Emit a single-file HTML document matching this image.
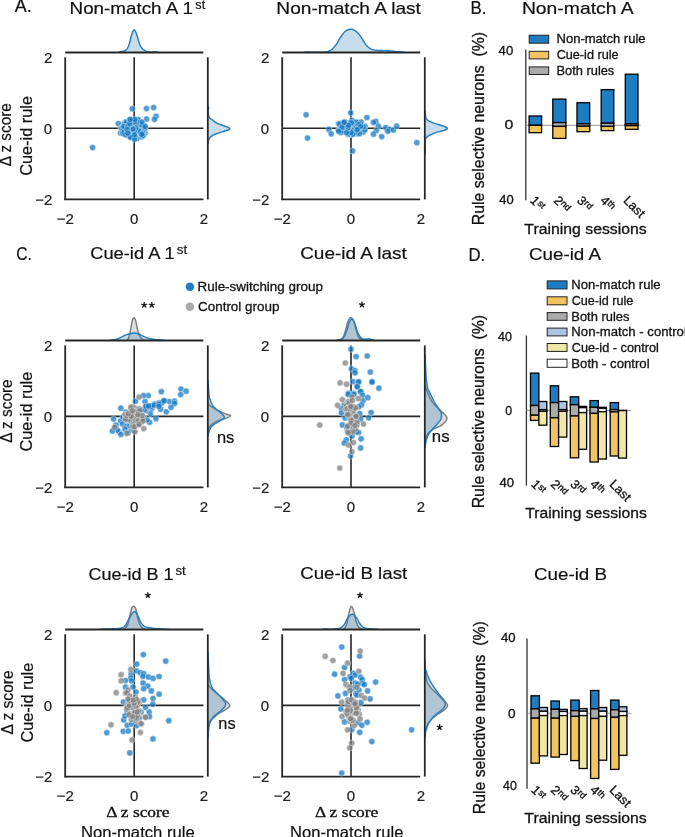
<!DOCTYPE html>
<html><head><meta charset="utf-8"><title>figure</title>
<style>
html,body{margin:0;padding:0;background:#fff;}
body{width:685px;height:837px;overflow:hidden;font-family:"Liberation Sans",sans-serif;}
svg{display:block;will-change:transform;}
text{stroke:#111;stroke-width:0.2px;}
text.c{stroke-width:0.3px;}
text.s{stroke-width:0.3px;}
</style></head><body>
<svg width="685" height="837" viewBox="0 0 685 837">
<rect x="0" y="0" width="685" height="837" fill="#fff"/>
<path d="M65.2 52.5 L65.2 52.5 L65.89 52.5 L66.58 52.5 L67.27 52.5 L67.96 52.5 L68.66 52.5 L69.35 52.5 L70.04 52.5 L70.73 52.5 L71.42 52.5 L72.11 52.5 L72.8 52.5 L73.49 52.5 L74.18 52.5 L74.87 52.5 L75.56 52.5 L76.26 52.5 L76.95 52.5 L77.64 52.5 L78.33 52.5 L79.02 52.5 L79.71 52.5 L80.4 52.5 L81.09 52.5 L81.78 52.5 L82.47 52.5 L83.17 52.5 L83.86 52.5 L84.55 52.5 L85.24 52.5 L85.93 52.5 L86.62 52.5 L87.31 52.5 L88 52.5 L88.69 52.5 L89.39 52.5 L90.08 52.5 L90.77 52.5 L91.46 52.5 L92.15 52.5 L92.84 52.5 L93.53 52.5 L94.22 52.5 L94.91 52.5 L95.6 52.5 L96.3 52.5 L96.99 52.5 L97.68 52.5 L98.37 52.5 L99.06 52.5 L99.75 52.5 L100.44 52.5 L101.13 52.5 L101.82 52.5 L102.51 52.5 L103.2 52.5 L103.9 52.5 L104.59 52.5 L105.28 52.5 L105.97 52.5 L106.66 52.5 L107.35 52.5 L108.04 52.5 L108.73 52.5 L109.42 52.5 L110.12 52.5 L110.81 52.5 L111.5 52.5 L112.19 52.5 L112.88 52.5 L113.57 52.5 L114.26 52.5 L114.95 52.5 L115.64 52.5 L116.33 52.5 L117.03 52.5 L117.72 52.5 L118.41 52.37 L119.1 52.15 L119.79 51.96 L120.48 51.82 L121.17 51.69 L121.86 51.56 L122.55 51.42 L123.24 51.24 L123.94 51.02 L124.63 50.71 L125.32 50.32 L126.01 49.82 L126.7 49.2 L127.39 48.34 L128.08 46.98 L128.77 45.26 L129.46 43.29 L130.15 40.47 L130.84 37.4 L131.54 35.12 L132.23 33.09 L132.92 31.29 L133.61 30.09 L134.3 29.84 L134.99 30.56 L135.68 31.93 L136.37 33.65 L137.06 35.45 L137.75 37.95 L138.45 40.71 L139.14 42.84 L139.83 44.6 L140.52 46.11 L141.21 47.28 L141.9 48.13 L142.59 48.86 L143.28 49.46 L143.97 49.97 L144.66 50.39 L145.36 50.77 L146.05 51.11 L146.74 51.4 L147.43 51.62 L148.12 51.76 L148.81 51.89 L149.5 51.99 L150.19 52.07 L150.88 52.1 L151.57 52.08 L152.27 52.01 L152.96 51.91 L153.65 51.81 L154.34 51.73 L155.03 51.7 L155.72 51.76 L156.41 51.9 L157.1 52.08 L157.79 52.23 L158.49 52.34 L159.18 52.43 L159.87 52.49 L160.56 52.5 L161.25 52.5 L161.94 52.5 L162.63 52.5 L163.32 52.5 L164.01 52.5 L164.7 52.5 L165.39 52.5 L166.09 52.5 L166.78 52.5 L167.47 52.5 L168.16 52.5 L168.85 52.5 L169.54 52.5 L170.23 52.5 L170.92 52.5 L171.61 52.5 L172.31 52.5 L173 52.5 L173.69 52.5 L174.38 52.5 L175.07 52.5 L175.76 52.5 L176.45 52.5 L177.14 52.5 L177.83 52.5 L178.52 52.5 L179.21 52.5 L179.91 52.5 L180.6 52.5 L181.29 52.5 L181.98 52.5 L182.67 52.5 L183.36 52.5 L184.05 52.5 L184.74 52.5 L185.43 52.5 L186.12 52.5 L186.82 52.5 L187.51 52.5 L188.2 52.5 L188.89 52.5 L189.58 52.5 L190.27 52.5 L190.96 52.5 L191.65 52.5 L192.34 52.5 L193.03 52.5 L193.73 52.5 L194.42 52.5 L195.11 52.5 L195.8 52.5 L196.49 52.5 L197.18 52.5 L197.87 52.5 L198.56 52.5 L199.25 52.5 L199.94 52.5 L200.64 52.5 L201.33 52.5 L202.02 52.5 L202.71 52.5 L203.4 52.5 L203.4 52.5 Z" fill="rgb(31,119,180)" fill-opacity="0.25" stroke="none"/>
<path d="M119.1 52.15 L119.79 51.96 L120.48 51.82 L121.17 51.69 L121.86 51.56 L122.55 51.42 L123.24 51.24 L123.94 51.02 L124.63 50.71 L125.32 50.32 L126.01 49.82 L126.7 49.2 L127.39 48.34 L128.08 46.98 L128.77 45.26 L129.46 43.29 L130.15 40.47 L130.84 37.4 L131.54 35.12 L132.23 33.09 L132.92 31.29 L133.61 30.09 L134.3 29.84 L134.99 30.56 L135.68 31.93 L136.37 33.65 L137.06 35.45 L137.75 37.95 L138.45 40.71 L139.14 42.84 L139.83 44.6 L140.52 46.11 L141.21 47.28 L141.9 48.13 L142.59 48.86 L143.28 49.46 L143.97 49.97 L144.66 50.39 L145.36 50.77 L146.05 51.11 L146.74 51.4 L147.43 51.62 L148.12 51.76 L148.81 51.89 L149.5 51.99 L150.19 52.07 L150.88 52.1 L151.57 52.08 L152.27 52.01 L152.96 51.91 L153.65 51.81 L154.34 51.73 L155.03 51.7 L155.72 51.76 L156.41 51.9 L157.1 52.08 L157.79 52.23 L158.49 52.34" fill="none" stroke="rgb(38,125,190)" stroke-width="1.45" stroke-linejoin="round" stroke-linecap="round"/>
<path d="M207.8 57.3 L207.8 57.3 L207.8 58.01 L207.8 58.72 L207.8 59.43 L207.8 60.14 L207.8 60.85 L207.8 61.56 L207.8 62.27 L207.8 62.98 L207.8 63.69 L207.8 64.41 L207.8 65.12 L207.8 65.83 L207.8 66.54 L207.8 67.25 L207.8 67.96 L207.8 68.67 L207.8 69.38 L207.8 70.09 L207.8 70.8 L207.8 71.51 L207.8 72.22 L207.8 72.93 L207.8 73.64 L207.8 74.35 L207.8 75.06 L207.8 75.77 L207.8 76.48 L207.8 77.19 L207.8 77.9 L207.8 78.62 L207.8 79.33 L207.8 80.04 L207.8 80.75 L207.8 81.46 L207.8 82.17 L207.8 82.88 L207.8 83.59 L207.8 84.3 L207.8 85.01 L207.8 85.72 L207.8 86.43 L207.8 87.14 L207.8 87.85 L207.8 88.56 L207.8 89.27 L207.8 89.98 L207.8 90.69 L207.8 91.4 L207.8 92.11 L207.8 92.83 L207.8 93.54 L207.8 94.25 L207.8 94.96 L207.8 95.67 L207.8 96.38 L207.8 97.09 L207.8 97.8 L207.8 98.51 L207.8 99.22 L207.8 99.93 L207.8 100.64 L207.8 101.35 L207.8 102.06 L207.8 102.77 L207.8 103.48 L207.8 104.19 L207.85 104.9 L207.94 105.61 L208.07 106.32 L208.33 107.03 L208.59 107.75 L208.7 108.46 L208.55 109.17 L208.28 109.88 L208.05 110.59 L208 111.3 L208.03 112.01 L208.07 112.72 L208.13 113.43 L208.24 114.14 L208.39 114.85 L208.6 115.56 L208.85 116.27 L209.15 116.98 L209.55 117.69 L210.28 118.4 L211.23 119.11 L212.25 119.82 L213.2 120.53 L214.08 121.25 L214.99 121.96 L216.02 122.67 L217.25 123.38 L218.99 124.09 L221.09 124.8 L223.12 125.51 L224.94 126.22 L226.92 126.93 L228.67 127.64 L229.75 128.35 L229.7 129.06 L228.4 129.77 L226.36 130.48 L224.18 131.19 L222.13 131.9 L219.8 132.61 L217.59 133.32 L215.7 134.03 L213.99 134.74 L212.64 135.46 L211.56 136.17 L210.71 136.88 L210.09 137.59 L209.57 138.3 L209.14 139.01 L208.8 139.72 L208.56 140.43 L208.36 141.14 L208.2 141.85 L208.07 142.56 L207.96 143.27 L207.87 143.98 L207.81 144.69 L207.8 145.4 L207.8 146.11 L207.8 146.82 L207.8 147.53 L207.8 148.24 L207.8 148.95 L207.8 149.67 L207.8 150.38 L207.8 151.09 L207.8 151.8 L207.8 152.51 L207.8 153.22 L207.8 153.93 L207.8 154.64 L207.8 155.35 L207.8 156.06 L207.8 156.77 L207.8 157.48 L207.8 158.19 L207.8 158.9 L207.8 159.61 L207.8 160.32 L207.8 161.03 L207.8 161.74 L207.8 162.45 L207.8 163.16 L207.8 163.88 L207.8 164.59 L207.8 165.3 L207.8 166.01 L207.8 166.72 L207.8 167.43 L207.8 168.14 L207.8 168.85 L207.8 169.56 L207.8 170.27 L207.8 170.98 L207.8 171.69 L207.8 172.4 L207.8 173.11 L207.8 173.82 L207.8 174.53 L207.8 175.24 L207.8 175.95 L207.8 176.66 L207.8 177.37 L207.8 178.09 L207.8 178.8 L207.8 179.51 L207.8 180.22 L207.8 180.93 L207.8 181.64 L207.8 182.35 L207.8 183.06 L207.8 183.77 L207.8 184.48 L207.8 185.19 L207.8 185.9 L207.8 186.61 L207.8 187.32 L207.8 188.03 L207.8 188.74 L207.8 189.45 L207.8 190.16 L207.8 190.87 L207.8 191.58 L207.8 192.3 L207.8 193.01 L207.8 193.72 L207.8 194.43 L207.8 195.14 L207.8 195.85 L207.8 196.56 L207.8 197.27 L207.8 197.98 L207.8 198.69 L207.8 199.4 L207.8 199.4 Z" fill="rgb(31,119,180)" fill-opacity="0.25" stroke="none"/>
<path d="M208.07 106.32 L208.33 107.03 L208.59 107.75 L208.7 108.46 L208.55 109.17 L208.28 109.88 L208.05 110.59 L208 111.3 L208.03 112.01 L208.07 112.72 L208.13 113.43 L208.24 114.14 L208.39 114.85 L208.6 115.56 L208.85 116.27 L209.15 116.98 L209.55 117.69 L210.28 118.4 L211.23 119.11 L212.25 119.82 L213.2 120.53 L214.08 121.25 L214.99 121.96 L216.02 122.67 L217.25 123.38 L218.99 124.09 L221.09 124.8 L223.12 125.51 L224.94 126.22 L226.92 126.93 L228.67 127.64 L229.75 128.35 L229.7 129.06 L228.4 129.77 L226.36 130.48 L224.18 131.19 L222.13 131.9 L219.8 132.61 L217.59 133.32 L215.7 134.03 L213.99 134.74 L212.64 135.46 L211.56 136.17 L210.71 136.88 L210.09 137.59 L209.57 138.3 L209.14 139.01 L208.8 139.72 L208.56 140.43 L208.36 141.14 L208.2 141.85 L208.07 142.56 L207.96 143.27" fill="none" stroke="rgb(38,125,190)" stroke-width="1.45" stroke-linejoin="round" stroke-linecap="round"/>
<line x1="65.2" y1="52.5" x2="203.4" y2="52.5" stroke="#262626" stroke-width="1.8"/>
<line x1="65.2" y1="57.3" x2="65.2" y2="200.15" stroke="#262626" stroke-width="1.8"/>
<line x1="64.45" y1="199.4" x2="203.4" y2="199.4" stroke="#262626" stroke-width="1.8"/>
<line x1="65.2" y1="128.3" x2="203.4" y2="128.3" stroke="#262626" stroke-width="1.6"/>
<line x1="134.2" y1="57.3" x2="134.2" y2="199.4" stroke="#262626" stroke-width="1.6"/>
<line x1="207.8" y1="57.3" x2="207.8" y2="199.4" stroke="#262626" stroke-width="1.8"/>
<text x="43.91" y="62.55" font-family="Liberation Sans" font-size="15" text-anchor="start" fill="#222" textLength="8.34" lengthAdjust="spacingAndGlyphs">2</text>
<text x="43.73" y="133.55" font-family="Liberation Sans" font-size="15" text-anchor="start" fill="#222" textLength="8.34" lengthAdjust="spacingAndGlyphs">0</text>
<text x="35.15" y="204.65" font-family="Liberation Sans" font-size="15" text-anchor="start" fill="#222" textLength="17.1" lengthAdjust="spacingAndGlyphs">−2</text>
<text x="56.66" y="223.9" font-family="Liberation Sans" font-size="15" text-anchor="start" fill="#222" textLength="17.1" lengthAdjust="spacingAndGlyphs">−2</text>
<text x="130.02" y="223.9" font-family="Liberation Sans" font-size="15" text-anchor="start" fill="#222" textLength="8.34" lengthAdjust="spacingAndGlyphs">0</text>
<text x="199.83" y="223.9" font-family="Liberation Sans" font-size="15" text-anchor="start" fill="#222" textLength="8.34" lengthAdjust="spacingAndGlyphs">2</text>
<circle cx="92.6" cy="147.6" r="3.1" fill="rgb(22,122,195)" fill-opacity="0.75" stroke="#fff" stroke-width="0.45" stroke-opacity="0.9"/>
<circle cx="132.2" cy="108.8" r="3.1" fill="rgb(22,122,195)" fill-opacity="0.75" stroke="#fff" stroke-width="0.45" stroke-opacity="0.9"/>
<circle cx="146.5" cy="108.6" r="3.1" fill="rgb(22,122,195)" fill-opacity="0.75" stroke="#fff" stroke-width="0.45" stroke-opacity="0.9"/>
<circle cx="153.6" cy="107.5" r="3.1" fill="rgb(22,122,195)" fill-opacity="0.75" stroke="#fff" stroke-width="0.45" stroke-opacity="0.9"/>
<circle cx="156" cy="116.3" r="3.1" fill="rgb(22,122,195)" fill-opacity="0.75" stroke="#fff" stroke-width="0.45" stroke-opacity="0.9"/>
<circle cx="154.5" cy="119.3" r="3.1" fill="rgb(22,122,195)" fill-opacity="0.75" stroke="#fff" stroke-width="0.45" stroke-opacity="0.9"/>
<circle cx="146.5" cy="119" r="3.1" fill="rgb(22,122,195)" fill-opacity="0.75" stroke="#fff" stroke-width="0.45" stroke-opacity="0.9"/>
<circle cx="118.4" cy="123.6" r="3.1" fill="rgb(22,122,195)" fill-opacity="0.75" stroke="#fff" stroke-width="0.45" stroke-opacity="0.9"/>
<circle cx="125.5" cy="122" r="3.1" fill="rgb(22,122,195)" fill-opacity="0.75" stroke="#fff" stroke-width="0.45" stroke-opacity="0.9"/>
<circle cx="121" cy="128" r="3.1" fill="rgb(22,122,195)" fill-opacity="0.75" stroke="#fff" stroke-width="0.45" stroke-opacity="0.9"/>
<circle cx="120.5" cy="133" r="3.1" fill="rgb(22,122,195)" fill-opacity="0.75" stroke="#fff" stroke-width="0.45" stroke-opacity="0.9"/>
<circle cx="129.43" cy="121.94" r="3.1" fill="rgb(22,122,195)" fill-opacity="0.75" stroke="#fff" stroke-width="0.45" stroke-opacity="0.9"/>
<circle cx="137.54" cy="120.31" r="3.1" fill="rgb(22,122,195)" fill-opacity="0.75" stroke="#fff" stroke-width="0.45" stroke-opacity="0.9"/>
<circle cx="134.69" cy="126.41" r="3.1" fill="rgb(22,122,195)" fill-opacity="0.75" stroke="#fff" stroke-width="0.45" stroke-opacity="0.9"/>
<circle cx="122.84" cy="129.35" r="3.1" fill="rgb(22,122,195)" fill-opacity="0.75" stroke="#fff" stroke-width="0.45" stroke-opacity="0.9"/>
<circle cx="122.33" cy="127.82" r="3.1" fill="rgb(22,122,195)" fill-opacity="0.75" stroke="#fff" stroke-width="0.45" stroke-opacity="0.9"/>
<circle cx="131.93" cy="136" r="3.1" fill="rgb(22,122,195)" fill-opacity="0.75" stroke="#fff" stroke-width="0.45" stroke-opacity="0.9"/>
<circle cx="124.47" cy="123.44" r="3.1" fill="rgb(22,122,195)" fill-opacity="0.75" stroke="#fff" stroke-width="0.45" stroke-opacity="0.9"/>
<circle cx="136.96" cy="138.51" r="3.1" fill="rgb(22,122,195)" fill-opacity="0.75" stroke="#fff" stroke-width="0.45" stroke-opacity="0.9"/>
<circle cx="135.71" cy="127.05" r="3.1" fill="rgb(22,122,195)" fill-opacity="0.75" stroke="#fff" stroke-width="0.45" stroke-opacity="0.9"/>
<circle cx="142.69" cy="124.82" r="3.1" fill="rgb(22,122,195)" fill-opacity="0.75" stroke="#fff" stroke-width="0.45" stroke-opacity="0.9"/>
<circle cx="129.05" cy="135.78" r="3.1" fill="rgb(22,122,195)" fill-opacity="0.75" stroke="#fff" stroke-width="0.45" stroke-opacity="0.9"/>
<circle cx="125.88" cy="130.9" r="3.1" fill="rgb(22,122,195)" fill-opacity="0.75" stroke="#fff" stroke-width="0.45" stroke-opacity="0.9"/>
<circle cx="137.25" cy="126.55" r="3.1" fill="rgb(22,122,195)" fill-opacity="0.75" stroke="#fff" stroke-width="0.45" stroke-opacity="0.9"/>
<circle cx="134.98" cy="120.11" r="3.1" fill="rgb(22,122,195)" fill-opacity="0.75" stroke="#fff" stroke-width="0.45" stroke-opacity="0.9"/>
<circle cx="138.27" cy="127.69" r="3.1" fill="rgb(22,122,195)" fill-opacity="0.75" stroke="#fff" stroke-width="0.45" stroke-opacity="0.9"/>
<circle cx="129.19" cy="130.98" r="3.1" fill="rgb(22,122,195)" fill-opacity="0.75" stroke="#fff" stroke-width="0.45" stroke-opacity="0.9"/>
<circle cx="132.64" cy="125.04" r="3.1" fill="rgb(22,122,195)" fill-opacity="0.75" stroke="#fff" stroke-width="0.45" stroke-opacity="0.9"/>
<circle cx="141.1" cy="133.34" r="3.1" fill="rgb(22,122,195)" fill-opacity="0.75" stroke="#fff" stroke-width="0.45" stroke-opacity="0.9"/>
<circle cx="127.45" cy="130.75" r="3.1" fill="rgb(22,122,195)" fill-opacity="0.75" stroke="#fff" stroke-width="0.45" stroke-opacity="0.9"/>
<circle cx="134.42" cy="137" r="3.1" fill="rgb(22,122,195)" fill-opacity="0.75" stroke="#fff" stroke-width="0.45" stroke-opacity="0.9"/>
<circle cx="139.49" cy="124.79" r="3.1" fill="rgb(22,122,195)" fill-opacity="0.75" stroke="#fff" stroke-width="0.45" stroke-opacity="0.9"/>
<circle cx="131.77" cy="134.55" r="3.1" fill="rgb(22,122,195)" fill-opacity="0.75" stroke="#fff" stroke-width="0.45" stroke-opacity="0.9"/>
<circle cx="125.17" cy="128.97" r="3.1" fill="rgb(22,122,195)" fill-opacity="0.75" stroke="#fff" stroke-width="0.45" stroke-opacity="0.9"/>
<circle cx="122.37" cy="132.7" r="3.1" fill="rgb(22,122,195)" fill-opacity="0.75" stroke="#fff" stroke-width="0.45" stroke-opacity="0.9"/>
<circle cx="140.36" cy="130.72" r="3.1" fill="rgb(22,122,195)" fill-opacity="0.75" stroke="#fff" stroke-width="0.45" stroke-opacity="0.9"/>
<circle cx="143.11" cy="125.33" r="3.1" fill="rgb(22,122,195)" fill-opacity="0.75" stroke="#fff" stroke-width="0.45" stroke-opacity="0.9"/>
<circle cx="138.64" cy="131.16" r="3.1" fill="rgb(22,122,195)" fill-opacity="0.75" stroke="#fff" stroke-width="0.45" stroke-opacity="0.9"/>
<circle cx="135.78" cy="128.29" r="3.1" fill="rgb(22,122,195)" fill-opacity="0.75" stroke="#fff" stroke-width="0.45" stroke-opacity="0.9"/>
<circle cx="133.16" cy="132.61" r="3.1" fill="rgb(22,122,195)" fill-opacity="0.75" stroke="#fff" stroke-width="0.45" stroke-opacity="0.9"/>
<circle cx="122.9" cy="133.39" r="3.1" fill="rgb(22,122,195)" fill-opacity="0.75" stroke="#fff" stroke-width="0.45" stroke-opacity="0.9"/>
<circle cx="141.78" cy="124.72" r="3.1" fill="rgb(22,122,195)" fill-opacity="0.75" stroke="#fff" stroke-width="0.45" stroke-opacity="0.9"/>
<circle cx="130.97" cy="132.71" r="3.1" fill="rgb(22,122,195)" fill-opacity="0.75" stroke="#fff" stroke-width="0.45" stroke-opacity="0.9"/>
<circle cx="121.96" cy="128.4" r="3.1" fill="rgb(22,122,195)" fill-opacity="0.75" stroke="#fff" stroke-width="0.45" stroke-opacity="0.9"/>
<circle cx="124.61" cy="123.95" r="3.1" fill="rgb(22,122,195)" fill-opacity="0.75" stroke="#fff" stroke-width="0.45" stroke-opacity="0.9"/>
<circle cx="131.1" cy="136.93" r="3.1" fill="rgb(22,122,195)" fill-opacity="0.75" stroke="#fff" stroke-width="0.45" stroke-opacity="0.9"/>
<circle cx="123.4" cy="128.14" r="3.1" fill="rgb(22,122,195)" fill-opacity="0.75" stroke="#fff" stroke-width="0.45" stroke-opacity="0.9"/>
<circle cx="135.03" cy="137.17" r="3.1" fill="rgb(22,122,195)" fill-opacity="0.75" stroke="#fff" stroke-width="0.45" stroke-opacity="0.9"/>
<circle cx="141.72" cy="136.77" r="3.1" fill="rgb(22,122,195)" fill-opacity="0.75" stroke="#fff" stroke-width="0.45" stroke-opacity="0.9"/>
<circle cx="128.3" cy="127.44" r="3.1" fill="rgb(22,122,195)" fill-opacity="0.75" stroke="#fff" stroke-width="0.45" stroke-opacity="0.9"/>
<circle cx="130.3" cy="137.19" r="3.1" fill="rgb(22,122,195)" fill-opacity="0.75" stroke="#fff" stroke-width="0.45" stroke-opacity="0.9"/>
<circle cx="125.77" cy="123.62" r="3.1" fill="rgb(22,122,195)" fill-opacity="0.75" stroke="#fff" stroke-width="0.45" stroke-opacity="0.9"/>
<circle cx="127.19" cy="128.89" r="3.1" fill="rgb(22,122,195)" fill-opacity="0.75" stroke="#fff" stroke-width="0.45" stroke-opacity="0.9"/>
<circle cx="136.01" cy="124.27" r="3.1" fill="rgb(22,122,195)" fill-opacity="0.75" stroke="#fff" stroke-width="0.45" stroke-opacity="0.9"/>
<circle cx="130.56" cy="130.58" r="3.1" fill="rgb(22,122,195)" fill-opacity="0.75" stroke="#fff" stroke-width="0.45" stroke-opacity="0.9"/>
<circle cx="145.04" cy="133.16" r="3.1" fill="rgb(22,122,195)" fill-opacity="0.75" stroke="#fff" stroke-width="0.45" stroke-opacity="0.9"/>
<circle cx="134.18" cy="131.65" r="3.1" fill="rgb(22,122,195)" fill-opacity="0.75" stroke="#fff" stroke-width="0.45" stroke-opacity="0.9"/>
<circle cx="138.17" cy="119.92" r="3.1" fill="rgb(22,122,195)" fill-opacity="0.75" stroke="#fff" stroke-width="0.45" stroke-opacity="0.9"/>
<circle cx="143.71" cy="135.02" r="3.1" fill="rgb(22,122,195)" fill-opacity="0.75" stroke="#fff" stroke-width="0.45" stroke-opacity="0.9"/>
<circle cx="143.09" cy="135.4" r="3.1" fill="rgb(22,122,195)" fill-opacity="0.75" stroke="#fff" stroke-width="0.45" stroke-opacity="0.9"/>
<circle cx="131.13" cy="127.1" r="3.1" fill="rgb(22,122,195)" fill-opacity="0.75" stroke="#fff" stroke-width="0.45" stroke-opacity="0.9"/>
<circle cx="123.97" cy="131.99" r="3.1" fill="rgb(22,122,195)" fill-opacity="0.75" stroke="#fff" stroke-width="0.45" stroke-opacity="0.9"/>
<circle cx="126.58" cy="122.18" r="3.1" fill="rgb(22,122,195)" fill-opacity="0.75" stroke="#fff" stroke-width="0.45" stroke-opacity="0.9"/>
<circle cx="129.83" cy="119.89" r="3.1" fill="rgb(22,122,195)" fill-opacity="0.75" stroke="#fff" stroke-width="0.45" stroke-opacity="0.9"/>
<circle cx="123.92" cy="126.36" r="3.1" fill="rgb(22,122,195)" fill-opacity="0.75" stroke="#fff" stroke-width="0.45" stroke-opacity="0.9"/>
<circle cx="136.63" cy="121.89" r="3.1" fill="rgb(22,122,195)" fill-opacity="0.75" stroke="#fff" stroke-width="0.45" stroke-opacity="0.9"/>
<circle cx="127.66" cy="126.03" r="3.1" fill="rgb(22,122,195)" fill-opacity="0.75" stroke="#fff" stroke-width="0.45" stroke-opacity="0.9"/>
<circle cx="130.43" cy="121.36" r="3.1" fill="rgb(22,122,195)" fill-opacity="0.75" stroke="#fff" stroke-width="0.45" stroke-opacity="0.9"/>
<circle cx="132.96" cy="128.86" r="3.1" fill="rgb(22,122,195)" fill-opacity="0.75" stroke="#fff" stroke-width="0.45" stroke-opacity="0.9"/>
<circle cx="129.9" cy="124.31" r="3.1" fill="rgb(22,122,195)" fill-opacity="0.75" stroke="#fff" stroke-width="0.45" stroke-opacity="0.9"/>
<circle cx="141.96" cy="122.16" r="3.1" fill="rgb(22,122,195)" fill-opacity="0.75" stroke="#fff" stroke-width="0.45" stroke-opacity="0.9"/>
<circle cx="134.5" cy="121.85" r="3.1" fill="rgb(22,122,195)" fill-opacity="0.75" stroke="#fff" stroke-width="0.45" stroke-opacity="0.9"/>
<circle cx="134.87" cy="119.36" r="3.1" fill="rgb(22,122,195)" fill-opacity="0.75" stroke="#fff" stroke-width="0.45" stroke-opacity="0.9"/>
<circle cx="134.5" cy="139.15" r="3.1" fill="rgb(22,122,195)" fill-opacity="0.75" stroke="#fff" stroke-width="0.45" stroke-opacity="0.9"/>
<circle cx="142.81" cy="133.28" r="3.1" fill="rgb(22,122,195)" fill-opacity="0.75" stroke="#fff" stroke-width="0.45" stroke-opacity="0.9"/>
<circle cx="127.88" cy="126.43" r="3.1" fill="rgb(22,122,195)" fill-opacity="0.75" stroke="#fff" stroke-width="0.45" stroke-opacity="0.9"/>
<circle cx="125.54" cy="134.86" r="3.1" fill="rgb(22,122,195)" fill-opacity="0.75" stroke="#fff" stroke-width="0.45" stroke-opacity="0.9"/>
<circle cx="134.61" cy="135" r="3.1" fill="rgb(22,122,195)" fill-opacity="0.75" stroke="#fff" stroke-width="0.45" stroke-opacity="0.9"/>
<circle cx="129.58" cy="123.44" r="3.1" fill="rgb(22,122,195)" fill-opacity="0.75" stroke="#fff" stroke-width="0.45" stroke-opacity="0.9"/>
<circle cx="142.55" cy="135.57" r="3.1" fill="rgb(22,122,195)" fill-opacity="0.75" stroke="#fff" stroke-width="0.45" stroke-opacity="0.9"/>
<circle cx="141.69" cy="134.19" r="3.1" fill="rgb(22,122,195)" fill-opacity="0.75" stroke="#fff" stroke-width="0.45" stroke-opacity="0.9"/>
<circle cx="127.02" cy="129.57" r="3.1" fill="rgb(22,122,195)" fill-opacity="0.75" stroke="#fff" stroke-width="0.45" stroke-opacity="0.9"/>
<circle cx="130.22" cy="119.4" r="3.1" fill="rgb(22,122,195)" fill-opacity="0.75" stroke="#fff" stroke-width="0.45" stroke-opacity="0.9"/>
<circle cx="127.83" cy="133.2" r="3.1" fill="rgb(22,122,195)" fill-opacity="0.75" stroke="#fff" stroke-width="0.45" stroke-opacity="0.9"/>
<circle cx="145.12" cy="128.1" r="3.1" fill="rgb(22,122,195)" fill-opacity="0.75" stroke="#fff" stroke-width="0.45" stroke-opacity="0.9"/>
<circle cx="145.08" cy="126.38" r="3.1" fill="rgb(22,122,195)" fill-opacity="0.75" stroke="#fff" stroke-width="0.45" stroke-opacity="0.9"/>
<path d="M282.2 52.5 L282.2 52.5 L282.89 52.5 L283.58 52.5 L284.27 52.5 L284.96 52.5 L285.65 52.5 L286.34 52.5 L287.03 52.5 L287.72 52.5 L288.41 52.5 L289.1 52.5 L289.79 52.5 L290.48 52.5 L291.17 52.5 L291.86 52.5 L292.55 52.5 L293.24 52.5 L293.93 52.5 L294.62 52.5 L295.31 52.5 L296 52.5 L296.69 52.5 L297.38 52.5 L298.07 52.5 L298.76 52.5 L299.45 52.5 L300.14 52.5 L300.83 52.5 L301.52 52.5 L302.21 52.5 L302.9 52.5 L303.59 52.45 L304.28 52.32 L304.97 52.2 L305.66 52.14 L306.35 52.08 L307.04 52.03 L307.73 52 L308.42 52.01 L309.11 52.06 L309.8 52.13 L310.49 52.2 L311.18 52.27 L311.87 52.3 L312.56 52.3 L313.25 52.3 L313.94 52.3 L314.63 52.3 L315.32 52.3 L316.01 52.29 L316.7 52.29 L317.39 52.29 L318.08 52.29 L318.77 52.28 L319.46 52.28 L320.15 52.27 L320.84 52.27 L321.53 52.26 L322.22 52.26 L322.91 52.25 L323.6 52.24 L324.29 52.23 L324.98 52.16 L325.67 52.05 L326.36 51.89 L327.05 51.69 L327.74 51.46 L328.43 51.2 L329.12 50.92 L329.81 50.61 L330.5 50.3 L331.19 49.91 L331.88 49.39 L332.57 48.76 L333.26 48.05 L333.95 47.27 L334.64 46.44 L335.33 45.58 L336.02 44.72 L336.71 43.72 L337.4 42.58 L338.09 41.36 L338.78 40.12 L339.47 38.89 L340.16 37.74 L340.85 36.7 L341.54 35.77 L342.23 34.83 L342.92 33.91 L343.61 33.02 L344.3 32.22 L344.99 31.52 L345.68 30.96 L346.37 30.57 L347.06 30.26 L347.75 29.97 L348.44 29.71 L349.13 29.5 L349.82 29.33 L350.51 29.23 L351.2 29.2 L351.89 29.28 L352.58 29.45 L353.27 29.72 L353.96 30.06 L354.65 30.46 L355.34 30.9 L356.03 31.37 L356.72 31.84 L357.41 32.4 L358.1 33.11 L358.79 33.95 L359.48 34.88 L360.17 35.87 L360.86 36.88 L361.55 37.87 L362.24 38.84 L362.93 39.88 L363.62 41 L364.31 42.16 L365 43.29 L365.69 44.36 L366.38 45.31 L367.07 46.09 L367.76 46.7 L368.45 47.27 L369.14 47.81 L369.83 48.3 L370.52 48.73 L371.21 49.1 L371.9 49.39 L372.59 49.6 L373.28 49.75 L373.97 49.89 L374.66 50.02 L375.35 50.13 L376.04 50.23 L376.73 50.32 L377.42 50.39 L378.11 50.45 L378.8 50.49 L379.49 50.51 L380.18 50.54 L380.87 50.55 L381.56 50.57 L382.25 50.58 L382.94 50.59 L383.63 50.6 L384.32 50.61 L385.01 50.62 L385.7 50.63 L386.39 50.65 L387.08 50.66 L387.77 50.68 L388.46 50.71 L389.15 50.75 L389.84 50.8 L390.53 50.87 L391.22 50.96 L391.91 51.05 L392.6 51.14 L393.29 51.24 L393.98 51.33 L394.67 51.43 L395.36 51.51 L396.05 51.59 L396.74 51.65 L397.43 51.71 L398.12 51.76 L398.81 51.81 L399.5 51.86 L400.19 51.91 L400.88 51.96 L401.57 52.01 L402.26 52.07 L402.95 52.13 L403.64 52.19 L404.33 52.27 L405.02 52.38 L405.71 52.48 L406.4 52.5 L407.09 52.5 L407.78 52.5 L408.47 52.5 L409.16 52.5 L409.85 52.5 L410.54 52.5 L411.23 52.5 L411.92 52.5 L412.61 52.5 L413.3 52.5 L413.99 52.5 L414.68 52.5 L415.37 52.5 L416.06 52.5 L416.75 52.5 L417.44 52.5 L418.13 52.5 L418.82 52.5 L419.51 52.5 L420.2 52.5 L420.2 52.5 Z" fill="rgb(31,119,180)" fill-opacity="0.25" stroke="none"/>
<path d="M304.28 52.32 L304.97 52.2 L305.66 52.14 L306.35 52.08 L307.04 52.03 L307.73 52 L308.42 52.01 L309.11 52.06 L309.8 52.13 L310.49 52.2 L311.18 52.27 L311.87 52.3 L312.56 52.3 L313.25 52.3 L313.94 52.3 L314.63 52.3 L315.32 52.3 L316.01 52.29 L316.7 52.29 L317.39 52.29 L318.08 52.29 L318.77 52.28 L319.46 52.28 L320.15 52.27 L320.84 52.27 L321.53 52.26 L322.22 52.26 L322.91 52.25 L323.6 52.24 L324.29 52.23 L324.98 52.16 L325.67 52.05 L326.36 51.89 L327.05 51.69 L327.74 51.46 L328.43 51.2 L329.12 50.92 L329.81 50.61 L330.5 50.3 L331.19 49.91 L331.88 49.39 L332.57 48.76 L333.26 48.05 L333.95 47.27 L334.64 46.44 L335.33 45.58 L336.02 44.72 L336.71 43.72 L337.4 42.58 L338.09 41.36 L338.78 40.12 L339.47 38.89 L340.16 37.74 L340.85 36.7 L341.54 35.77 L342.23 34.83 L342.92 33.91 L343.61 33.02 L344.3 32.22 L344.99 31.52 L345.68 30.96 L346.37 30.57 L347.06 30.26 L347.75 29.97 L348.44 29.71 L349.13 29.5 L349.82 29.33 L350.51 29.23 L351.2 29.2 L351.89 29.28 L352.58 29.45 L353.27 29.72 L353.96 30.06 L354.65 30.46 L355.34 30.9 L356.03 31.37 L356.72 31.84 L357.41 32.4 L358.1 33.11 L358.79 33.95 L359.48 34.88 L360.17 35.87 L360.86 36.88 L361.55 37.87 L362.24 38.84 L362.93 39.88 L363.62 41 L364.31 42.16 L365 43.29 L365.69 44.36 L366.38 45.31 L367.07 46.09 L367.76 46.7 L368.45 47.27 L369.14 47.81 L369.83 48.3 L370.52 48.73 L371.21 49.1 L371.9 49.39 L372.59 49.6 L373.28 49.75 L373.97 49.89 L374.66 50.02 L375.35 50.13 L376.04 50.23 L376.73 50.32 L377.42 50.39 L378.11 50.45 L378.8 50.49 L379.49 50.51 L380.18 50.54 L380.87 50.55 L381.56 50.57 L382.25 50.58 L382.94 50.59 L383.63 50.6 L384.32 50.61 L385.01 50.62 L385.7 50.63 L386.39 50.65 L387.08 50.66 L387.77 50.68 L388.46 50.71 L389.15 50.75 L389.84 50.8 L390.53 50.87 L391.22 50.96 L391.91 51.05 L392.6 51.14 L393.29 51.24 L393.98 51.33 L394.67 51.43 L395.36 51.51 L396.05 51.59 L396.74 51.65 L397.43 51.71 L398.12 51.76 L398.81 51.81 L399.5 51.86 L400.19 51.91 L400.88 51.96 L401.57 52.01 L402.26 52.07 L402.95 52.13 L403.64 52.19 L404.33 52.27" fill="none" stroke="rgb(38,125,190)" stroke-width="1.45" stroke-linejoin="round" stroke-linecap="round"/>
<path d="M424.8 57.3 L424.8 57.3 L424.8 58.01 L424.8 58.72 L424.8 59.43 L424.8 60.14 L424.8 60.85 L424.8 61.56 L424.8 62.27 L424.8 62.98 L424.8 63.69 L424.8 64.41 L424.8 65.12 L424.8 65.83 L424.8 66.54 L424.8 67.25 L424.8 67.96 L424.8 68.67 L424.8 69.38 L424.8 70.09 L424.8 70.8 L424.8 71.51 L424.8 72.22 L424.8 72.93 L424.8 73.64 L424.8 74.35 L424.8 75.06 L424.8 75.77 L424.8 76.48 L424.8 77.19 L424.8 77.9 L424.8 78.62 L424.8 79.33 L424.8 80.04 L424.8 80.75 L424.8 81.46 L424.8 82.17 L424.8 82.88 L424.8 83.59 L424.8 84.3 L424.8 85.01 L424.8 85.72 L424.8 86.43 L424.8 87.14 L424.8 87.85 L424.8 88.56 L424.8 89.27 L424.8 89.98 L424.8 90.69 L424.8 91.4 L424.8 92.11 L424.8 92.83 L424.8 93.54 L424.8 94.25 L424.8 94.96 L424.8 95.67 L424.8 96.38 L424.8 97.09 L424.8 97.8 L424.8 98.51 L424.8 99.22 L424.8 99.93 L424.8 100.64 L424.8 101.35 L424.8 102.06 L424.8 102.77 L424.8 103.48 L424.8 104.19 L424.8 104.9 L424.8 105.61 L424.8 106.32 L424.8 107.03 L424.8 107.75 L424.8 108.46 L424.8 109.17 L424.82 109.88 L424.93 110.59 L425.07 111.3 L425.16 112.01 L425.24 112.72 L425.31 113.43 L425.38 114.14 L425.45 114.85 L425.54 115.56 L425.66 116.27 L425.81 116.98 L426.03 117.69 L426.33 118.4 L426.71 119.11 L427.2 119.82 L428.08 120.53 L429.36 121.25 L430.86 121.96 L432.55 122.67 L434.65 123.38 L436.92 124.09 L439.2 124.8 L441.64 125.51 L443.64 126.22 L445.29 126.93 L446.72 127.64 L447.47 128.35 L447.06 129.06 L445.57 129.77 L443.65 130.48 L440.88 131.19 L437.89 131.9 L435.74 132.61 L433.84 133.32 L432.18 134.03 L430.69 134.74 L429.28 135.46 L428.05 136.17 L427.12 136.88 L426.43 137.59 L425.86 138.3 L425.52 139.01 L425.39 139.72 L425.28 140.43 L425.2 141.14 L425.14 141.85 L425.11 142.56 L425.1 143.27 L425.1 143.98 L425.1 144.69 L425.1 145.4 L425.1 146.11 L425.1 146.82 L425.11 147.53 L425.17 148.24 L425.23 148.95 L425.29 149.67 L425.3 150.38 L425.27 151.09 L425.22 151.8 L425.15 152.51 L425.07 153.22 L425 153.93 L424.94 154.64 L424.87 155.35 L424.81 156.06 L424.8 156.77 L424.8 157.48 L424.8 158.19 L424.8 158.9 L424.8 159.61 L424.8 160.32 L424.8 161.03 L424.8 161.74 L424.8 162.45 L424.8 163.16 L424.8 163.88 L424.8 164.59 L424.8 165.3 L424.8 166.01 L424.8 166.72 L424.8 167.43 L424.8 168.14 L424.8 168.85 L424.8 169.56 L424.8 170.27 L424.8 170.98 L424.8 171.69 L424.8 172.4 L424.8 173.11 L424.8 173.82 L424.8 174.53 L424.8 175.24 L424.8 175.95 L424.8 176.66 L424.8 177.37 L424.8 178.09 L424.8 178.8 L424.8 179.51 L424.8 180.22 L424.8 180.93 L424.8 181.64 L424.8 182.35 L424.8 183.06 L424.8 183.77 L424.8 184.48 L424.8 185.19 L424.8 185.9 L424.8 186.61 L424.8 187.32 L424.8 188.03 L424.8 188.74 L424.8 189.45 L424.8 190.16 L424.8 190.87 L424.8 191.58 L424.8 192.3 L424.8 193.01 L424.8 193.72 L424.8 194.43 L424.8 195.14 L424.8 195.85 L424.8 196.56 L424.8 197.27 L424.8 197.98 L424.8 198.69 L424.8 199.4 L424.8 199.4 Z" fill="rgb(31,119,180)" fill-opacity="0.25" stroke="none"/>
<path d="M425.07 111.3 L425.16 112.01 L425.24 112.72 L425.31 113.43 L425.38 114.14 L425.45 114.85 L425.54 115.56 L425.66 116.27 L425.81 116.98 L426.03 117.69 L426.33 118.4 L426.71 119.11 L427.2 119.82 L428.08 120.53 L429.36 121.25 L430.86 121.96 L432.55 122.67 L434.65 123.38 L436.92 124.09 L439.2 124.8 L441.64 125.51 L443.64 126.22 L445.29 126.93 L446.72 127.64 L447.47 128.35 L447.06 129.06 L445.57 129.77 L443.65 130.48 L440.88 131.19 L437.89 131.9 L435.74 132.61 L433.84 133.32 L432.18 134.03 L430.69 134.74 L429.28 135.46 L428.05 136.17 L427.12 136.88 L426.43 137.59 L425.86 138.3 L425.52 139.01 L425.39 139.72 L425.28 140.43 L425.2 141.14 L425.14 141.85 L425.11 142.56 L425.1 143.27 L425.1 143.98 L425.1 144.69 L425.1 145.4 L425.1 146.11 L425.1 146.82 L425.11 147.53 L425.17 148.24 L425.23 148.95 L425.29 149.67 L425.3 150.38 L425.27 151.09 L425.22 151.8 L425.15 152.51 L425.07 153.22 L425 153.93" fill="none" stroke="rgb(38,125,190)" stroke-width="1.45" stroke-linejoin="round" stroke-linecap="round"/>
<line x1="282.2" y1="52.5" x2="420.2" y2="52.5" stroke="#262626" stroke-width="1.8"/>
<line x1="282.2" y1="57.3" x2="282.2" y2="200.15" stroke="#262626" stroke-width="1.8"/>
<line x1="281.45" y1="199.4" x2="420.2" y2="199.4" stroke="#262626" stroke-width="1.8"/>
<line x1="282.2" y1="128.3" x2="420.2" y2="128.3" stroke="#262626" stroke-width="1.6"/>
<line x1="351" y1="57.3" x2="351" y2="199.4" stroke="#262626" stroke-width="1.6"/>
<line x1="424.8" y1="57.3" x2="424.8" y2="199.4" stroke="#262626" stroke-width="1.8"/>
<text x="260.91" y="62.55" font-family="Liberation Sans" font-size="15" text-anchor="start" fill="#222" textLength="8.34" lengthAdjust="spacingAndGlyphs">2</text>
<text x="260.73" y="133.55" font-family="Liberation Sans" font-size="15" text-anchor="start" fill="#222" textLength="8.34" lengthAdjust="spacingAndGlyphs">0</text>
<text x="252.15" y="204.65" font-family="Liberation Sans" font-size="15" text-anchor="start" fill="#222" textLength="17.1" lengthAdjust="spacingAndGlyphs">−2</text>
<text x="273.66" y="223.9" font-family="Liberation Sans" font-size="15" text-anchor="start" fill="#222" textLength="17.1" lengthAdjust="spacingAndGlyphs">−2</text>
<text x="346.82" y="223.9" font-family="Liberation Sans" font-size="15" text-anchor="start" fill="#222" textLength="8.34" lengthAdjust="spacingAndGlyphs">0</text>
<text x="416.63" y="223.9" font-family="Liberation Sans" font-size="15" text-anchor="start" fill="#222" textLength="8.34" lengthAdjust="spacingAndGlyphs">2</text>
<circle cx="306.1" cy="114.8" r="3.1" fill="rgb(22,122,195)" fill-opacity="0.75" stroke="#fff" stroke-width="0.45" stroke-opacity="0.9"/>
<circle cx="307.5" cy="138" r="3.1" fill="rgb(22,122,195)" fill-opacity="0.75" stroke="#fff" stroke-width="0.45" stroke-opacity="0.9"/>
<circle cx="350.7" cy="112.9" r="3.1" fill="rgb(22,122,195)" fill-opacity="0.75" stroke="#fff" stroke-width="0.45" stroke-opacity="0.9"/>
<circle cx="352.6" cy="150.9" r="3.1" fill="rgb(22,122,195)" fill-opacity="0.75" stroke="#fff" stroke-width="0.45" stroke-opacity="0.9"/>
<circle cx="416.8" cy="142.7" r="3.1" fill="rgb(22,122,195)" fill-opacity="0.75" stroke="#fff" stroke-width="0.45" stroke-opacity="0.9"/>
<circle cx="366.9" cy="117.5" r="3.1" fill="rgb(22,122,195)" fill-opacity="0.75" stroke="#fff" stroke-width="0.45" stroke-opacity="0.9"/>
<circle cx="375.8" cy="121.4" r="3.1" fill="rgb(22,122,195)" fill-opacity="0.75" stroke="#fff" stroke-width="0.45" stroke-opacity="0.9"/>
<circle cx="373.5" cy="122.4" r="3.1" fill="rgb(22,122,195)" fill-opacity="0.75" stroke="#fff" stroke-width="0.45" stroke-opacity="0.9"/>
<circle cx="378.3" cy="126.2" r="3.1" fill="rgb(22,122,195)" fill-opacity="0.75" stroke="#fff" stroke-width="0.45" stroke-opacity="0.9"/>
<circle cx="385.8" cy="127.5" r="3.1" fill="rgb(22,122,195)" fill-opacity="0.75" stroke="#fff" stroke-width="0.45" stroke-opacity="0.9"/>
<circle cx="389.6" cy="129.4" r="3.1" fill="rgb(22,122,195)" fill-opacity="0.75" stroke="#fff" stroke-width="0.45" stroke-opacity="0.9"/>
<circle cx="393.4" cy="130" r="3.1" fill="rgb(22,122,195)" fill-opacity="0.75" stroke="#fff" stroke-width="0.45" stroke-opacity="0.9"/>
<circle cx="396.7" cy="126.2" r="3.1" fill="rgb(22,122,195)" fill-opacity="0.75" stroke="#fff" stroke-width="0.45" stroke-opacity="0.9"/>
<circle cx="387.7" cy="131.3" r="3.1" fill="rgb(22,122,195)" fill-opacity="0.75" stroke="#fff" stroke-width="0.45" stroke-opacity="0.9"/>
<circle cx="376.4" cy="130.4" r="3.1" fill="rgb(22,122,195)" fill-opacity="0.75" stroke="#fff" stroke-width="0.45" stroke-opacity="0.9"/>
<circle cx="373.5" cy="134.2" r="3.1" fill="rgb(22,122,195)" fill-opacity="0.75" stroke="#fff" stroke-width="0.45" stroke-opacity="0.9"/>
<circle cx="381.7" cy="136.6" r="3.1" fill="rgb(22,122,195)" fill-opacity="0.75" stroke="#fff" stroke-width="0.45" stroke-opacity="0.9"/>
<circle cx="328.9" cy="129.4" r="3.1" fill="rgb(22,122,195)" fill-opacity="0.75" stroke="#fff" stroke-width="0.45" stroke-opacity="0.9"/>
<circle cx="331.2" cy="133.8" r="3.1" fill="rgb(22,122,195)" fill-opacity="0.75" stroke="#fff" stroke-width="0.45" stroke-opacity="0.9"/>
<circle cx="343.04" cy="123.45" r="3.1" fill="rgb(22,122,195)" fill-opacity="0.75" stroke="#fff" stroke-width="0.45" stroke-opacity="0.9"/>
<circle cx="342.34" cy="123.11" r="3.1" fill="rgb(22,122,195)" fill-opacity="0.75" stroke="#fff" stroke-width="0.45" stroke-opacity="0.9"/>
<circle cx="354.82" cy="133.68" r="3.1" fill="rgb(22,122,195)" fill-opacity="0.75" stroke="#fff" stroke-width="0.45" stroke-opacity="0.9"/>
<circle cx="361.14" cy="127.29" r="3.1" fill="rgb(22,122,195)" fill-opacity="0.75" stroke="#fff" stroke-width="0.45" stroke-opacity="0.9"/>
<circle cx="355.67" cy="132.15" r="3.1" fill="rgb(22,122,195)" fill-opacity="0.75" stroke="#fff" stroke-width="0.45" stroke-opacity="0.9"/>
<circle cx="339.08" cy="130.04" r="3.1" fill="rgb(22,122,195)" fill-opacity="0.75" stroke="#fff" stroke-width="0.45" stroke-opacity="0.9"/>
<circle cx="363.17" cy="131.89" r="3.1" fill="rgb(22,122,195)" fill-opacity="0.75" stroke="#fff" stroke-width="0.45" stroke-opacity="0.9"/>
<circle cx="358.5" cy="127.27" r="3.1" fill="rgb(22,122,195)" fill-opacity="0.75" stroke="#fff" stroke-width="0.45" stroke-opacity="0.9"/>
<circle cx="341.81" cy="131.99" r="3.1" fill="rgb(22,122,195)" fill-opacity="0.75" stroke="#fff" stroke-width="0.45" stroke-opacity="0.9"/>
<circle cx="346.31" cy="132.17" r="3.1" fill="rgb(22,122,195)" fill-opacity="0.75" stroke="#fff" stroke-width="0.45" stroke-opacity="0.9"/>
<circle cx="364.97" cy="126.02" r="3.1" fill="rgb(22,122,195)" fill-opacity="0.75" stroke="#fff" stroke-width="0.45" stroke-opacity="0.9"/>
<circle cx="348.32" cy="134.39" r="3.1" fill="rgb(22,122,195)" fill-opacity="0.75" stroke="#fff" stroke-width="0.45" stroke-opacity="0.9"/>
<circle cx="357.76" cy="122.58" r="3.1" fill="rgb(22,122,195)" fill-opacity="0.75" stroke="#fff" stroke-width="0.45" stroke-opacity="0.9"/>
<circle cx="340.87" cy="132.56" r="3.1" fill="rgb(22,122,195)" fill-opacity="0.75" stroke="#fff" stroke-width="0.45" stroke-opacity="0.9"/>
<circle cx="346.83" cy="128.34" r="3.1" fill="rgb(22,122,195)" fill-opacity="0.75" stroke="#fff" stroke-width="0.45" stroke-opacity="0.9"/>
<circle cx="364.95" cy="129.88" r="3.1" fill="rgb(22,122,195)" fill-opacity="0.75" stroke="#fff" stroke-width="0.45" stroke-opacity="0.9"/>
<circle cx="351.98" cy="134.19" r="3.1" fill="rgb(22,122,195)" fill-opacity="0.75" stroke="#fff" stroke-width="0.45" stroke-opacity="0.9"/>
<circle cx="349.27" cy="133.25" r="3.1" fill="rgb(22,122,195)" fill-opacity="0.75" stroke="#fff" stroke-width="0.45" stroke-opacity="0.9"/>
<circle cx="360.72" cy="123.21" r="3.1" fill="rgb(22,122,195)" fill-opacity="0.75" stroke="#fff" stroke-width="0.45" stroke-opacity="0.9"/>
<circle cx="343.95" cy="124.45" r="3.1" fill="rgb(22,122,195)" fill-opacity="0.75" stroke="#fff" stroke-width="0.45" stroke-opacity="0.9"/>
<circle cx="343.62" cy="128.91" r="3.1" fill="rgb(22,122,195)" fill-opacity="0.75" stroke="#fff" stroke-width="0.45" stroke-opacity="0.9"/>
<circle cx="344.17" cy="126.37" r="3.1" fill="rgb(22,122,195)" fill-opacity="0.75" stroke="#fff" stroke-width="0.45" stroke-opacity="0.9"/>
<circle cx="346.93" cy="126.96" r="3.1" fill="rgb(22,122,195)" fill-opacity="0.75" stroke="#fff" stroke-width="0.45" stroke-opacity="0.9"/>
<circle cx="353.63" cy="133.75" r="3.1" fill="rgb(22,122,195)" fill-opacity="0.75" stroke="#fff" stroke-width="0.45" stroke-opacity="0.9"/>
<circle cx="348.88" cy="133.95" r="3.1" fill="rgb(22,122,195)" fill-opacity="0.75" stroke="#fff" stroke-width="0.45" stroke-opacity="0.9"/>
<circle cx="351.25" cy="128.08" r="3.1" fill="rgb(22,122,195)" fill-opacity="0.75" stroke="#fff" stroke-width="0.45" stroke-opacity="0.9"/>
<circle cx="351.89" cy="120.28" r="3.1" fill="rgb(22,122,195)" fill-opacity="0.75" stroke="#fff" stroke-width="0.45" stroke-opacity="0.9"/>
<circle cx="349.45" cy="122.78" r="3.1" fill="rgb(22,122,195)" fill-opacity="0.75" stroke="#fff" stroke-width="0.45" stroke-opacity="0.9"/>
<circle cx="341.63" cy="127.2" r="3.1" fill="rgb(22,122,195)" fill-opacity="0.75" stroke="#fff" stroke-width="0.45" stroke-opacity="0.9"/>
<circle cx="357.78" cy="128.46" r="3.1" fill="rgb(22,122,195)" fill-opacity="0.75" stroke="#fff" stroke-width="0.45" stroke-opacity="0.9"/>
<circle cx="346.12" cy="127.88" r="3.1" fill="rgb(22,122,195)" fill-opacity="0.75" stroke="#fff" stroke-width="0.45" stroke-opacity="0.9"/>
<circle cx="352.82" cy="131.92" r="3.1" fill="rgb(22,122,195)" fill-opacity="0.75" stroke="#fff" stroke-width="0.45" stroke-opacity="0.9"/>
<circle cx="339.7" cy="128.52" r="3.1" fill="rgb(22,122,195)" fill-opacity="0.75" stroke="#fff" stroke-width="0.45" stroke-opacity="0.9"/>
<circle cx="343.86" cy="124.21" r="3.1" fill="rgb(22,122,195)" fill-opacity="0.75" stroke="#fff" stroke-width="0.45" stroke-opacity="0.9"/>
<circle cx="359.15" cy="127.72" r="3.1" fill="rgb(22,122,195)" fill-opacity="0.75" stroke="#fff" stroke-width="0.45" stroke-opacity="0.9"/>
<circle cx="353" cy="131.55" r="3.1" fill="rgb(22,122,195)" fill-opacity="0.75" stroke="#fff" stroke-width="0.45" stroke-opacity="0.9"/>
<circle cx="363.24" cy="126.74" r="3.1" fill="rgb(22,122,195)" fill-opacity="0.75" stroke="#fff" stroke-width="0.45" stroke-opacity="0.9"/>
<circle cx="354.49" cy="127.68" r="3.1" fill="rgb(22,122,195)" fill-opacity="0.75" stroke="#fff" stroke-width="0.45" stroke-opacity="0.9"/>
<circle cx="351.56" cy="130.53" r="3.1" fill="rgb(22,122,195)" fill-opacity="0.75" stroke="#fff" stroke-width="0.45" stroke-opacity="0.9"/>
<circle cx="349.81" cy="128.11" r="3.1" fill="rgb(22,122,195)" fill-opacity="0.75" stroke="#fff" stroke-width="0.45" stroke-opacity="0.9"/>
<circle cx="350.56" cy="134.31" r="3.1" fill="rgb(22,122,195)" fill-opacity="0.75" stroke="#fff" stroke-width="0.45" stroke-opacity="0.9"/>
<circle cx="357.02" cy="133.32" r="3.1" fill="rgb(22,122,195)" fill-opacity="0.75" stroke="#fff" stroke-width="0.45" stroke-opacity="0.9"/>
<circle cx="352.94" cy="134.34" r="3.1" fill="rgb(22,122,195)" fill-opacity="0.75" stroke="#fff" stroke-width="0.45" stroke-opacity="0.9"/>
<circle cx="361.13" cy="122.08" r="3.1" fill="rgb(22,122,195)" fill-opacity="0.75" stroke="#fff" stroke-width="0.45" stroke-opacity="0.9"/>
<circle cx="340.15" cy="126.72" r="3.1" fill="rgb(22,122,195)" fill-opacity="0.75" stroke="#fff" stroke-width="0.45" stroke-opacity="0.9"/>
<circle cx="338.72" cy="123.66" r="3.1" fill="rgb(22,122,195)" fill-opacity="0.75" stroke="#fff" stroke-width="0.45" stroke-opacity="0.9"/>
<circle cx="338.74" cy="130.18" r="3.1" fill="rgb(22,122,195)" fill-opacity="0.75" stroke="#fff" stroke-width="0.45" stroke-opacity="0.9"/>
<circle cx="359.49" cy="133.63" r="3.1" fill="rgb(22,122,195)" fill-opacity="0.75" stroke="#fff" stroke-width="0.45" stroke-opacity="0.9"/>
<circle cx="341.11" cy="130.89" r="3.1" fill="rgb(22,122,195)" fill-opacity="0.75" stroke="#fff" stroke-width="0.45" stroke-opacity="0.9"/>
<circle cx="355.88" cy="122.17" r="3.1" fill="rgb(22,122,195)" fill-opacity="0.75" stroke="#fff" stroke-width="0.45" stroke-opacity="0.9"/>
<circle cx="348.23" cy="127.41" r="3.1" fill="rgb(22,122,195)" fill-opacity="0.75" stroke="#fff" stroke-width="0.45" stroke-opacity="0.9"/>
<circle cx="341.31" cy="126.56" r="3.1" fill="rgb(22,122,195)" fill-opacity="0.75" stroke="#fff" stroke-width="0.45" stroke-opacity="0.9"/>
<circle cx="351.66" cy="125.15" r="3.1" fill="rgb(22,122,195)" fill-opacity="0.75" stroke="#fff" stroke-width="0.45" stroke-opacity="0.9"/>
<circle cx="342.32" cy="124.84" r="3.1" fill="rgb(22,122,195)" fill-opacity="0.75" stroke="#fff" stroke-width="0.45" stroke-opacity="0.9"/>
<circle cx="352.78" cy="126.69" r="3.1" fill="rgb(22,122,195)" fill-opacity="0.75" stroke="#fff" stroke-width="0.45" stroke-opacity="0.9"/>
<circle cx="354.82" cy="127.79" r="3.1" fill="rgb(22,122,195)" fill-opacity="0.75" stroke="#fff" stroke-width="0.45" stroke-opacity="0.9"/>
<circle cx="339.66" cy="124.04" r="3.1" fill="rgb(22,122,195)" fill-opacity="0.75" stroke="#fff" stroke-width="0.45" stroke-opacity="0.9"/>
<circle cx="344.5" cy="121.97" r="3.1" fill="rgb(22,122,195)" fill-opacity="0.75" stroke="#fff" stroke-width="0.45" stroke-opacity="0.9"/>
<circle cx="348.93" cy="133.85" r="3.1" fill="rgb(22,122,195)" fill-opacity="0.75" stroke="#fff" stroke-width="0.45" stroke-opacity="0.9"/>
<circle cx="360.51" cy="123.93" r="3.1" fill="rgb(22,122,195)" fill-opacity="0.75" stroke="#fff" stroke-width="0.45" stroke-opacity="0.9"/>
<circle cx="353.26" cy="130.65" r="3.1" fill="rgb(22,122,195)" fill-opacity="0.75" stroke="#fff" stroke-width="0.45" stroke-opacity="0.9"/>
<circle cx="356.7" cy="126.46" r="3.1" fill="rgb(22,122,195)" fill-opacity="0.75" stroke="#fff" stroke-width="0.45" stroke-opacity="0.9"/>
<circle cx="355.13" cy="132.18" r="3.1" fill="rgb(22,122,195)" fill-opacity="0.75" stroke="#fff" stroke-width="0.45" stroke-opacity="0.9"/>
<circle cx="349.85" cy="125.16" r="3.1" fill="rgb(22,122,195)" fill-opacity="0.75" stroke="#fff" stroke-width="0.45" stroke-opacity="0.9"/>
<circle cx="352.75" cy="134.09" r="3.1" fill="rgb(22,122,195)" fill-opacity="0.75" stroke="#fff" stroke-width="0.45" stroke-opacity="0.9"/>
<circle cx="344.42" cy="121.96" r="3.1" fill="rgb(22,122,195)" fill-opacity="0.75" stroke="#fff" stroke-width="0.45" stroke-opacity="0.9"/>
<circle cx="351.99" cy="123.62" r="3.1" fill="rgb(22,122,195)" fill-opacity="0.75" stroke="#fff" stroke-width="0.45" stroke-opacity="0.9"/>
<circle cx="345.71" cy="124.64" r="3.1" fill="rgb(22,122,195)" fill-opacity="0.75" stroke="#fff" stroke-width="0.45" stroke-opacity="0.9"/>
<circle cx="358.78" cy="124.41" r="3.1" fill="rgb(22,122,195)" fill-opacity="0.75" stroke="#fff" stroke-width="0.45" stroke-opacity="0.9"/>
<circle cx="351.2" cy="122.7" r="3.1" fill="rgb(22,122,195)" fill-opacity="0.75" stroke="#fff" stroke-width="0.45" stroke-opacity="0.9"/>
<circle cx="358.01" cy="128.38" r="3.1" fill="rgb(22,122,195)" fill-opacity="0.75" stroke="#fff" stroke-width="0.45" stroke-opacity="0.9"/>
<circle cx="342.13" cy="127.22" r="3.1" fill="rgb(22,122,195)" fill-opacity="0.75" stroke="#fff" stroke-width="0.45" stroke-opacity="0.9"/>
<circle cx="360.51" cy="126.57" r="3.1" fill="rgb(22,122,195)" fill-opacity="0.75" stroke="#fff" stroke-width="0.45" stroke-opacity="0.9"/>
<circle cx="351.05" cy="132.69" r="3.1" fill="rgb(22,122,195)" fill-opacity="0.75" stroke="#fff" stroke-width="0.45" stroke-opacity="0.9"/>
<circle cx="348.08" cy="127.7" r="3.1" fill="rgb(22,122,195)" fill-opacity="0.75" stroke="#fff" stroke-width="0.45" stroke-opacity="0.9"/>
<circle cx="346.61" cy="132.65" r="3.1" fill="rgb(22,122,195)" fill-opacity="0.75" stroke="#fff" stroke-width="0.45" stroke-opacity="0.9"/>
<circle cx="357.24" cy="129.67" r="3.1" fill="rgb(22,122,195)" fill-opacity="0.75" stroke="#fff" stroke-width="0.45" stroke-opacity="0.9"/>
<circle cx="348.42" cy="125.28" r="3.1" fill="rgb(22,122,195)" fill-opacity="0.75" stroke="#fff" stroke-width="0.45" stroke-opacity="0.9"/>
<circle cx="338.67" cy="131.26" r="3.1" fill="rgb(22,122,195)" fill-opacity="0.75" stroke="#fff" stroke-width="0.45" stroke-opacity="0.9"/>
<circle cx="344.06" cy="122.48" r="3.1" fill="rgb(22,122,195)" fill-opacity="0.75" stroke="#fff" stroke-width="0.45" stroke-opacity="0.9"/>
<path d="M65.2 340.5 L65.2 340.5 L65.89 340.5 L66.58 340.5 L67.27 340.5 L67.96 340.5 L68.66 340.5 L69.35 340.5 L70.04 340.5 L70.73 340.5 L71.42 340.5 L72.11 340.5 L72.8 340.5 L73.49 340.5 L74.18 340.5 L74.87 340.5 L75.56 340.5 L76.26 340.5 L76.95 340.5 L77.64 340.5 L78.33 340.5 L79.02 340.5 L79.71 340.5 L80.4 340.5 L81.09 340.5 L81.78 340.5 L82.47 340.5 L83.17 340.5 L83.86 340.5 L84.55 340.5 L85.24 340.5 L85.93 340.5 L86.62 340.5 L87.31 340.5 L88 340.5 L88.69 340.5 L89.39 340.5 L90.08 340.5 L90.77 340.5 L91.46 340.5 L92.15 340.5 L92.84 340.5 L93.53 340.5 L94.22 340.5 L94.91 340.5 L95.6 340.5 L96.3 340.5 L96.99 340.5 L97.68 340.5 L98.37 340.5 L99.06 340.5 L99.75 340.5 L100.44 340.5 L101.13 340.5 L101.82 340.5 L102.51 340.5 L103.2 340.5 L103.9 340.5 L104.59 340.5 L105.28 340.5 L105.97 340.5 L106.66 340.5 L107.35 340.5 L108.04 340.5 L108.73 340.5 L109.42 340.5 L110.12 340.5 L110.81 340.5 L111.5 340.5 L112.19 340.5 L112.88 340.5 L113.57 340.5 L114.26 340.5 L114.95 340.5 L115.64 340.5 L116.33 340.5 L117.03 340.5 L117.72 340.5 L118.41 340.5 L119.1 340.5 L119.79 340.5 L120.48 340.5 L121.17 340.5 L121.86 340.5 L122.55 340.5 L123.24 340.5 L123.94 340.5 L124.63 340.5 L125.32 340.5 L126.01 340.46 L126.7 340.23 L127.39 339.84 L128.08 339.07 L128.77 337.34 L129.46 335.07 L130.15 332.14 L130.84 328.29 L131.54 324.58 L132.23 320.8 L132.92 318.81 L133.61 317.87 L134.3 317.81 L134.99 318.66 L135.68 320.44 L136.37 324.2 L137.06 327.55 L137.75 330.58 L138.45 333.15 L139.14 334.82 L139.83 336.13 L140.52 337.22 L141.21 338.08 L141.9 338.7 L142.59 339.17 L143.28 339.56 L143.97 339.88 L144.66 340.12 L145.36 340.28 L146.05 340.41 L146.74 340.49 L147.43 340.5 L148.12 340.5 L148.81 340.5 L149.5 340.5 L150.19 340.5 L150.88 340.5 L151.57 340.5 L152.27 340.5 L152.96 340.5 L153.65 340.5 L154.34 340.5 L155.03 340.5 L155.72 340.5 L156.41 340.5 L157.1 340.5 L157.79 340.5 L158.49 340.5 L159.18 340.5 L159.87 340.5 L160.56 340.5 L161.25 340.5 L161.94 340.5 L162.63 340.5 L163.32 340.5 L164.01 340.5 L164.7 340.5 L165.39 340.5 L166.09 340.5 L166.78 340.5 L167.47 340.5 L168.16 340.5 L168.85 340.5 L169.54 340.5 L170.23 340.5 L170.92 340.5 L171.61 340.5 L172.31 340.5 L173 340.5 L173.69 340.5 L174.38 340.5 L175.07 340.5 L175.76 340.5 L176.45 340.5 L177.14 340.5 L177.83 340.5 L178.52 340.5 L179.21 340.5 L179.91 340.5 L180.6 340.5 L181.29 340.5 L181.98 340.5 L182.67 340.5 L183.36 340.5 L184.05 340.5 L184.74 340.5 L185.43 340.5 L186.12 340.5 L186.82 340.5 L187.51 340.5 L188.2 340.5 L188.89 340.5 L189.58 340.5 L190.27 340.5 L190.96 340.5 L191.65 340.5 L192.34 340.5 L193.03 340.5 L193.73 340.5 L194.42 340.5 L195.11 340.5 L195.8 340.5 L196.49 340.5 L197.18 340.5 L197.87 340.5 L198.56 340.5 L199.25 340.5 L199.94 340.5 L200.64 340.5 L201.33 340.5 L202.02 340.5 L202.71 340.5 L203.4 340.5 L203.4 340.5 Z" fill="rgb(128,128,128)" fill-opacity="0.25" stroke="none"/>
<path d="M126.7 340.23 L127.39 339.84 L128.08 339.07 L128.77 337.34 L129.46 335.07 L130.15 332.14 L130.84 328.29 L131.54 324.58 L132.23 320.8 L132.92 318.81 L133.61 317.87 L134.3 317.81 L134.99 318.66 L135.68 320.44 L136.37 324.2 L137.06 327.55 L137.75 330.58 L138.45 333.15 L139.14 334.82 L139.83 336.13 L140.52 337.22 L141.21 338.08 L141.9 338.7 L142.59 339.17 L143.28 339.56 L143.97 339.88 L144.66 340.12 L145.36 340.28" fill="none" stroke="rgb(125,125,125)" stroke-width="1.45" stroke-linejoin="round" stroke-linecap="round"/>
<path d="M65.2 340.5 L65.2 340.5 L65.89 340.5 L66.58 340.5 L67.27 340.5 L67.96 340.5 L68.66 340.5 L69.35 340.5 L70.04 340.5 L70.73 340.5 L71.42 340.5 L72.11 340.5 L72.8 340.5 L73.49 340.5 L74.18 340.5 L74.87 340.5 L75.56 340.5 L76.26 340.5 L76.95 340.5 L77.64 340.5 L78.33 340.5 L79.02 340.5 L79.71 340.5 L80.4 340.5 L81.09 340.5 L81.78 340.5 L82.47 340.5 L83.17 340.5 L83.86 340.5 L84.55 340.5 L85.24 340.5 L85.93 340.5 L86.62 340.5 L87.31 340.5 L88 340.5 L88.69 340.5 L89.39 340.5 L90.08 340.5 L90.77 340.5 L91.46 340.5 L92.15 340.5 L92.84 340.5 L93.53 340.5 L94.22 340.5 L94.91 340.5 L95.6 340.5 L96.3 340.5 L96.99 340.5 L97.68 340.5 L98.37 340.5 L99.06 340.5 L99.75 340.5 L100.44 340.5 L101.13 340.5 L101.82 340.5 L102.51 340.5 L103.2 340.5 L103.9 340.5 L104.59 340.5 L105.28 340.5 L105.97 340.5 L106.66 340.5 L107.35 340.5 L108.04 340.5 L108.73 340.46 L109.42 340.35 L110.12 340.21 L110.81 340.11 L111.5 340.01 L112.19 339.92 L112.88 339.82 L113.57 339.72 L114.26 339.62 L114.95 339.5 L115.64 339.37 L116.33 339.22 L117.03 339.03 L117.72 338.8 L118.41 338.52 L119.1 338.22 L119.79 337.9 L120.48 337.57 L121.17 337.25 L121.86 336.93 L122.55 336.58 L123.24 336.21 L123.94 335.83 L124.63 335.46 L125.32 335.12 L126.01 334.81 L126.7 334.57 L127.39 334.36 L128.08 334.18 L128.77 334.01 L129.46 333.86 L130.15 333.71 L130.84 333.57 L131.54 333.42 L132.23 333.26 L132.92 333.12 L133.61 333.03 L134.3 333 L134.99 333.05 L135.68 333.16 L136.37 333.33 L137.06 333.53 L137.75 333.75 L138.45 333.98 L139.14 334.22 L139.83 334.52 L140.52 334.86 L141.21 335.24 L141.9 335.61 L142.59 335.96 L143.28 336.27 L143.97 336.57 L144.66 336.88 L145.36 337.17 L146.05 337.45 L146.74 337.71 L147.43 337.94 L148.12 338.13 L148.81 338.31 L149.5 338.48 L150.19 338.64 L150.88 338.79 L151.57 338.93 L152.27 339.06 L152.96 339.18 L153.65 339.29 L154.34 339.39 L155.03 339.48 L155.72 339.56 L156.41 339.63 L157.1 339.69 L157.79 339.75 L158.49 339.8 L159.18 339.85 L159.87 339.89 L160.56 339.94 L161.25 340 L161.94 340.05 L162.63 340.12 L163.32 340.19 L164.01 340.3 L164.7 340.43 L165.39 340.5 L166.09 340.5 L166.78 340.5 L167.47 340.5 L168.16 340.5 L168.85 340.5 L169.54 340.5 L170.23 340.5 L170.92 340.5 L171.61 340.5 L172.31 340.5 L173 340.5 L173.69 340.5 L174.38 340.5 L175.07 340.5 L175.76 340.5 L176.45 340.5 L177.14 340.5 L177.83 340.5 L178.52 340.5 L179.21 340.5 L179.91 340.5 L180.6 340.5 L181.29 340.5 L181.98 340.5 L182.67 340.5 L183.36 340.5 L184.05 340.5 L184.74 340.5 L185.43 340.5 L186.12 340.5 L186.82 340.5 L187.51 340.5 L188.2 340.5 L188.89 340.5 L189.58 340.5 L190.27 340.5 L190.96 340.5 L191.65 340.5 L192.34 340.5 L193.03 340.5 L193.73 340.5 L194.42 340.5 L195.11 340.5 L195.8 340.5 L196.49 340.5 L197.18 340.5 L197.87 340.5 L198.56 340.5 L199.25 340.5 L199.94 340.5 L200.64 340.5 L201.33 340.5 L202.02 340.5 L202.71 340.5 L203.4 340.5 L203.4 340.5 Z" fill="rgb(31,119,180)" fill-opacity="0.25" stroke="none"/>
<path d="M109.42 340.35 L110.12 340.21 L110.81 340.11 L111.5 340.01 L112.19 339.92 L112.88 339.82 L113.57 339.72 L114.26 339.62 L114.95 339.5 L115.64 339.37 L116.33 339.22 L117.03 339.03 L117.72 338.8 L118.41 338.52 L119.1 338.22 L119.79 337.9 L120.48 337.57 L121.17 337.25 L121.86 336.93 L122.55 336.58 L123.24 336.21 L123.94 335.83 L124.63 335.46 L125.32 335.12 L126.01 334.81 L126.7 334.57 L127.39 334.36 L128.08 334.18 L128.77 334.01 L129.46 333.86 L130.15 333.71 L130.84 333.57 L131.54 333.42 L132.23 333.26 L132.92 333.12 L133.61 333.03 L134.3 333 L134.99 333.05 L135.68 333.16 L136.37 333.33 L137.06 333.53 L137.75 333.75 L138.45 333.98 L139.14 334.22 L139.83 334.52 L140.52 334.86 L141.21 335.24 L141.9 335.61 L142.59 335.96 L143.28 336.27 L143.97 336.57 L144.66 336.88 L145.36 337.17 L146.05 337.45 L146.74 337.71 L147.43 337.94 L148.12 338.13 L148.81 338.31 L149.5 338.48 L150.19 338.64 L150.88 338.79 L151.57 338.93 L152.27 339.06 L152.96 339.18 L153.65 339.29 L154.34 339.39 L155.03 339.48 L155.72 339.56 L156.41 339.63 L157.1 339.69 L157.79 339.75 L158.49 339.8 L159.18 339.85 L159.87 339.89 L160.56 339.94 L161.25 340 L161.94 340.05 L162.63 340.12 L163.32 340.19 L164.01 340.3" fill="none" stroke="rgb(38,125,190)" stroke-width="1.45" stroke-linejoin="round" stroke-linecap="round"/>
<path d="M207.8 345.4 L207.8 345.4 L207.8 346.11 L207.8 346.82 L207.8 347.53 L207.8 348.24 L207.8 348.95 L207.8 349.66 L207.8 350.37 L207.8 351.08 L207.8 351.79 L207.8 352.5 L207.8 353.21 L207.8 353.92 L207.8 354.63 L207.8 355.34 L207.8 356.05 L207.8 356.76 L207.8 357.47 L207.8 358.18 L207.8 358.89 L207.8 359.6 L207.8 360.31 L207.8 361.02 L207.8 361.73 L207.8 362.44 L207.8 363.15 L207.8 363.86 L207.8 364.57 L207.8 365.28 L207.8 365.99 L207.8 366.7 L207.8 367.41 L207.8 368.12 L207.8 368.83 L207.8 369.54 L207.8 370.25 L207.8 370.96 L207.8 371.67 L207.8 372.38 L207.8 373.09 L207.8 373.8 L207.8 374.51 L207.8 375.22 L207.8 375.93 L207.8 376.64 L207.8 377.35 L207.8 378.06 L207.8 378.77 L207.8 379.48 L207.8 380.19 L207.8 380.9 L207.8 381.61 L207.8 382.32 L207.8 383.03 L207.8 383.74 L207.8 384.45 L207.8 385.16 L207.8 385.87 L207.8 386.58 L207.8 387.29 L207.8 388 L207.8 388.71 L207.8 389.42 L207.8 390.13 L207.8 390.84 L207.8 391.55 L207.8 392.26 L207.8 392.97 L207.8 393.68 L207.8 394.39 L207.8 395.1 L207.8 395.81 L207.8 396.52 L207.8 397.23 L207.8 397.94 L207.8 398.65 L207.8 399.36 L207.8 400.07 L207.8 400.78 L207.87 401.49 L208.01 402.2 L208.19 402.91 L208.52 403.62 L208.99 404.33 L209.55 405.04 L210.28 405.75 L211.24 406.46 L212.33 407.17 L213.43 407.88 L214.58 408.59 L215.79 409.3 L217.08 410.01 L218.44 410.72 L219.91 411.43 L221.53 412.14 L223.22 412.85 L224.93 413.56 L226.8 414.27 L228.99 414.98 L230.4 415.69 L230.18 416.4 L228.87 417.11 L227.03 417.82 L225.16 418.53 L222.89 419.24 L220.41 419.95 L218.41 420.66 L216.79 421.37 L215.34 422.08 L214.07 422.79 L213 423.5 L212.08 424.21 L211.25 424.92 L210.52 425.63 L209.92 426.34 L209.44 427.05 L209.03 427.76 L208.67 428.47 L208.37 429.18 L208.15 429.89 L207.99 430.6 L207.86 431.31 L207.8 432.02 L207.8 432.73 L207.8 433.44 L207.8 434.15 L207.8 434.86 L207.8 435.57 L207.8 436.28 L207.8 436.99 L207.8 437.7 L207.8 438.41 L207.8 439.12 L207.8 439.83 L207.8 440.54 L207.8 441.25 L207.8 441.96 L207.8 442.67 L207.8 443.38 L207.8 444.09 L207.8 444.8 L207.8 445.51 L207.8 446.22 L207.8 446.93 L207.8 447.64 L207.8 448.35 L207.8 449.06 L207.8 449.77 L207.8 450.48 L207.8 451.19 L207.8 451.9 L207.8 452.61 L207.8 453.32 L207.8 454.03 L207.8 454.74 L207.8 455.45 L207.8 456.16 L207.8 456.87 L207.8 457.58 L207.8 458.29 L207.8 459 L207.8 459.71 L207.8 460.42 L207.8 461.13 L207.8 461.84 L207.8 462.55 L207.8 463.26 L207.8 463.97 L207.8 464.68 L207.8 465.39 L207.8 466.1 L207.8 466.81 L207.8 467.52 L207.8 468.23 L207.8 468.94 L207.8 469.65 L207.8 470.36 L207.8 471.07 L207.8 471.78 L207.8 472.49 L207.8 473.2 L207.8 473.91 L207.8 474.62 L207.8 475.33 L207.8 476.04 L207.8 476.75 L207.8 477.46 L207.8 478.17 L207.8 478.88 L207.8 479.59 L207.8 480.3 L207.8 481.01 L207.8 481.72 L207.8 482.43 L207.8 483.14 L207.8 483.85 L207.8 484.56 L207.8 485.27 L207.8 485.98 L207.8 486.69 L207.8 487.4 L207.8 487.4 Z" fill="rgb(128,128,128)" fill-opacity="0.25" stroke="none"/>
<path d="M208.01 402.2 L208.19 402.91 L208.52 403.62 L208.99 404.33 L209.55 405.04 L210.28 405.75 L211.24 406.46 L212.33 407.17 L213.43 407.88 L214.58 408.59 L215.79 409.3 L217.08 410.01 L218.44 410.72 L219.91 411.43 L221.53 412.14 L223.22 412.85 L224.93 413.56 L226.8 414.27 L228.99 414.98 L230.4 415.69 L230.18 416.4 L228.87 417.11 L227.03 417.82 L225.16 418.53 L222.89 419.24 L220.41 419.95 L218.41 420.66 L216.79 421.37 L215.34 422.08 L214.07 422.79 L213 423.5 L212.08 424.21 L211.25 424.92 L210.52 425.63 L209.92 426.34 L209.44 427.05 L209.03 427.76 L208.67 428.47 L208.37 429.18 L208.15 429.89 L207.99 430.6" fill="none" stroke="rgb(125,125,125)" stroke-width="1.45" stroke-linejoin="round" stroke-linecap="round"/>
<path d="M207.8 345.4 L207.8 345.4 L207.8 346.11 L207.8 346.82 L207.8 347.53 L207.8 348.24 L207.8 348.95 L207.8 349.66 L207.8 350.37 L207.8 351.08 L207.8 351.79 L207.8 352.5 L207.8 353.21 L207.8 353.92 L207.8 354.63 L207.8 355.34 L207.8 356.05 L207.8 356.76 L207.8 357.47 L207.8 358.18 L207.8 358.89 L207.8 359.6 L207.8 360.31 L207.8 361.02 L207.8 361.73 L207.8 362.44 L207.8 363.15 L207.8 363.86 L207.8 364.57 L207.8 365.28 L207.8 365.99 L207.8 366.7 L207.8 367.41 L207.8 368.12 L207.8 368.83 L207.8 369.54 L207.8 370.25 L207.8 370.96 L207.8 371.67 L207.8 372.38 L207.8 373.09 L207.8 373.8 L207.8 374.51 L207.8 375.22 L207.8 375.93 L207.8 376.64 L207.8 377.35 L207.8 378.06 L207.84 378.77 L207.91 379.48 L207.96 380.19 L208.01 380.9 L208.05 381.61 L208.09 382.32 L208.13 383.03 L208.17 383.74 L208.21 384.45 L208.25 385.16 L208.29 385.87 L208.34 386.58 L208.38 387.29 L208.44 388 L208.49 388.71 L208.54 389.42 L208.59 390.13 L208.65 390.84 L208.71 391.55 L208.77 392.26 L208.84 392.97 L208.92 393.68 L209 394.39 L209.09 395.1 L209.19 395.81 L209.31 396.52 L209.46 397.23 L209.64 397.94 L209.84 398.65 L210.06 399.36 L210.31 400.07 L210.56 400.78 L210.82 401.49 L211.09 402.2 L211.39 402.91 L211.71 403.62 L212.07 404.33 L212.46 405.04 L212.9 405.75 L213.41 406.46 L214.04 407.17 L214.75 407.88 L215.52 408.59 L216.3 409.3 L217.16 410.01 L218.12 410.72 L219.09 411.43 L219.99 412.14 L220.76 412.85 L221.54 413.56 L222.33 414.27 L223.06 414.98 L223.68 415.69 L224.11 416.4 L224.3 417.11 L224.08 417.82 L223.38 418.53 L222.4 419.24 L221.3 419.95 L220.27 420.66 L219.14 421.37 L217.89 422.08 L216.63 422.79 L215.5 423.5 L214.46 424.21 L213.42 424.92 L212.48 425.63 L211.69 426.34 L211.12 427.05 L210.66 427.76 L210.26 428.47 L209.92 429.18 L209.61 429.89 L209.34 430.6 L209.1 431.31 L208.87 432.02 L208.67 432.73 L208.48 433.44 L208.31 434.15 L208.16 434.86 L208.03 435.57 L207.89 436.28 L207.81 436.99 L207.8 437.7 L207.8 438.41 L207.8 439.12 L207.8 439.83 L207.8 440.54 L207.8 441.25 L207.8 441.96 L207.8 442.67 L207.8 443.38 L207.8 444.09 L207.8 444.8 L207.8 445.51 L207.8 446.22 L207.8 446.93 L207.8 447.64 L207.8 448.35 L207.8 449.06 L207.8 449.77 L207.8 450.48 L207.8 451.19 L207.8 451.9 L207.8 452.61 L207.8 453.32 L207.8 454.03 L207.8 454.74 L207.8 455.45 L207.8 456.16 L207.8 456.87 L207.8 457.58 L207.8 458.29 L207.8 459 L207.8 459.71 L207.8 460.42 L207.8 461.13 L207.8 461.84 L207.8 462.55 L207.8 463.26 L207.8 463.97 L207.8 464.68 L207.8 465.39 L207.8 466.1 L207.8 466.81 L207.8 467.52 L207.8 468.23 L207.8 468.94 L207.8 469.65 L207.8 470.36 L207.8 471.07 L207.8 471.78 L207.8 472.49 L207.8 473.2 L207.8 473.91 L207.8 474.62 L207.8 475.33 L207.8 476.04 L207.8 476.75 L207.8 477.46 L207.8 478.17 L207.8 478.88 L207.8 479.59 L207.8 480.3 L207.8 481.01 L207.8 481.72 L207.8 482.43 L207.8 483.14 L207.8 483.85 L207.8 484.56 L207.8 485.27 L207.8 485.98 L207.8 486.69 L207.8 487.4 L207.8 487.4 Z" fill="rgb(31,119,180)" fill-opacity="0.25" stroke="none"/>
<path d="M207.96 380.19 L208.01 380.9 L208.05 381.61 L208.09 382.32 L208.13 383.03 L208.17 383.74 L208.21 384.45 L208.25 385.16 L208.29 385.87 L208.34 386.58 L208.38 387.29 L208.44 388 L208.49 388.71 L208.54 389.42 L208.59 390.13 L208.65 390.84 L208.71 391.55 L208.77 392.26 L208.84 392.97 L208.92 393.68 L209 394.39 L209.09 395.1 L209.19 395.81 L209.31 396.52 L209.46 397.23 L209.64 397.94 L209.84 398.65 L210.06 399.36 L210.31 400.07 L210.56 400.78 L210.82 401.49 L211.09 402.2 L211.39 402.91 L211.71 403.62 L212.07 404.33 L212.46 405.04 L212.9 405.75 L213.41 406.46 L214.04 407.17 L214.75 407.88 L215.52 408.59 L216.3 409.3 L217.16 410.01 L218.12 410.72 L219.09 411.43 L219.99 412.14 L220.76 412.85 L221.54 413.56 L222.33 414.27 L223.06 414.98 L223.68 415.69 L224.11 416.4 L224.3 417.11 L224.08 417.82 L223.38 418.53 L222.4 419.24 L221.3 419.95 L220.27 420.66 L219.14 421.37 L217.89 422.08 L216.63 422.79 L215.5 423.5 L214.46 424.21 L213.42 424.92 L212.48 425.63 L211.69 426.34 L211.12 427.05 L210.66 427.76 L210.26 428.47 L209.92 429.18 L209.61 429.89 L209.34 430.6 L209.1 431.31 L208.87 432.02 L208.67 432.73 L208.48 433.44 L208.31 434.15 L208.16 434.86 L208.03 435.57" fill="none" stroke="rgb(38,125,190)" stroke-width="1.45" stroke-linejoin="round" stroke-linecap="round"/>
<line x1="65.2" y1="340.5" x2="203.4" y2="340.5" stroke="#262626" stroke-width="1.8"/>
<line x1="65.2" y1="345.4" x2="65.2" y2="488.15" stroke="#262626" stroke-width="1.8"/>
<line x1="64.45" y1="487.4" x2="203.4" y2="487.4" stroke="#262626" stroke-width="1.8"/>
<line x1="65.2" y1="416.4" x2="203.4" y2="416.4" stroke="#262626" stroke-width="1.6"/>
<line x1="134.2" y1="345.4" x2="134.2" y2="487.4" stroke="#262626" stroke-width="1.6"/>
<line x1="207.8" y1="345.4" x2="207.8" y2="487.4" stroke="#262626" stroke-width="1.8"/>
<text x="43.91" y="350.65" font-family="Liberation Sans" font-size="15" text-anchor="start" fill="#222" textLength="8.34" lengthAdjust="spacingAndGlyphs">2</text>
<text x="43.73" y="421.65" font-family="Liberation Sans" font-size="15" text-anchor="start" fill="#222" textLength="8.34" lengthAdjust="spacingAndGlyphs">0</text>
<text x="35.15" y="492.65" font-family="Liberation Sans" font-size="15" text-anchor="start" fill="#222" textLength="17.1" lengthAdjust="spacingAndGlyphs">−2</text>
<text x="56.66" y="511.9" font-family="Liberation Sans" font-size="15" text-anchor="start" fill="#222" textLength="17.1" lengthAdjust="spacingAndGlyphs">−2</text>
<text x="130.02" y="511.9" font-family="Liberation Sans" font-size="15" text-anchor="start" fill="#222" textLength="8.34" lengthAdjust="spacingAndGlyphs">0</text>
<text x="199.83" y="511.9" font-family="Liberation Sans" font-size="15" text-anchor="start" fill="#222" textLength="8.34" lengthAdjust="spacingAndGlyphs">2</text>
<circle cx="181" cy="389" r="3.1" fill="rgb(22,122,195)" fill-opacity="0.75" stroke="#fff" stroke-width="0.45" stroke-opacity="0.9"/>
<circle cx="186.1" cy="391.2" r="3.1" fill="rgb(22,122,195)" fill-opacity="0.75" stroke="#fff" stroke-width="0.45" stroke-opacity="0.9"/>
<circle cx="180.7" cy="394.6" r="3.1" fill="rgb(22,122,195)" fill-opacity="0.75" stroke="#fff" stroke-width="0.45" stroke-opacity="0.9"/>
<circle cx="161.3" cy="391.7" r="3.1" fill="rgb(22,122,195)" fill-opacity="0.75" stroke="#fff" stroke-width="0.45" stroke-opacity="0.9"/>
<circle cx="148.2" cy="395.6" r="3.1" fill="rgb(22,122,195)" fill-opacity="0.75" stroke="#fff" stroke-width="0.45" stroke-opacity="0.9"/>
<circle cx="143.4" cy="395.6" r="3.1" fill="rgb(22,122,195)" fill-opacity="0.75" stroke="#fff" stroke-width="0.45" stroke-opacity="0.9"/>
<circle cx="145" cy="401.6" r="3.1" fill="rgb(22,122,195)" fill-opacity="0.75" stroke="#fff" stroke-width="0.45" stroke-opacity="0.9"/>
<circle cx="135.5" cy="401.2" r="3.1" fill="rgb(22,122,195)" fill-opacity="0.75" stroke="#fff" stroke-width="0.45" stroke-opacity="0.9"/>
<circle cx="120.9" cy="408.2" r="3.1" fill="rgb(22,122,195)" fill-opacity="0.75" stroke="#fff" stroke-width="0.45" stroke-opacity="0.9"/>
<circle cx="163.8" cy="401.2" r="3.1" fill="rgb(22,122,195)" fill-opacity="0.75" stroke="#fff" stroke-width="0.45" stroke-opacity="0.9"/>
<circle cx="169.3" cy="401.6" r="3.1" fill="rgb(22,122,195)" fill-opacity="0.75" stroke="#fff" stroke-width="0.45" stroke-opacity="0.9"/>
<circle cx="174.5" cy="401.2" r="3.1" fill="rgb(22,122,195)" fill-opacity="0.75" stroke="#fff" stroke-width="0.45" stroke-opacity="0.9"/>
<circle cx="174.5" cy="403.4" r="3.1" fill="rgb(22,122,195)" fill-opacity="0.75" stroke="#fff" stroke-width="0.45" stroke-opacity="0.9"/>
<circle cx="159.1" cy="402.9" r="3.1" fill="rgb(22,122,195)" fill-opacity="0.75" stroke="#fff" stroke-width="0.45" stroke-opacity="0.9"/>
<circle cx="154.7" cy="404.1" r="3.1" fill="rgb(22,122,195)" fill-opacity="0.75" stroke="#fff" stroke-width="0.45" stroke-opacity="0.9"/>
<circle cx="150.4" cy="406.3" r="3.1" fill="rgb(22,122,195)" fill-opacity="0.75" stroke="#fff" stroke-width="0.45" stroke-opacity="0.9"/>
<circle cx="151.8" cy="408.5" r="3.1" fill="rgb(22,122,195)" fill-opacity="0.75" stroke="#fff" stroke-width="0.45" stroke-opacity="0.9"/>
<circle cx="160.6" cy="409.2" r="3.1" fill="rgb(22,122,195)" fill-opacity="0.75" stroke="#fff" stroke-width="0.45" stroke-opacity="0.9"/>
<circle cx="166.4" cy="411.8" r="3.1" fill="rgb(22,122,195)" fill-opacity="0.75" stroke="#fff" stroke-width="0.45" stroke-opacity="0.9"/>
<circle cx="171.1" cy="407.3" r="3.1" fill="rgb(22,122,195)" fill-opacity="0.75" stroke="#fff" stroke-width="0.45" stroke-opacity="0.9"/>
<circle cx="150.4" cy="413.6" r="3.1" fill="rgb(22,122,195)" fill-opacity="0.75" stroke="#fff" stroke-width="0.45" stroke-opacity="0.9"/>
<circle cx="146" cy="410.4" r="3.1" fill="rgb(22,122,195)" fill-opacity="0.75" stroke="#fff" stroke-width="0.45" stroke-opacity="0.9"/>
<circle cx="155.9" cy="418.7" r="3.1" fill="rgb(22,122,195)" fill-opacity="0.75" stroke="#fff" stroke-width="0.45" stroke-opacity="0.9"/>
<circle cx="149.6" cy="422.3" r="3.1" fill="rgb(22,122,195)" fill-opacity="0.75" stroke="#fff" stroke-width="0.45" stroke-opacity="0.9"/>
<circle cx="113.6" cy="419.1" r="3.1" fill="rgb(22,122,195)" fill-opacity="0.75" stroke="#fff" stroke-width="0.45" stroke-opacity="0.9"/>
<circle cx="120.5" cy="421" r="3.1" fill="rgb(22,122,195)" fill-opacity="0.75" stroke="#fff" stroke-width="0.45" stroke-opacity="0.9"/>
<circle cx="122.5" cy="424" r="3.1" fill="rgb(22,122,195)" fill-opacity="0.75" stroke="#fff" stroke-width="0.45" stroke-opacity="0.9"/>
<circle cx="115" cy="428" r="3.1" fill="rgb(22,122,195)" fill-opacity="0.75" stroke="#fff" stroke-width="0.45" stroke-opacity="0.9"/>
<circle cx="119" cy="432" r="3.1" fill="rgb(22,122,195)" fill-opacity="0.75" stroke="#fff" stroke-width="0.45" stroke-opacity="0.9"/>
<circle cx="117.5" cy="430" r="3.1" fill="rgb(22,122,195)" fill-opacity="0.75" stroke="#fff" stroke-width="0.45" stroke-opacity="0.9"/>
<circle cx="130" cy="421" r="3.1" fill="rgb(22,122,195)" fill-opacity="0.75" stroke="#fff" stroke-width="0.45" stroke-opacity="0.9"/>
<circle cx="127" cy="426" r="3.1" fill="rgb(22,122,195)" fill-opacity="0.75" stroke="#fff" stroke-width="0.45" stroke-opacity="0.9"/>
<circle cx="131" cy="430" r="3.1" fill="rgb(22,122,195)" fill-opacity="0.75" stroke="#fff" stroke-width="0.45" stroke-opacity="0.9"/>
<circle cx="141" cy="412" r="3.1" fill="rgb(22,122,195)" fill-opacity="0.75" stroke="#fff" stroke-width="0.45" stroke-opacity="0.9"/>
<circle cx="144" cy="418" r="3.1" fill="rgb(22,122,195)" fill-opacity="0.75" stroke="#fff" stroke-width="0.45" stroke-opacity="0.9"/>
<circle cx="139" cy="423" r="3.1" fill="rgb(22,122,195)" fill-opacity="0.75" stroke="#fff" stroke-width="0.45" stroke-opacity="0.9"/>
<circle cx="126" cy="412" r="3.1" fill="rgb(22,122,195)" fill-opacity="0.75" stroke="#fff" stroke-width="0.45" stroke-opacity="0.9"/>
<circle cx="123" cy="417" r="3.1" fill="rgb(22,122,195)" fill-opacity="0.75" stroke="#fff" stroke-width="0.45" stroke-opacity="0.9"/>
<circle cx="112.5" cy="431" r="3.1" fill="rgb(22,122,195)" fill-opacity="0.75" stroke="#fff" stroke-width="0.45" stroke-opacity="0.9"/>
<circle cx="121" cy="434.5" r="3.1" fill="rgb(22,122,195)" fill-opacity="0.75" stroke="#fff" stroke-width="0.45" stroke-opacity="0.9"/>
<circle cx="125" cy="429" r="3.1" fill="rgb(22,122,195)" fill-opacity="0.75" stroke="#fff" stroke-width="0.45" stroke-opacity="0.9"/>
<circle cx="128" cy="433" r="3.1" fill="rgb(22,122,195)" fill-opacity="0.75" stroke="#fff" stroke-width="0.45" stroke-opacity="0.9"/>
<circle cx="130" cy="426" r="3.1" fill="rgb(22,122,195)" fill-opacity="0.75" stroke="#fff" stroke-width="0.45" stroke-opacity="0.9"/>
<circle cx="116" cy="425" r="3.1" fill="rgb(22,122,195)" fill-opacity="0.75" stroke="#fff" stroke-width="0.45" stroke-opacity="0.9"/>
<circle cx="147" cy="420" r="3.1" fill="rgb(22,122,195)" fill-opacity="0.75" stroke="#fff" stroke-width="0.45" stroke-opacity="0.9"/>
<circle cx="161.99" cy="402.84" r="3.1" fill="rgb(22,122,195)" fill-opacity="0.75" stroke="#fff" stroke-width="0.45" stroke-opacity="0.9"/>
<circle cx="145.52" cy="406.61" r="3.1" fill="rgb(22,122,195)" fill-opacity="0.75" stroke="#fff" stroke-width="0.45" stroke-opacity="0.9"/>
<circle cx="146.63" cy="408.2" r="3.1" fill="rgb(22,122,195)" fill-opacity="0.75" stroke="#fff" stroke-width="0.45" stroke-opacity="0.9"/>
<circle cx="143.16" cy="409.74" r="3.1" fill="rgb(22,122,195)" fill-opacity="0.75" stroke="#fff" stroke-width="0.45" stroke-opacity="0.9"/>
<circle cx="164.1" cy="400.62" r="3.1" fill="rgb(22,122,195)" fill-opacity="0.75" stroke="#fff" stroke-width="0.45" stroke-opacity="0.9"/>
<circle cx="146.65" cy="407.18" r="3.1" fill="rgb(22,122,195)" fill-opacity="0.75" stroke="#fff" stroke-width="0.45" stroke-opacity="0.9"/>
<circle cx="151.37" cy="406.33" r="3.1" fill="rgb(22,122,195)" fill-opacity="0.75" stroke="#fff" stroke-width="0.45" stroke-opacity="0.9"/>
<circle cx="144.48" cy="409.68" r="3.1" fill="rgb(22,122,195)" fill-opacity="0.75" stroke="#fff" stroke-width="0.45" stroke-opacity="0.9"/>
<circle cx="141.27" cy="410.2" r="3.1" fill="rgb(22,122,195)" fill-opacity="0.75" stroke="#fff" stroke-width="0.45" stroke-opacity="0.9"/>
<circle cx="146.04" cy="406.27" r="3.1" fill="rgb(22,122,195)" fill-opacity="0.75" stroke="#fff" stroke-width="0.45" stroke-opacity="0.9"/>
<circle cx="154.27" cy="405.19" r="3.1" fill="rgb(22,122,195)" fill-opacity="0.75" stroke="#fff" stroke-width="0.45" stroke-opacity="0.9"/>
<circle cx="158.92" cy="404.2" r="3.1" fill="rgb(22,122,195)" fill-opacity="0.75" stroke="#fff" stroke-width="0.45" stroke-opacity="0.9"/>
<circle cx="158.9" cy="406.37" r="3.1" fill="rgb(22,122,195)" fill-opacity="0.75" stroke="#fff" stroke-width="0.45" stroke-opacity="0.9"/>
<circle cx="148.55" cy="405.97" r="3.1" fill="rgb(22,122,195)" fill-opacity="0.75" stroke="#fff" stroke-width="0.45" stroke-opacity="0.9"/>
<circle cx="139.1" cy="397.1" r="3.1" fill="rgb(128,128,128)" fill-opacity="0.75" stroke="#fff" stroke-width="0.45" stroke-opacity="0.9"/>
<circle cx="143.8" cy="428.6" r="3.1" fill="rgb(128,128,128)" fill-opacity="0.75" stroke="#fff" stroke-width="0.45" stroke-opacity="0.9"/>
<circle cx="126.6" cy="433.3" r="3.1" fill="rgb(128,128,128)" fill-opacity="0.75" stroke="#fff" stroke-width="0.45" stroke-opacity="0.9"/>
<circle cx="114.6" cy="427.4" r="3.1" fill="rgb(128,128,128)" fill-opacity="0.75" stroke="#fff" stroke-width="0.45" stroke-opacity="0.9"/>
<circle cx="135" cy="431.8" r="3.1" fill="rgb(128,128,128)" fill-opacity="0.75" stroke="#fff" stroke-width="0.45" stroke-opacity="0.9"/>
<circle cx="139.02" cy="418.63" r="3.1" fill="rgb(128,128,128)" fill-opacity="0.75" stroke="#fff" stroke-width="0.45" stroke-opacity="0.9"/>
<circle cx="141.87" cy="417.4" r="3.1" fill="rgb(128,128,128)" fill-opacity="0.75" stroke="#fff" stroke-width="0.45" stroke-opacity="0.9"/>
<circle cx="140.23" cy="421.93" r="3.1" fill="rgb(128,128,128)" fill-opacity="0.75" stroke="#fff" stroke-width="0.45" stroke-opacity="0.9"/>
<circle cx="128.01" cy="419.43" r="3.1" fill="rgb(128,128,128)" fill-opacity="0.75" stroke="#fff" stroke-width="0.45" stroke-opacity="0.9"/>
<circle cx="136.34" cy="423.63" r="3.1" fill="rgb(128,128,128)" fill-opacity="0.75" stroke="#fff" stroke-width="0.45" stroke-opacity="0.9"/>
<circle cx="141.56" cy="421.83" r="3.1" fill="rgb(128,128,128)" fill-opacity="0.75" stroke="#fff" stroke-width="0.45" stroke-opacity="0.9"/>
<circle cx="138.09" cy="424.35" r="3.1" fill="rgb(128,128,128)" fill-opacity="0.75" stroke="#fff" stroke-width="0.45" stroke-opacity="0.9"/>
<circle cx="138.6" cy="419.85" r="3.1" fill="rgb(128,128,128)" fill-opacity="0.75" stroke="#fff" stroke-width="0.45" stroke-opacity="0.9"/>
<circle cx="126.89" cy="416.23" r="3.1" fill="rgb(128,128,128)" fill-opacity="0.75" stroke="#fff" stroke-width="0.45" stroke-opacity="0.9"/>
<circle cx="136.01" cy="419.22" r="3.1" fill="rgb(128,128,128)" fill-opacity="0.75" stroke="#fff" stroke-width="0.45" stroke-opacity="0.9"/>
<circle cx="137.53" cy="419.9" r="3.1" fill="rgb(128,128,128)" fill-opacity="0.75" stroke="#fff" stroke-width="0.45" stroke-opacity="0.9"/>
<circle cx="130.96" cy="407.19" r="3.1" fill="rgb(128,128,128)" fill-opacity="0.75" stroke="#fff" stroke-width="0.45" stroke-opacity="0.9"/>
<circle cx="140.96" cy="420.31" r="3.1" fill="rgb(128,128,128)" fill-opacity="0.75" stroke="#fff" stroke-width="0.45" stroke-opacity="0.9"/>
<circle cx="134.47" cy="417.68" r="3.1" fill="rgb(128,128,128)" fill-opacity="0.75" stroke="#fff" stroke-width="0.45" stroke-opacity="0.9"/>
<circle cx="134.33" cy="407.51" r="3.1" fill="rgb(128,128,128)" fill-opacity="0.75" stroke="#fff" stroke-width="0.45" stroke-opacity="0.9"/>
<circle cx="136.84" cy="410.79" r="3.1" fill="rgb(128,128,128)" fill-opacity="0.75" stroke="#fff" stroke-width="0.45" stroke-opacity="0.9"/>
<circle cx="125.28" cy="414.66" r="3.1" fill="rgb(128,128,128)" fill-opacity="0.75" stroke="#fff" stroke-width="0.45" stroke-opacity="0.9"/>
<circle cx="136.42" cy="409.9" r="3.1" fill="rgb(128,128,128)" fill-opacity="0.75" stroke="#fff" stroke-width="0.45" stroke-opacity="0.9"/>
<circle cx="133.37" cy="414.7" r="3.1" fill="rgb(128,128,128)" fill-opacity="0.75" stroke="#fff" stroke-width="0.45" stroke-opacity="0.9"/>
<circle cx="134.96" cy="420.76" r="3.1" fill="rgb(128,128,128)" fill-opacity="0.75" stroke="#fff" stroke-width="0.45" stroke-opacity="0.9"/>
<circle cx="139.61" cy="417.87" r="3.1" fill="rgb(128,128,128)" fill-opacity="0.75" stroke="#fff" stroke-width="0.45" stroke-opacity="0.9"/>
<circle cx="134.11" cy="407.83" r="3.1" fill="rgb(128,128,128)" fill-opacity="0.75" stroke="#fff" stroke-width="0.45" stroke-opacity="0.9"/>
<circle cx="126.49" cy="414.03" r="3.1" fill="rgb(128,128,128)" fill-opacity="0.75" stroke="#fff" stroke-width="0.45" stroke-opacity="0.9"/>
<circle cx="137.27" cy="411.79" r="3.1" fill="rgb(128,128,128)" fill-opacity="0.75" stroke="#fff" stroke-width="0.45" stroke-opacity="0.9"/>
<circle cx="132.39" cy="406.94" r="3.1" fill="rgb(128,128,128)" fill-opacity="0.75" stroke="#fff" stroke-width="0.45" stroke-opacity="0.9"/>
<circle cx="125.06" cy="414.79" r="3.1" fill="rgb(128,128,128)" fill-opacity="0.75" stroke="#fff" stroke-width="0.45" stroke-opacity="0.9"/>
<circle cx="138.4" cy="419.88" r="3.1" fill="rgb(128,128,128)" fill-opacity="0.75" stroke="#fff" stroke-width="0.45" stroke-opacity="0.9"/>
<circle cx="136" cy="411.89" r="3.1" fill="rgb(128,128,128)" fill-opacity="0.75" stroke="#fff" stroke-width="0.45" stroke-opacity="0.9"/>
<circle cx="134.27" cy="416.21" r="3.1" fill="rgb(128,128,128)" fill-opacity="0.75" stroke="#fff" stroke-width="0.45" stroke-opacity="0.9"/>
<circle cx="131.26" cy="409.6" r="3.1" fill="rgb(128,128,128)" fill-opacity="0.75" stroke="#fff" stroke-width="0.45" stroke-opacity="0.9"/>
<circle cx="139.27" cy="408.88" r="3.1" fill="rgb(128,128,128)" fill-opacity="0.75" stroke="#fff" stroke-width="0.45" stroke-opacity="0.9"/>
<circle cx="125.47" cy="418.81" r="3.1" fill="rgb(128,128,128)" fill-opacity="0.75" stroke="#fff" stroke-width="0.45" stroke-opacity="0.9"/>
<circle cx="131.89" cy="412.68" r="3.1" fill="rgb(128,128,128)" fill-opacity="0.75" stroke="#fff" stroke-width="0.45" stroke-opacity="0.9"/>
<circle cx="129.62" cy="420.19" r="3.1" fill="rgb(128,128,128)" fill-opacity="0.75" stroke="#fff" stroke-width="0.45" stroke-opacity="0.9"/>
<circle cx="128.05" cy="419.43" r="3.1" fill="rgb(128,128,128)" fill-opacity="0.75" stroke="#fff" stroke-width="0.45" stroke-opacity="0.9"/>
<circle cx="139.88" cy="415.43" r="3.1" fill="rgb(128,128,128)" fill-opacity="0.75" stroke="#fff" stroke-width="0.45" stroke-opacity="0.9"/>
<circle cx="142.25" cy="418.94" r="3.1" fill="rgb(128,128,128)" fill-opacity="0.75" stroke="#fff" stroke-width="0.45" stroke-opacity="0.9"/>
<circle cx="131.92" cy="426.36" r="3.1" fill="rgb(128,128,128)" fill-opacity="0.75" stroke="#fff" stroke-width="0.45" stroke-opacity="0.9"/>
<circle cx="131.04" cy="407.63" r="3.1" fill="rgb(128,128,128)" fill-opacity="0.75" stroke="#fff" stroke-width="0.45" stroke-opacity="0.9"/>
<circle cx="125.42" cy="419.53" r="3.1" fill="rgb(128,128,128)" fill-opacity="0.75" stroke="#fff" stroke-width="0.45" stroke-opacity="0.9"/>
<circle cx="132.12" cy="413.33" r="3.1" fill="rgb(128,128,128)" fill-opacity="0.75" stroke="#fff" stroke-width="0.45" stroke-opacity="0.9"/>
<circle cx="126.93" cy="415.85" r="3.1" fill="rgb(128,128,128)" fill-opacity="0.75" stroke="#fff" stroke-width="0.45" stroke-opacity="0.9"/>
<circle cx="133.06" cy="424.76" r="3.1" fill="rgb(128,128,128)" fill-opacity="0.75" stroke="#fff" stroke-width="0.45" stroke-opacity="0.9"/>
<circle cx="143" cy="418.91" r="3.1" fill="rgb(128,128,128)" fill-opacity="0.75" stroke="#fff" stroke-width="0.45" stroke-opacity="0.9"/>
<circle cx="139.97" cy="410.64" r="3.1" fill="rgb(128,128,128)" fill-opacity="0.75" stroke="#fff" stroke-width="0.45" stroke-opacity="0.9"/>
<circle cx="131.3" cy="415.57" r="3.1" fill="rgb(128,128,128)" fill-opacity="0.75" stroke="#fff" stroke-width="0.45" stroke-opacity="0.9"/>
<circle cx="131.31" cy="416.33" r="3.1" fill="rgb(128,128,128)" fill-opacity="0.75" stroke="#fff" stroke-width="0.45" stroke-opacity="0.9"/>
<circle cx="133.11" cy="426.82" r="3.1" fill="rgb(128,128,128)" fill-opacity="0.75" stroke="#fff" stroke-width="0.45" stroke-opacity="0.9"/>
<circle cx="128.35" cy="413.71" r="3.1" fill="rgb(128,128,128)" fill-opacity="0.75" stroke="#fff" stroke-width="0.45" stroke-opacity="0.9"/>
<circle cx="132.49" cy="410.78" r="3.1" fill="rgb(128,128,128)" fill-opacity="0.75" stroke="#fff" stroke-width="0.45" stroke-opacity="0.9"/>
<circle cx="134.78" cy="426.75" r="3.1" fill="rgb(128,128,128)" fill-opacity="0.75" stroke="#fff" stroke-width="0.45" stroke-opacity="0.9"/>
<circle cx="142.87" cy="421.11" r="3.1" fill="rgb(128,128,128)" fill-opacity="0.75" stroke="#fff" stroke-width="0.45" stroke-opacity="0.9"/>
<circle cx="139.04" cy="424.5" r="3.1" fill="rgb(128,128,128)" fill-opacity="0.75" stroke="#fff" stroke-width="0.45" stroke-opacity="0.9"/>
<circle cx="142.25" cy="415.58" r="3.1" fill="rgb(128,128,128)" fill-opacity="0.75" stroke="#fff" stroke-width="0.45" stroke-opacity="0.9"/>
<circle cx="137.98" cy="414.76" r="3.1" fill="rgb(128,128,128)" fill-opacity="0.75" stroke="#fff" stroke-width="0.45" stroke-opacity="0.9"/>
<path d="M282.2 340.5 L282.2 340.5 L282.89 340.5 L283.58 340.5 L284.27 340.5 L284.96 340.5 L285.65 340.5 L286.34 340.5 L287.03 340.5 L287.72 340.5 L288.41 340.5 L289.1 340.5 L289.79 340.5 L290.48 340.5 L291.17 340.5 L291.86 340.5 L292.55 340.5 L293.24 340.5 L293.93 340.5 L294.62 340.5 L295.31 340.5 L296 340.5 L296.69 340.5 L297.38 340.5 L298.07 340.5 L298.76 340.5 L299.45 340.5 L300.14 340.5 L300.83 340.5 L301.52 340.5 L302.21 340.5 L302.9 340.5 L303.59 340.5 L304.28 340.5 L304.97 340.5 L305.66 340.5 L306.35 340.5 L307.04 340.5 L307.73 340.5 L308.42 340.5 L309.11 340.5 L309.8 340.5 L310.49 340.5 L311.18 340.5 L311.87 340.5 L312.56 340.5 L313.25 340.5 L313.94 340.5 L314.63 340.5 L315.32 340.5 L316.01 340.5 L316.7 340.5 L317.39 340.5 L318.08 340.5 L318.77 340.5 L319.46 340.5 L320.15 340.5 L320.84 340.5 L321.53 340.5 L322.22 340.5 L322.91 340.5 L323.6 340.5 L324.29 340.5 L324.98 340.5 L325.67 340.5 L326.36 340.5 L327.05 340.5 L327.74 340.5 L328.43 340.5 L329.12 340.5 L329.81 340.5 L330.5 340.5 L331.19 340.5 L331.88 340.5 L332.57 340.5 L333.26 340.5 L333.95 340.5 L334.64 340.5 L335.33 340.5 L336.02 340.42 L336.71 340.23 L337.4 340 L338.09 339.81 L338.78 339.62 L339.47 339.43 L340.16 339.2 L340.85 338.93 L341.54 338.6 L342.23 338.19 L342.92 337.51 L343.61 336.07 L344.3 334.09 L344.99 331.89 L345.68 329.73 L346.37 327.12 L347.06 324.3 L347.75 321.93 L348.44 320.46 L349.13 319.22 L349.82 318.21 L350.51 317.6 L351.2 317.56 L351.89 318.1 L352.58 319.07 L353.27 320.29 L353.96 321.68 L354.65 323.92 L355.34 326.68 L356.03 329.39 L356.72 331.68 L357.41 334.01 L358.1 336.05 L358.79 337.39 L359.48 338.12 L360.17 338.69 L360.86 339.14 L361.55 339.52 L362.24 339.88 L362.93 340.24 L363.62 340.47 L364.31 340.5 L365 340.5 L365.69 340.5 L366.38 340.5 L367.07 340.5 L367.76 340.5 L368.45 340.5 L369.14 340.5 L369.83 340.5 L370.52 340.5 L371.21 340.5 L371.9 340.5 L372.59 340.5 L373.28 340.5 L373.97 340.5 L374.66 340.5 L375.35 340.5 L376.04 340.5 L376.73 340.5 L377.42 340.5 L378.11 340.5 L378.8 340.5 L379.49 340.5 L380.18 340.5 L380.87 340.5 L381.56 340.5 L382.25 340.5 L382.94 340.5 L383.63 340.5 L384.32 340.5 L385.01 340.5 L385.7 340.5 L386.39 340.5 L387.08 340.5 L387.77 340.5 L388.46 340.5 L389.15 340.5 L389.84 340.5 L390.53 340.5 L391.22 340.5 L391.91 340.5 L392.6 340.5 L393.29 340.5 L393.98 340.5 L394.67 340.5 L395.36 340.5 L396.05 340.5 L396.74 340.5 L397.43 340.5 L398.12 340.5 L398.81 340.5 L399.5 340.5 L400.19 340.5 L400.88 340.5 L401.57 340.5 L402.26 340.5 L402.95 340.5 L403.64 340.5 L404.33 340.5 L405.02 340.5 L405.71 340.5 L406.4 340.5 L407.09 340.5 L407.78 340.5 L408.47 340.5 L409.16 340.5 L409.85 340.5 L410.54 340.5 L411.23 340.5 L411.92 340.5 L412.61 340.5 L413.3 340.5 L413.99 340.5 L414.68 340.5 L415.37 340.5 L416.06 340.5 L416.75 340.5 L417.44 340.5 L418.13 340.5 L418.82 340.5 L419.51 340.5 L420.2 340.5 L420.2 340.5 Z" fill="rgb(128,128,128)" fill-opacity="0.25" stroke="none"/>
<path d="M336.71 340.23 L337.4 340 L338.09 339.81 L338.78 339.62 L339.47 339.43 L340.16 339.2 L340.85 338.93 L341.54 338.6 L342.23 338.19 L342.92 337.51 L343.61 336.07 L344.3 334.09 L344.99 331.89 L345.68 329.73 L346.37 327.12 L347.06 324.3 L347.75 321.93 L348.44 320.46 L349.13 319.22 L349.82 318.21 L350.51 317.6 L351.2 317.56 L351.89 318.1 L352.58 319.07 L353.27 320.29 L353.96 321.68 L354.65 323.92 L355.34 326.68 L356.03 329.39 L356.72 331.68 L357.41 334.01 L358.1 336.05 L358.79 337.39 L359.48 338.12 L360.17 338.69 L360.86 339.14 L361.55 339.52 L362.24 339.88 L362.93 340.24" fill="none" stroke="rgb(125,125,125)" stroke-width="1.45" stroke-linejoin="round" stroke-linecap="round"/>
<path d="M282.2 340.5 L282.2 340.5 L282.89 340.5 L283.58 340.5 L284.27 340.5 L284.96 340.5 L285.65 340.5 L286.34 340.5 L287.03 340.5 L287.72 340.5 L288.41 340.5 L289.1 340.5 L289.79 340.5 L290.48 340.5 L291.17 340.5 L291.86 340.5 L292.55 340.5 L293.24 340.5 L293.93 340.5 L294.62 340.5 L295.31 340.5 L296 340.5 L296.69 340.5 L297.38 340.5 L298.07 340.5 L298.76 340.5 L299.45 340.5 L300.14 340.5 L300.83 340.5 L301.52 340.5 L302.21 340.5 L302.9 340.5 L303.59 340.5 L304.28 340.5 L304.97 340.5 L305.66 340.5 L306.35 340.5 L307.04 340.5 L307.73 340.5 L308.42 340.5 L309.11 340.5 L309.8 340.5 L310.49 340.5 L311.18 340.5 L311.87 340.5 L312.56 340.5 L313.25 340.5 L313.94 340.5 L314.63 340.5 L315.32 340.5 L316.01 340.5 L316.7 340.5 L317.39 340.5 L318.08 340.5 L318.77 340.5 L319.46 340.5 L320.15 340.5 L320.84 340.5 L321.53 340.5 L322.22 340.5 L322.91 340.5 L323.6 340.5 L324.29 340.5 L324.98 340.5 L325.67 340.5 L326.36 340.5 L327.05 340.5 L327.74 340.5 L328.43 340.5 L329.12 340.5 L329.81 340.5 L330.5 340.5 L331.19 340.5 L331.88 340.5 L332.57 340.5 L333.26 340.5 L333.95 340.5 L334.64 340.5 L335.33 340.5 L336.02 340.5 L336.71 340.5 L337.4 340.5 L338.09 340.5 L338.78 340.47 L339.47 340.32 L340.16 340.09 L340.85 339.8 L341.54 339.39 L342.23 338.84 L342.92 338.17 L343.61 337.39 L344.3 336.46 L344.99 335.07 L345.68 333.31 L346.37 331.37 L347.06 329.41 L347.75 327.24 L348.44 324.81 L349.13 322.64 L349.82 321.23 L350.51 320.11 L351.2 319.23 L351.89 318.81 L352.58 319.1 L353.27 320.09 L353.96 321.48 L354.65 322.99 L355.34 324.84 L356.03 327.25 L356.72 329.66 L357.41 331.55 L358.1 333.09 L358.79 334.49 L359.48 335.7 L360.17 336.65 L360.86 337.36 L361.55 338.03 L362.24 338.61 L362.93 339.04 L363.62 339.28 L364.31 339.3 L365 339.28 L365.69 339.24 L366.38 339.21 L367.07 339.16 L367.76 339.08 L368.45 339.02 L369.14 339 L369.83 339.07 L370.52 339.22 L371.21 339.42 L371.9 339.64 L372.59 339.86 L373.28 340.05 L373.97 340.27 L374.66 340.46 L375.35 340.5 L376.04 340.5 L376.73 340.5 L377.42 340.5 L378.11 340.5 L378.8 340.5 L379.49 340.5 L380.18 340.5 L380.87 340.5 L381.56 340.5 L382.25 340.5 L382.94 340.5 L383.63 340.5 L384.32 340.5 L385.01 340.5 L385.7 340.5 L386.39 340.5 L387.08 340.5 L387.77 340.5 L388.46 340.5 L389.15 340.5 L389.84 340.5 L390.53 340.5 L391.22 340.5 L391.91 340.5 L392.6 340.5 L393.29 340.5 L393.98 340.5 L394.67 340.5 L395.36 340.5 L396.05 340.5 L396.74 340.5 L397.43 340.5 L398.12 340.5 L398.81 340.5 L399.5 340.5 L400.19 340.5 L400.88 340.5 L401.57 340.5 L402.26 340.5 L402.95 340.5 L403.64 340.5 L404.33 340.5 L405.02 340.5 L405.71 340.5 L406.4 340.5 L407.09 340.5 L407.78 340.5 L408.47 340.5 L409.16 340.5 L409.85 340.5 L410.54 340.5 L411.23 340.5 L411.92 340.5 L412.61 340.5 L413.3 340.5 L413.99 340.5 L414.68 340.5 L415.37 340.5 L416.06 340.5 L416.75 340.5 L417.44 340.5 L418.13 340.5 L418.82 340.5 L419.51 340.5 L420.2 340.5 L420.2 340.5 Z" fill="rgb(31,119,180)" fill-opacity="0.25" stroke="none"/>
<path d="M339.47 340.32 L340.16 340.09 L340.85 339.8 L341.54 339.39 L342.23 338.84 L342.92 338.17 L343.61 337.39 L344.3 336.46 L344.99 335.07 L345.68 333.31 L346.37 331.37 L347.06 329.41 L347.75 327.24 L348.44 324.81 L349.13 322.64 L349.82 321.23 L350.51 320.11 L351.2 319.23 L351.89 318.81 L352.58 319.1 L353.27 320.09 L353.96 321.48 L354.65 322.99 L355.34 324.84 L356.03 327.25 L356.72 329.66 L357.41 331.55 L358.1 333.09 L358.79 334.49 L359.48 335.7 L360.17 336.65 L360.86 337.36 L361.55 338.03 L362.24 338.61 L362.93 339.04 L363.62 339.28 L364.31 339.3 L365 339.28 L365.69 339.24 L366.38 339.21 L367.07 339.16 L367.76 339.08 L368.45 339.02 L369.14 339 L369.83 339.07 L370.52 339.22 L371.21 339.42 L371.9 339.64 L372.59 339.86 L373.28 340.05 L373.97 340.27" fill="none" stroke="rgb(38,125,190)" stroke-width="1.45" stroke-linejoin="round" stroke-linecap="round"/>
<path d="M424.8 345.4 L424.8 345.4 L424.8 346.11 L424.8 346.82 L424.8 347.53 L424.8 348.24 L424.8 348.95 L424.8 349.66 L424.8 350.37 L424.8 351.08 L424.8 351.79 L424.8 352.5 L424.8 353.21 L424.8 353.92 L424.8 354.63 L424.8 355.34 L424.8 356.05 L424.8 356.76 L424.8 357.47 L424.8 358.18 L424.8 358.89 L424.8 359.6 L424.8 360.31 L424.8 361.02 L424.8 361.73 L424.8 362.44 L424.8 363.15 L424.8 363.86 L424.8 364.57 L424.8 365.28 L424.8 365.99 L424.8 366.7 L424.8 367.41 L424.8 368.12 L424.8 368.83 L424.8 369.54 L424.8 370.25 L424.8 370.96 L424.8 371.67 L424.8 372.38 L424.8 373.09 L424.8 373.8 L424.8 374.51 L424.8 375.22 L424.8 375.93 L424.8 376.64 L424.8 377.35 L424.8 378.06 L424.8 378.77 L424.8 379.48 L424.8 380.19 L424.8 380.9 L424.8 381.61 L424.8 382.32 L424.8 383.03 L424.8 383.74 L424.8 384.45 L424.84 385.16 L425.07 385.87 L425.38 386.58 L425.63 387.29 L425.87 388 L426.12 388.71 L426.37 389.42 L426.63 390.13 L426.9 390.84 L427.18 391.55 L427.47 392.26 L427.76 392.97 L428.06 393.68 L428.36 394.39 L428.67 395.1 L428.99 395.81 L429.31 396.52 L429.65 397.23 L429.99 397.94 L430.35 398.65 L430.73 399.36 L431.12 400.07 L431.54 400.78 L431.97 401.49 L432.43 402.2 L432.92 402.91 L433.49 403.62 L434.13 404.33 L434.83 405.04 L435.57 405.75 L436.35 406.46 L437.14 407.17 L437.93 407.88 L438.7 408.59 L439.45 409.3 L440.15 410.01 L440.8 410.72 L441.48 411.43 L442.22 412.14 L442.97 412.85 L443.72 413.56 L444.45 414.27 L445.13 414.98 L445.73 415.69 L446.23 416.4 L446.61 417.11 L446.84 417.82 L446.9 418.53 L446.78 419.24 L446.52 419.95 L446.13 420.66 L445.62 421.37 L445.01 422.08 L444.33 422.79 L443.59 423.5 L442.8 424.21 L441.99 424.92 L440.97 425.63 L439.55 426.34 L437.92 427.05 L436.25 427.76 L434.75 428.47 L433.56 429.18 L432.46 429.89 L431.38 430.6 L430.37 431.31 L429.43 432.02 L428.62 432.73 L427.94 433.44 L427.43 434.15 L427.06 434.86 L426.74 435.57 L426.47 436.28 L426.24 436.99 L426.02 437.7 L425.81 438.41 L425.59 439.12 L425.33 439.83 L425.03 440.54 L424.82 441.25 L424.8 441.96 L424.8 442.67 L424.8 443.38 L424.8 444.09 L424.8 444.8 L424.8 445.51 L424.8 446.22 L424.8 446.93 L424.8 447.64 L424.8 448.35 L424.8 449.06 L424.8 449.77 L424.8 450.48 L424.8 451.19 L424.8 451.9 L424.8 452.61 L424.8 453.32 L424.8 454.03 L424.8 454.74 L424.8 455.45 L424.8 456.16 L424.8 456.87 L424.8 457.58 L424.8 458.29 L424.8 459 L424.8 459.71 L424.8 460.42 L424.8 461.13 L424.8 461.84 L424.8 462.55 L424.8 463.26 L424.8 463.97 L424.8 464.68 L424.8 465.39 L424.8 466.1 L424.8 466.81 L424.8 467.52 L424.8 468.23 L424.8 468.94 L424.8 469.65 L424.8 470.36 L424.8 471.07 L424.8 471.78 L424.8 472.49 L424.8 473.2 L424.8 473.91 L424.8 474.62 L424.8 475.33 L424.8 476.04 L424.8 476.75 L424.8 477.46 L424.8 478.17 L424.8 478.88 L424.8 479.59 L424.8 480.3 L424.8 481.01 L424.8 481.72 L424.8 482.43 L424.8 483.14 L424.8 483.85 L424.8 484.56 L424.8 485.27 L424.8 485.98 L424.8 486.69 L424.8 487.4 L424.8 487.4 Z" fill="rgb(128,128,128)" fill-opacity="0.25" stroke="none"/>
<path d="M425.07 385.87 L425.38 386.58 L425.63 387.29 L425.87 388 L426.12 388.71 L426.37 389.42 L426.63 390.13 L426.9 390.84 L427.18 391.55 L427.47 392.26 L427.76 392.97 L428.06 393.68 L428.36 394.39 L428.67 395.1 L428.99 395.81 L429.31 396.52 L429.65 397.23 L429.99 397.94 L430.35 398.65 L430.73 399.36 L431.12 400.07 L431.54 400.78 L431.97 401.49 L432.43 402.2 L432.92 402.91 L433.49 403.62 L434.13 404.33 L434.83 405.04 L435.57 405.75 L436.35 406.46 L437.14 407.17 L437.93 407.88 L438.7 408.59 L439.45 409.3 L440.15 410.01 L440.8 410.72 L441.48 411.43 L442.22 412.14 L442.97 412.85 L443.72 413.56 L444.45 414.27 L445.13 414.98 L445.73 415.69 L446.23 416.4 L446.61 417.11 L446.84 417.82 L446.9 418.53 L446.78 419.24 L446.52 419.95 L446.13 420.66 L445.62 421.37 L445.01 422.08 L444.33 422.79 L443.59 423.5 L442.8 424.21 L441.99 424.92 L440.97 425.63 L439.55 426.34 L437.92 427.05 L436.25 427.76 L434.75 428.47 L433.56 429.18 L432.46 429.89 L431.38 430.6 L430.37 431.31 L429.43 432.02 L428.62 432.73 L427.94 433.44 L427.43 434.15 L427.06 434.86 L426.74 435.57 L426.47 436.28 L426.24 436.99 L426.02 437.7 L425.81 438.41 L425.59 439.12 L425.33 439.83 L425.03 440.54" fill="none" stroke="rgb(125,125,125)" stroke-width="1.45" stroke-linejoin="round" stroke-linecap="round"/>
<path d="M424.8 345.4 L424.8 345.4 L424.8 346.11 L424.8 346.82 L424.8 347.53 L424.8 348.24 L424.8 348.95 L424.8 349.66 L424.8 350.37 L424.8 351.08 L424.8 351.79 L424.8 352.5 L424.81 353.21 L424.91 353.92 L425.05 354.63 L425.13 355.34 L425.17 356.05 L425.21 356.76 L425.25 357.47 L425.28 358.18 L425.3 358.89 L425.33 359.6 L425.35 360.31 L425.38 361.02 L425.4 361.73 L425.43 362.44 L425.46 363.15 L425.49 363.86 L425.52 364.57 L425.55 365.28 L425.58 365.99 L425.61 366.7 L425.64 367.41 L425.67 368.12 L425.7 368.83 L425.73 369.54 L425.76 370.25 L425.79 370.96 L425.83 371.67 L425.86 372.38 L425.9 373.09 L425.94 373.8 L425.98 374.51 L426.03 375.22 L426.07 375.93 L426.12 376.64 L426.18 377.35 L426.24 378.06 L426.3 378.77 L426.36 379.48 L426.43 380.19 L426.51 380.9 L426.59 381.61 L426.68 382.32 L426.77 383.03 L426.87 383.74 L426.98 384.45 L427.1 385.16 L427.22 385.87 L427.36 386.58 L427.51 387.29 L427.71 388 L427.96 388.71 L428.25 389.42 L428.56 390.13 L428.89 390.84 L429.23 391.55 L429.57 392.26 L429.9 392.97 L430.23 393.68 L430.55 394.39 L430.87 395.1 L431.21 395.81 L431.55 396.52 L431.89 397.23 L432.24 397.94 L432.6 398.65 L432.97 399.36 L433.34 400.07 L433.72 400.78 L434.1 401.49 L434.51 402.2 L434.93 402.91 L435.36 403.62 L435.81 404.33 L436.25 405.04 L436.7 405.75 L437.14 406.46 L437.57 407.17 L437.99 407.88 L438.43 408.59 L438.92 409.3 L439.43 410.01 L439.94 410.72 L440.43 411.43 L440.86 412.14 L441.22 412.85 L441.47 413.56 L441.59 414.27 L441.59 414.98 L441.56 415.69 L441.49 416.4 L441.4 417.11 L441.3 417.82 L441.17 418.53 L440.92 419.24 L440.51 419.95 L439.98 420.66 L439.39 421.37 L438.77 422.08 L438.17 422.79 L437.6 423.5 L436.99 424.21 L436.35 424.92 L435.68 425.63 L435.01 426.34 L434.34 427.05 L433.69 427.76 L433.06 428.47 L432.47 429.18 L431.88 429.89 L431.28 430.6 L430.7 431.31 L430.14 432.02 L429.61 432.73 L429.14 433.44 L428.73 434.15 L428.36 434.86 L428.01 435.57 L427.68 436.28 L427.36 436.99 L427.07 437.7 L426.8 438.41 L426.56 439.12 L426.34 439.83 L426.16 440.54 L426.01 441.25 L425.87 441.96 L425.75 442.67 L425.64 443.38 L425.55 444.09 L425.45 444.8 L425.36 445.51 L425.27 446.22 L425.17 446.93 L425.06 447.64 L424.92 448.35 L424.82 449.06 L424.8 449.77 L424.8 450.48 L424.8 451.19 L424.8 451.9 L424.8 452.61 L424.8 453.32 L424.8 454.03 L424.8 454.74 L424.8 455.45 L424.8 456.16 L424.8 456.87 L424.8 457.58 L424.8 458.29 L424.8 459 L424.8 459.71 L424.8 460.42 L424.8 461.13 L424.8 461.84 L424.8 462.55 L424.8 463.26 L424.8 463.97 L424.8 464.68 L424.8 465.39 L424.8 466.1 L424.8 466.81 L424.8 467.52 L424.8 468.23 L424.8 468.94 L424.8 469.65 L424.8 470.36 L424.8 471.07 L424.8 471.78 L424.8 472.49 L424.8 473.2 L424.8 473.91 L424.8 474.62 L424.8 475.33 L424.8 476.04 L424.8 476.75 L424.8 477.46 L424.8 478.17 L424.8 478.88 L424.8 479.59 L424.8 480.3 L424.8 481.01 L424.8 481.72 L424.8 482.43 L424.8 483.14 L424.8 483.85 L424.8 484.56 L424.8 485.27 L424.8 485.98 L424.8 486.69 L424.8 487.4 L424.8 487.4 Z" fill="rgb(31,119,180)" fill-opacity="0.25" stroke="none"/>
<path d="M425.05 354.63 L425.13 355.34 L425.17 356.05 L425.21 356.76 L425.25 357.47 L425.28 358.18 L425.3 358.89 L425.33 359.6 L425.35 360.31 L425.38 361.02 L425.4 361.73 L425.43 362.44 L425.46 363.15 L425.49 363.86 L425.52 364.57 L425.55 365.28 L425.58 365.99 L425.61 366.7 L425.64 367.41 L425.67 368.12 L425.7 368.83 L425.73 369.54 L425.76 370.25 L425.79 370.96 L425.83 371.67 L425.86 372.38 L425.9 373.09 L425.94 373.8 L425.98 374.51 L426.03 375.22 L426.07 375.93 L426.12 376.64 L426.18 377.35 L426.24 378.06 L426.3 378.77 L426.36 379.48 L426.43 380.19 L426.51 380.9 L426.59 381.61 L426.68 382.32 L426.77 383.03 L426.87 383.74 L426.98 384.45 L427.1 385.16 L427.22 385.87 L427.36 386.58 L427.51 387.29 L427.71 388 L427.96 388.71 L428.25 389.42 L428.56 390.13 L428.89 390.84 L429.23 391.55 L429.57 392.26 L429.9 392.97 L430.23 393.68 L430.55 394.39 L430.87 395.1 L431.21 395.81 L431.55 396.52 L431.89 397.23 L432.24 397.94 L432.6 398.65 L432.97 399.36 L433.34 400.07 L433.72 400.78 L434.1 401.49 L434.51 402.2 L434.93 402.91 L435.36 403.62 L435.81 404.33 L436.25 405.04 L436.7 405.75 L437.14 406.46 L437.57 407.17 L437.99 407.88 L438.43 408.59 L438.92 409.3 L439.43 410.01 L439.94 410.72 L440.43 411.43 L440.86 412.14 L441.22 412.85 L441.47 413.56 L441.59 414.27 L441.59 414.98 L441.56 415.69 L441.49 416.4 L441.4 417.11 L441.3 417.82 L441.17 418.53 L440.92 419.24 L440.51 419.95 L439.98 420.66 L439.39 421.37 L438.77 422.08 L438.17 422.79 L437.6 423.5 L436.99 424.21 L436.35 424.92 L435.68 425.63 L435.01 426.34 L434.34 427.05 L433.69 427.76 L433.06 428.47 L432.47 429.18 L431.88 429.89 L431.28 430.6 L430.7 431.31 L430.14 432.02 L429.61 432.73 L429.14 433.44 L428.73 434.15 L428.36 434.86 L428.01 435.57 L427.68 436.28 L427.36 436.99 L427.07 437.7 L426.8 438.41 L426.56 439.12 L426.34 439.83 L426.16 440.54 L426.01 441.25 L425.87 441.96 L425.75 442.67 L425.64 443.38 L425.55 444.09 L425.45 444.8 L425.36 445.51 L425.27 446.22 L425.17 446.93 L425.06 447.64" fill="none" stroke="rgb(38,125,190)" stroke-width="1.45" stroke-linejoin="round" stroke-linecap="round"/>
<line x1="282.2" y1="340.5" x2="420.2" y2="340.5" stroke="#262626" stroke-width="1.8"/>
<line x1="282.2" y1="345.4" x2="282.2" y2="488.15" stroke="#262626" stroke-width="1.8"/>
<line x1="281.45" y1="487.4" x2="420.2" y2="487.4" stroke="#262626" stroke-width="1.8"/>
<line x1="282.2" y1="416.4" x2="420.2" y2="416.4" stroke="#262626" stroke-width="1.6"/>
<line x1="351" y1="345.4" x2="351" y2="487.4" stroke="#262626" stroke-width="1.6"/>
<line x1="424.8" y1="345.4" x2="424.8" y2="487.4" stroke="#262626" stroke-width="1.8"/>
<text x="260.91" y="350.65" font-family="Liberation Sans" font-size="15" text-anchor="start" fill="#222" textLength="8.34" lengthAdjust="spacingAndGlyphs">2</text>
<text x="260.73" y="421.65" font-family="Liberation Sans" font-size="15" text-anchor="start" fill="#222" textLength="8.34" lengthAdjust="spacingAndGlyphs">0</text>
<text x="252.15" y="492.65" font-family="Liberation Sans" font-size="15" text-anchor="start" fill="#222" textLength="17.1" lengthAdjust="spacingAndGlyphs">−2</text>
<text x="273.66" y="511.9" font-family="Liberation Sans" font-size="15" text-anchor="start" fill="#222" textLength="17.1" lengthAdjust="spacingAndGlyphs">−2</text>
<text x="346.82" y="511.9" font-family="Liberation Sans" font-size="15" text-anchor="start" fill="#222" textLength="8.34" lengthAdjust="spacingAndGlyphs">0</text>
<text x="416.63" y="511.9" font-family="Liberation Sans" font-size="15" text-anchor="start" fill="#222" textLength="8.34" lengthAdjust="spacingAndGlyphs">2</text>
<circle cx="351" cy="349.2" r="3.1" fill="rgb(22,122,195)" fill-opacity="0.75" stroke="#fff" stroke-width="0.45" stroke-opacity="0.9"/>
<circle cx="356.1" cy="356.6" r="3.1" fill="rgb(22,122,195)" fill-opacity="0.75" stroke="#fff" stroke-width="0.45" stroke-opacity="0.9"/>
<circle cx="367.2" cy="356" r="3.1" fill="rgb(22,122,195)" fill-opacity="0.75" stroke="#fff" stroke-width="0.45" stroke-opacity="0.9"/>
<circle cx="351.5" cy="368.9" r="3.1" fill="rgb(22,122,195)" fill-opacity="0.75" stroke="#fff" stroke-width="0.45" stroke-opacity="0.9"/>
<circle cx="355" cy="370.7" r="3.1" fill="rgb(22,122,195)" fill-opacity="0.75" stroke="#fff" stroke-width="0.45" stroke-opacity="0.9"/>
<circle cx="355" cy="372.8" r="3.1" fill="rgb(22,122,195)" fill-opacity="0.75" stroke="#fff" stroke-width="0.45" stroke-opacity="0.9"/>
<circle cx="370.3" cy="372" r="3.1" fill="rgb(22,122,195)" fill-opacity="0.75" stroke="#fff" stroke-width="0.45" stroke-opacity="0.9"/>
<circle cx="353" cy="381.6" r="3.1" fill="rgb(22,122,195)" fill-opacity="0.75" stroke="#fff" stroke-width="0.45" stroke-opacity="0.9"/>
<circle cx="358" cy="382" r="3.1" fill="rgb(22,122,195)" fill-opacity="0.75" stroke="#fff" stroke-width="0.45" stroke-opacity="0.9"/>
<circle cx="357.2" cy="386.4" r="3.1" fill="rgb(22,122,195)" fill-opacity="0.75" stroke="#fff" stroke-width="0.45" stroke-opacity="0.9"/>
<circle cx="371.9" cy="381.9" r="3.1" fill="rgb(22,122,195)" fill-opacity="0.75" stroke="#fff" stroke-width="0.45" stroke-opacity="0.9"/>
<circle cx="378.9" cy="388.2" r="3.1" fill="rgb(22,122,195)" fill-opacity="0.75" stroke="#fff" stroke-width="0.45" stroke-opacity="0.9"/>
<circle cx="360.7" cy="391.7" r="3.1" fill="rgb(22,122,195)" fill-opacity="0.75" stroke="#fff" stroke-width="0.45" stroke-opacity="0.9"/>
<circle cx="348.4" cy="393.4" r="3.1" fill="rgb(22,122,195)" fill-opacity="0.75" stroke="#fff" stroke-width="0.45" stroke-opacity="0.9"/>
<circle cx="353.6" cy="393.4" r="3.1" fill="rgb(22,122,195)" fill-opacity="0.75" stroke="#fff" stroke-width="0.45" stroke-opacity="0.9"/>
<circle cx="358.7" cy="381.9" r="3.1" fill="rgb(22,122,195)" fill-opacity="0.75" stroke="#fff" stroke-width="0.45" stroke-opacity="0.9"/>
<circle cx="357.2" cy="386.7" r="3.1" fill="rgb(22,122,195)" fill-opacity="0.75" stroke="#fff" stroke-width="0.45" stroke-opacity="0.9"/>
<circle cx="372.1" cy="381.9" r="3.1" fill="rgb(22,122,195)" fill-opacity="0.75" stroke="#fff" stroke-width="0.45" stroke-opacity="0.9"/>
<circle cx="360.6" cy="391.5" r="3.1" fill="rgb(22,122,195)" fill-opacity="0.75" stroke="#fff" stroke-width="0.45" stroke-opacity="0.9"/>
<circle cx="362.5" cy="395.3" r="3.1" fill="rgb(22,122,195)" fill-opacity="0.75" stroke="#fff" stroke-width="0.45" stroke-opacity="0.9"/>
<circle cx="363" cy="400.6" r="3.1" fill="rgb(22,122,195)" fill-opacity="0.75" stroke="#fff" stroke-width="0.45" stroke-opacity="0.9"/>
<circle cx="361.5" cy="404.9" r="3.1" fill="rgb(22,122,195)" fill-opacity="0.75" stroke="#fff" stroke-width="0.45" stroke-opacity="0.9"/>
<circle cx="348.2" cy="394.3" r="3.1" fill="rgb(22,122,195)" fill-opacity="0.75" stroke="#fff" stroke-width="0.45" stroke-opacity="0.9"/>
<circle cx="353.9" cy="394.3" r="3.1" fill="rgb(22,122,195)" fill-opacity="0.75" stroke="#fff" stroke-width="0.45" stroke-opacity="0.9"/>
<circle cx="367.8" cy="397.7" r="3.1" fill="rgb(22,122,195)" fill-opacity="0.75" stroke="#fff" stroke-width="0.45" stroke-opacity="0.9"/>
<circle cx="344.3" cy="404.9" r="3.1" fill="rgb(22,122,195)" fill-opacity="0.75" stroke="#fff" stroke-width="0.45" stroke-opacity="0.9"/>
<circle cx="341.5" cy="408.7" r="3.1" fill="rgb(22,122,195)" fill-opacity="0.75" stroke="#fff" stroke-width="0.45" stroke-opacity="0.9"/>
<circle cx="341.5" cy="413" r="3.1" fill="rgb(22,122,195)" fill-opacity="0.75" stroke="#fff" stroke-width="0.45" stroke-opacity="0.9"/>
<circle cx="358.7" cy="406.8" r="3.1" fill="rgb(22,122,195)" fill-opacity="0.75" stroke="#fff" stroke-width="0.45" stroke-opacity="0.9"/>
<circle cx="359.6" cy="413.5" r="3.1" fill="rgb(22,122,195)" fill-opacity="0.75" stroke="#fff" stroke-width="0.45" stroke-opacity="0.9"/>
<circle cx="371.1" cy="412.5" r="3.1" fill="rgb(22,122,195)" fill-opacity="0.75" stroke="#fff" stroke-width="0.45" stroke-opacity="0.9"/>
<circle cx="368.7" cy="417.8" r="3.1" fill="rgb(22,122,195)" fill-opacity="0.75" stroke="#fff" stroke-width="0.45" stroke-opacity="0.9"/>
<circle cx="360.6" cy="419.2" r="3.1" fill="rgb(22,122,195)" fill-opacity="0.75" stroke="#fff" stroke-width="0.45" stroke-opacity="0.9"/>
<circle cx="358.7" cy="432.6" r="3.1" fill="rgb(22,122,195)" fill-opacity="0.75" stroke="#fff" stroke-width="0.45" stroke-opacity="0.9"/>
<circle cx="361.1" cy="438.8" r="3.1" fill="rgb(22,122,195)" fill-opacity="0.75" stroke="#fff" stroke-width="0.45" stroke-opacity="0.9"/>
<circle cx="346.3" cy="439.8" r="3.1" fill="rgb(22,122,195)" fill-opacity="0.75" stroke="#fff" stroke-width="0.45" stroke-opacity="0.9"/>
<circle cx="344.3" cy="443.1" r="3.1" fill="rgb(22,122,195)" fill-opacity="0.75" stroke="#fff" stroke-width="0.45" stroke-opacity="0.9"/>
<circle cx="360.6" cy="447.9" r="3.1" fill="rgb(22,122,195)" fill-opacity="0.75" stroke="#fff" stroke-width="0.45" stroke-opacity="0.9"/>
<circle cx="350.6" cy="456" r="3.1" fill="rgb(22,122,195)" fill-opacity="0.75" stroke="#fff" stroke-width="0.45" stroke-opacity="0.9"/>
<circle cx="342.4" cy="424.9" r="3.1" fill="rgb(22,122,195)" fill-opacity="0.75" stroke="#fff" stroke-width="0.45" stroke-opacity="0.9"/>
<circle cx="347" cy="428" r="3.1" fill="rgb(22,122,195)" fill-opacity="0.75" stroke="#fff" stroke-width="0.45" stroke-opacity="0.9"/>
<circle cx="356" cy="426" r="3.1" fill="rgb(22,122,195)" fill-opacity="0.75" stroke="#fff" stroke-width="0.45" stroke-opacity="0.9"/>
<circle cx="345" cy="418" r="3.1" fill="rgb(22,122,195)" fill-opacity="0.75" stroke="#fff" stroke-width="0.45" stroke-opacity="0.9"/>
<circle cx="350" cy="405" r="3.1" fill="rgb(22,122,195)" fill-opacity="0.75" stroke="#fff" stroke-width="0.45" stroke-opacity="0.9"/>
<circle cx="357" cy="432" r="3.1" fill="rgb(22,122,195)" fill-opacity="0.75" stroke="#fff" stroke-width="0.45" stroke-opacity="0.9"/>
<circle cx="352" cy="436" r="3.1" fill="rgb(22,122,195)" fill-opacity="0.75" stroke="#fff" stroke-width="0.45" stroke-opacity="0.9"/>
<circle cx="345.3" cy="363" r="3.1" fill="rgb(128,128,128)" fill-opacity="0.75" stroke="#fff" stroke-width="0.45" stroke-opacity="0.9"/>
<circle cx="340.1" cy="382.9" r="3.1" fill="rgb(128,128,128)" fill-opacity="0.75" stroke="#fff" stroke-width="0.45" stroke-opacity="0.9"/>
<circle cx="346.6" cy="384.2" r="3.1" fill="rgb(128,128,128)" fill-opacity="0.75" stroke="#fff" stroke-width="0.45" stroke-opacity="0.9"/>
<circle cx="342.4" cy="399.6" r="3.1" fill="rgb(128,128,128)" fill-opacity="0.75" stroke="#fff" stroke-width="0.45" stroke-opacity="0.9"/>
<circle cx="337.6" cy="405.3" r="3.1" fill="rgb(128,128,128)" fill-opacity="0.75" stroke="#fff" stroke-width="0.45" stroke-opacity="0.9"/>
<circle cx="352" cy="396.7" r="3.1" fill="rgb(128,128,128)" fill-opacity="0.75" stroke="#fff" stroke-width="0.45" stroke-opacity="0.9"/>
<circle cx="358.2" cy="398.6" r="3.1" fill="rgb(128,128,128)" fill-opacity="0.75" stroke="#fff" stroke-width="0.45" stroke-opacity="0.9"/>
<circle cx="349.6" cy="401.5" r="3.1" fill="rgb(128,128,128)" fill-opacity="0.75" stroke="#fff" stroke-width="0.45" stroke-opacity="0.9"/>
<circle cx="363.5" cy="424" r="3.1" fill="rgb(128,128,128)" fill-opacity="0.75" stroke="#fff" stroke-width="0.45" stroke-opacity="0.9"/>
<circle cx="353.4" cy="442.6" r="3.1" fill="rgb(128,128,128)" fill-opacity="0.75" stroke="#fff" stroke-width="0.45" stroke-opacity="0.9"/>
<circle cx="348.6" cy="445" r="3.1" fill="rgb(128,128,128)" fill-opacity="0.75" stroke="#fff" stroke-width="0.45" stroke-opacity="0.9"/>
<circle cx="352" cy="451.7" r="3.1" fill="rgb(128,128,128)" fill-opacity="0.75" stroke="#fff" stroke-width="0.45" stroke-opacity="0.9"/>
<circle cx="319.7" cy="425" r="3.1" fill="rgb(128,128,128)" fill-opacity="0.75" stroke="#fff" stroke-width="0.45" stroke-opacity="0.9"/>
<circle cx="339.8" cy="468" r="3.1" fill="rgb(128,128,128)" fill-opacity="0.75" stroke="#fff" stroke-width="0.45" stroke-opacity="0.9"/>
<circle cx="354.34" cy="422.27" r="3.1" fill="rgb(128,128,128)" fill-opacity="0.75" stroke="#fff" stroke-width="0.45" stroke-opacity="0.9"/>
<circle cx="348.18" cy="401.78" r="3.1" fill="rgb(128,128,128)" fill-opacity="0.75" stroke="#fff" stroke-width="0.45" stroke-opacity="0.9"/>
<circle cx="350.63" cy="411.92" r="3.1" fill="rgb(128,128,128)" fill-opacity="0.75" stroke="#fff" stroke-width="0.45" stroke-opacity="0.9"/>
<circle cx="348.33" cy="425.52" r="3.1" fill="rgb(128,128,128)" fill-opacity="0.75" stroke="#fff" stroke-width="0.45" stroke-opacity="0.9"/>
<circle cx="353.06" cy="410.45" r="3.1" fill="rgb(128,128,128)" fill-opacity="0.75" stroke="#fff" stroke-width="0.45" stroke-opacity="0.9"/>
<circle cx="351.76" cy="413.67" r="3.1" fill="rgb(128,128,128)" fill-opacity="0.75" stroke="#fff" stroke-width="0.45" stroke-opacity="0.9"/>
<circle cx="346.61" cy="405.66" r="3.1" fill="rgb(128,128,128)" fill-opacity="0.75" stroke="#fff" stroke-width="0.45" stroke-opacity="0.9"/>
<circle cx="350.96" cy="407.67" r="3.1" fill="rgb(128,128,128)" fill-opacity="0.75" stroke="#fff" stroke-width="0.45" stroke-opacity="0.9"/>
<circle cx="350.34" cy="404.9" r="3.1" fill="rgb(128,128,128)" fill-opacity="0.75" stroke="#fff" stroke-width="0.45" stroke-opacity="0.9"/>
<circle cx="348.91" cy="403.23" r="3.1" fill="rgb(128,128,128)" fill-opacity="0.75" stroke="#fff" stroke-width="0.45" stroke-opacity="0.9"/>
<circle cx="347.56" cy="408.99" r="3.1" fill="rgb(128,128,128)" fill-opacity="0.75" stroke="#fff" stroke-width="0.45" stroke-opacity="0.9"/>
<circle cx="351.92" cy="430.62" r="3.1" fill="rgb(128,128,128)" fill-opacity="0.75" stroke="#fff" stroke-width="0.45" stroke-opacity="0.9"/>
<circle cx="354.3" cy="414.3" r="3.1" fill="rgb(128,128,128)" fill-opacity="0.75" stroke="#fff" stroke-width="0.45" stroke-opacity="0.9"/>
<circle cx="349.86" cy="418.13" r="3.1" fill="rgb(128,128,128)" fill-opacity="0.75" stroke="#fff" stroke-width="0.45" stroke-opacity="0.9"/>
<circle cx="349.37" cy="411.73" r="3.1" fill="rgb(128,128,128)" fill-opacity="0.75" stroke="#fff" stroke-width="0.45" stroke-opacity="0.9"/>
<circle cx="345.22" cy="409.65" r="3.1" fill="rgb(128,128,128)" fill-opacity="0.75" stroke="#fff" stroke-width="0.45" stroke-opacity="0.9"/>
<circle cx="351.04" cy="421.76" r="3.1" fill="rgb(128,128,128)" fill-opacity="0.75" stroke="#fff" stroke-width="0.45" stroke-opacity="0.9"/>
<circle cx="355.79" cy="407.53" r="3.1" fill="rgb(128,128,128)" fill-opacity="0.75" stroke="#fff" stroke-width="0.45" stroke-opacity="0.9"/>
<circle cx="347.98" cy="408.65" r="3.1" fill="rgb(128,128,128)" fill-opacity="0.75" stroke="#fff" stroke-width="0.45" stroke-opacity="0.9"/>
<circle cx="349.68" cy="415.44" r="3.1" fill="rgb(128,128,128)" fill-opacity="0.75" stroke="#fff" stroke-width="0.45" stroke-opacity="0.9"/>
<circle cx="356.22" cy="416.38" r="3.1" fill="rgb(128,128,128)" fill-opacity="0.75" stroke="#fff" stroke-width="0.45" stroke-opacity="0.9"/>
<circle cx="349.57" cy="431.98" r="3.1" fill="rgb(128,128,128)" fill-opacity="0.75" stroke="#fff" stroke-width="0.45" stroke-opacity="0.9"/>
<circle cx="355.3" cy="429.53" r="3.1" fill="rgb(128,128,128)" fill-opacity="0.75" stroke="#fff" stroke-width="0.45" stroke-opacity="0.9"/>
<circle cx="351.3" cy="423.56" r="3.1" fill="rgb(128,128,128)" fill-opacity="0.75" stroke="#fff" stroke-width="0.45" stroke-opacity="0.9"/>
<circle cx="356.83" cy="424.93" r="3.1" fill="rgb(128,128,128)" fill-opacity="0.75" stroke="#fff" stroke-width="0.45" stroke-opacity="0.9"/>
<circle cx="352.94" cy="426.41" r="3.1" fill="rgb(128,128,128)" fill-opacity="0.75" stroke="#fff" stroke-width="0.45" stroke-opacity="0.9"/>
<circle cx="350.44" cy="419.07" r="3.1" fill="rgb(128,128,128)" fill-opacity="0.75" stroke="#fff" stroke-width="0.45" stroke-opacity="0.9"/>
<circle cx="347.47" cy="431.75" r="3.1" fill="rgb(128,128,128)" fill-opacity="0.75" stroke="#fff" stroke-width="0.45" stroke-opacity="0.9"/>
<circle cx="352.92" cy="410.55" r="3.1" fill="rgb(128,128,128)" fill-opacity="0.75" stroke="#fff" stroke-width="0.45" stroke-opacity="0.9"/>
<circle cx="346.09" cy="408.76" r="3.1" fill="rgb(128,128,128)" fill-opacity="0.75" stroke="#fff" stroke-width="0.45" stroke-opacity="0.9"/>
<circle cx="352.8" cy="424.13" r="3.1" fill="rgb(128,128,128)" fill-opacity="0.75" stroke="#fff" stroke-width="0.45" stroke-opacity="0.9"/>
<circle cx="351.32" cy="420.15" r="3.1" fill="rgb(128,128,128)" fill-opacity="0.75" stroke="#fff" stroke-width="0.45" stroke-opacity="0.9"/>
<circle cx="349.52" cy="407.79" r="3.1" fill="rgb(128,128,128)" fill-opacity="0.75" stroke="#fff" stroke-width="0.45" stroke-opacity="0.9"/>
<circle cx="352.33" cy="400.46" r="3.1" fill="rgb(128,128,128)" fill-opacity="0.75" stroke="#fff" stroke-width="0.45" stroke-opacity="0.9"/>
<circle cx="348.38" cy="415.95" r="3.1" fill="rgb(128,128,128)" fill-opacity="0.75" stroke="#fff" stroke-width="0.45" stroke-opacity="0.9"/>
<circle cx="357.06" cy="422.27" r="3.1" fill="rgb(128,128,128)" fill-opacity="0.75" stroke="#fff" stroke-width="0.45" stroke-opacity="0.9"/>
<circle cx="356.07" cy="416.45" r="3.1" fill="rgb(128,128,128)" fill-opacity="0.75" stroke="#fff" stroke-width="0.45" stroke-opacity="0.9"/>
<circle cx="347.5" cy="408.6" r="3.1" fill="rgb(128,128,128)" fill-opacity="0.75" stroke="#fff" stroke-width="0.45" stroke-opacity="0.9"/>
<circle cx="350.98" cy="423.3" r="3.1" fill="rgb(128,128,128)" fill-opacity="0.75" stroke="#fff" stroke-width="0.45" stroke-opacity="0.9"/>
<circle cx="349.94" cy="408.95" r="3.1" fill="rgb(128,128,128)" fill-opacity="0.75" stroke="#fff" stroke-width="0.45" stroke-opacity="0.9"/>
<circle cx="353.21" cy="431.93" r="3.1" fill="rgb(128,128,128)" fill-opacity="0.75" stroke="#fff" stroke-width="0.45" stroke-opacity="0.9"/>
<circle cx="348.86" cy="414.57" r="3.1" fill="rgb(128,128,128)" fill-opacity="0.75" stroke="#fff" stroke-width="0.45" stroke-opacity="0.9"/>
<circle cx="353.41" cy="406.91" r="3.1" fill="rgb(128,128,128)" fill-opacity="0.75" stroke="#fff" stroke-width="0.45" stroke-opacity="0.9"/>
<circle cx="354.92" cy="425.53" r="3.1" fill="rgb(128,128,128)" fill-opacity="0.75" stroke="#fff" stroke-width="0.45" stroke-opacity="0.9"/>
<circle cx="351.06" cy="407.16" r="3.1" fill="rgb(128,128,128)" fill-opacity="0.75" stroke="#fff" stroke-width="0.45" stroke-opacity="0.9"/>
<circle cx="355.22" cy="408.04" r="3.1" fill="rgb(128,128,128)" fill-opacity="0.75" stroke="#fff" stroke-width="0.45" stroke-opacity="0.9"/>
<circle cx="347.32" cy="426.26" r="3.1" fill="rgb(128,128,128)" fill-opacity="0.75" stroke="#fff" stroke-width="0.45" stroke-opacity="0.9"/>
<circle cx="348.29" cy="432.85" r="3.1" fill="rgb(128,128,128)" fill-opacity="0.75" stroke="#fff" stroke-width="0.45" stroke-opacity="0.9"/>
<circle cx="350.94" cy="406.54" r="3.1" fill="rgb(128,128,128)" fill-opacity="0.75" stroke="#fff" stroke-width="0.45" stroke-opacity="0.9"/>
<circle cx="347.35" cy="414.45" r="3.1" fill="rgb(128,128,128)" fill-opacity="0.75" stroke="#fff" stroke-width="0.45" stroke-opacity="0.9"/>
<path d="M65.2 629.5 L65.2 629.5 L65.89 629.5 L66.58 629.5 L67.27 629.5 L67.96 629.5 L68.66 629.5 L69.35 629.5 L70.04 629.5 L70.73 629.5 L71.42 629.5 L72.11 629.5 L72.8 629.5 L73.49 629.5 L74.18 629.5 L74.87 629.5 L75.56 629.5 L76.26 629.5 L76.95 629.5 L77.64 629.5 L78.33 629.5 L79.02 629.5 L79.71 629.5 L80.4 629.5 L81.09 629.5 L81.78 629.5 L82.47 629.5 L83.17 629.5 L83.86 629.5 L84.55 629.5 L85.24 629.5 L85.93 629.5 L86.62 629.5 L87.31 629.5 L88 629.5 L88.69 629.5 L89.39 629.5 L90.08 629.5 L90.77 629.5 L91.46 629.5 L92.15 629.5 L92.84 629.5 L93.53 629.5 L94.22 629.5 L94.91 629.5 L95.6 629.5 L96.3 629.5 L96.99 629.5 L97.68 629.5 L98.37 629.5 L99.06 629.5 L99.75 629.5 L100.44 629.5 L101.13 629.5 L101.82 629.5 L102.51 629.5 L103.2 629.5 L103.9 629.5 L104.59 629.5 L105.28 629.5 L105.97 629.5 L106.66 629.5 L107.35 629.5 L108.04 629.5 L108.73 629.5 L109.42 629.5 L110.12 629.5 L110.81 629.5 L111.5 629.5 L112.19 629.5 L112.88 629.5 L113.57 629.5 L114.26 629.5 L114.95 629.5 L115.64 629.5 L116.33 629.5 L117.03 629.5 L117.72 629.5 L118.41 629.5 L119.1 629.5 L119.79 629.5 L120.48 629.5 L121.17 629.5 L121.86 629.5 L122.55 629.5 L123.24 629.35 L123.94 629.03 L124.63 628.62 L125.32 628.06 L126.01 627.26 L126.7 626.25 L127.39 625.02 L128.08 623.25 L128.77 620.39 L129.46 617.12 L130.15 614.2 L130.84 611.36 L131.54 608.7 L132.23 607.17 L132.92 606.52 L133.61 606.21 L134.3 606.47 L134.99 607.33 L135.68 608.57 L136.37 610.92 L137.06 614.88 L137.75 618.34 L138.45 620.57 L139.14 622.55 L139.83 624.23 L140.52 625.55 L141.21 626.48 L141.9 627.22 L142.59 627.84 L143.28 628.34 L143.97 628.74 L144.66 629.12 L145.36 629.41 L146.05 629.5 L146.74 629.5 L147.43 629.5 L148.12 629.5 L148.81 629.5 L149.5 629.5 L150.19 629.5 L150.88 629.5 L151.57 629.5 L152.27 629.5 L152.96 629.5 L153.65 629.5 L154.34 629.5 L155.03 629.5 L155.72 629.5 L156.41 629.5 L157.1 629.5 L157.79 629.5 L158.49 629.5 L159.18 629.5 L159.87 629.5 L160.56 629.5 L161.25 629.5 L161.94 629.5 L162.63 629.5 L163.32 629.5 L164.01 629.5 L164.7 629.5 L165.39 629.5 L166.09 629.5 L166.78 629.5 L167.47 629.5 L168.16 629.5 L168.85 629.5 L169.54 629.5 L170.23 629.5 L170.92 629.5 L171.61 629.5 L172.31 629.5 L173 629.5 L173.69 629.5 L174.38 629.5 L175.07 629.5 L175.76 629.5 L176.45 629.5 L177.14 629.5 L177.83 629.5 L178.52 629.5 L179.21 629.5 L179.91 629.5 L180.6 629.5 L181.29 629.5 L181.98 629.5 L182.67 629.5 L183.36 629.5 L184.05 629.5 L184.74 629.5 L185.43 629.5 L186.12 629.5 L186.82 629.5 L187.51 629.5 L188.2 629.5 L188.89 629.5 L189.58 629.5 L190.27 629.5 L190.96 629.5 L191.65 629.5 L192.34 629.5 L193.03 629.5 L193.73 629.5 L194.42 629.5 L195.11 629.5 L195.8 629.5 L196.49 629.5 L197.18 629.5 L197.87 629.5 L198.56 629.5 L199.25 629.5 L199.94 629.5 L200.64 629.5 L201.33 629.5 L202.02 629.5 L202.71 629.5 L203.4 629.5 L203.4 629.5 Z" fill="rgb(128,128,128)" fill-opacity="0.25" stroke="none"/>
<path d="M123.94 629.03 L124.63 628.62 L125.32 628.06 L126.01 627.26 L126.7 626.25 L127.39 625.02 L128.08 623.25 L128.77 620.39 L129.46 617.12 L130.15 614.2 L130.84 611.36 L131.54 608.7 L132.23 607.17 L132.92 606.52 L133.61 606.21 L134.3 606.47 L134.99 607.33 L135.68 608.57 L136.37 610.92 L137.06 614.88 L137.75 618.34 L138.45 620.57 L139.14 622.55 L139.83 624.23 L140.52 625.55 L141.21 626.48 L141.9 627.22 L142.59 627.84 L143.28 628.34 L143.97 628.74 L144.66 629.12" fill="none" stroke="rgb(125,125,125)" stroke-width="1.45" stroke-linejoin="round" stroke-linecap="round"/>
<path d="M65.2 629.5 L65.2 629.5 L65.89 629.5 L66.58 629.5 L67.27 629.5 L67.96 629.5 L68.66 629.5 L69.35 629.5 L70.04 629.5 L70.73 629.5 L71.42 629.5 L72.11 629.5 L72.8 629.5 L73.49 629.5 L74.18 629.5 L74.87 629.5 L75.56 629.5 L76.26 629.5 L76.95 629.5 L77.64 629.5 L78.33 629.5 L79.02 629.5 L79.71 629.5 L80.4 629.5 L81.09 629.5 L81.78 629.5 L82.47 629.5 L83.17 629.5 L83.86 629.5 L84.55 629.5 L85.24 629.5 L85.93 629.5 L86.62 629.5 L87.31 629.5 L88 629.5 L88.69 629.5 L89.39 629.5 L90.08 629.5 L90.77 629.5 L91.46 629.5 L92.15 629.5 L92.84 629.5 L93.53 629.5 L94.22 629.5 L94.91 629.5 L95.6 629.5 L96.3 629.5 L96.99 629.5 L97.68 629.5 L98.37 629.48 L99.06 629.35 L99.75 629.22 L100.44 629.18 L101.13 629.14 L101.82 629.11 L102.51 629.09 L103.2 629.07 L103.9 629.05 L104.59 629.04 L105.28 629.03 L105.97 629.01 L106.66 629 L107.35 628.98 L108.04 628.97 L108.73 628.95 L109.42 628.93 L110.12 628.9 L110.81 628.88 L111.5 628.85 L112.19 628.82 L112.88 628.79 L113.57 628.76 L114.26 628.72 L114.95 628.69 L115.64 628.65 L116.33 628.6 L117.03 628.55 L117.72 628.49 L118.41 628.43 L119.1 628.36 L119.79 628.28 L120.48 628.19 L121.17 628.05 L121.86 627.83 L122.55 627.54 L123.24 627.19 L123.94 626.78 L124.63 626.3 L125.32 625.54 L126.01 624.46 L126.7 623.17 L127.39 621.79 L128.08 620.43 L128.77 619.2 L129.46 617.92 L130.15 616.58 L130.84 615.3 L131.54 614.19 L132.23 613.37 L132.92 612.72 L133.61 612.14 L134.3 611.73 L134.99 611.61 L135.68 612.02 L136.37 612.93 L137.06 614.11 L137.75 615.32 L138.45 616.72 L139.14 618.48 L139.83 620.29 L140.52 621.86 L141.21 622.93 L141.9 623.85 L142.59 624.69 L143.28 625.41 L143.97 626.01 L144.66 626.45 L145.36 626.73 L146.05 626.97 L146.74 627.17 L147.43 627.34 L148.12 627.5 L148.81 627.63 L149.5 627.75 L150.19 627.86 L150.88 627.97 L151.57 628.07 L152.27 628.17 L152.96 628.26 L153.65 628.35 L154.34 628.44 L155.03 628.52 L155.72 628.59 L156.41 628.66 L157.1 628.73 L157.79 628.79 L158.49 628.84 L159.18 628.89 L159.87 628.93 L160.56 628.97 L161.25 629 L161.94 629.03 L162.63 629.06 L163.32 629.08 L164.01 629.11 L164.7 629.13 L165.39 629.16 L166.09 629.19 L166.78 629.23 L167.47 629.27 L168.16 629.31 L168.85 629.4 L169.54 629.48 L170.23 629.5 L170.92 629.5 L171.61 629.5 L172.31 629.5 L173 629.5 L173.69 629.5 L174.38 629.5 L175.07 629.5 L175.76 629.5 L176.45 629.5 L177.14 629.5 L177.83 629.5 L178.52 629.5 L179.21 629.5 L179.91 629.5 L180.6 629.5 L181.29 629.5 L181.98 629.5 L182.67 629.5 L183.36 629.5 L184.05 629.5 L184.74 629.5 L185.43 629.5 L186.12 629.5 L186.82 629.5 L187.51 629.5 L188.2 629.5 L188.89 629.5 L189.58 629.5 L190.27 629.5 L190.96 629.5 L191.65 629.5 L192.34 629.5 L193.03 629.5 L193.73 629.5 L194.42 629.5 L195.11 629.5 L195.8 629.5 L196.49 629.5 L197.18 629.5 L197.87 629.5 L198.56 629.5 L199.25 629.5 L199.94 629.5 L200.64 629.5 L201.33 629.5 L202.02 629.5 L202.71 629.5 L203.4 629.5 L203.4 629.5 Z" fill="rgb(31,119,180)" fill-opacity="0.25" stroke="none"/>
<path d="M99.75 629.22 L100.44 629.18 L101.13 629.14 L101.82 629.11 L102.51 629.09 L103.2 629.07 L103.9 629.05 L104.59 629.04 L105.28 629.03 L105.97 629.01 L106.66 629 L107.35 628.98 L108.04 628.97 L108.73 628.95 L109.42 628.93 L110.12 628.9 L110.81 628.88 L111.5 628.85 L112.19 628.82 L112.88 628.79 L113.57 628.76 L114.26 628.72 L114.95 628.69 L115.64 628.65 L116.33 628.6 L117.03 628.55 L117.72 628.49 L118.41 628.43 L119.1 628.36 L119.79 628.28 L120.48 628.19 L121.17 628.05 L121.86 627.83 L122.55 627.54 L123.24 627.19 L123.94 626.78 L124.63 626.3 L125.32 625.54 L126.01 624.46 L126.7 623.17 L127.39 621.79 L128.08 620.43 L128.77 619.2 L129.46 617.92 L130.15 616.58 L130.84 615.3 L131.54 614.19 L132.23 613.37 L132.92 612.72 L133.61 612.14 L134.3 611.73 L134.99 611.61 L135.68 612.02 L136.37 612.93 L137.06 614.11 L137.75 615.32 L138.45 616.72 L139.14 618.48 L139.83 620.29 L140.52 621.86 L141.21 622.93 L141.9 623.85 L142.59 624.69 L143.28 625.41 L143.97 626.01 L144.66 626.45 L145.36 626.73 L146.05 626.97 L146.74 627.17 L147.43 627.34 L148.12 627.5 L148.81 627.63 L149.5 627.75 L150.19 627.86 L150.88 627.97 L151.57 628.07 L152.27 628.17 L152.96 628.26 L153.65 628.35 L154.34 628.44 L155.03 628.52 L155.72 628.59 L156.41 628.66 L157.1 628.73 L157.79 628.79 L158.49 628.84 L159.18 628.89 L159.87 628.93 L160.56 628.97 L161.25 629 L161.94 629.03 L162.63 629.06 L163.32 629.08 L164.01 629.11 L164.7 629.13 L165.39 629.16 L166.09 629.19 L166.78 629.23 L167.47 629.27 L168.16 629.31" fill="none" stroke="rgb(38,125,190)" stroke-width="1.45" stroke-linejoin="round" stroke-linecap="round"/>
<path d="M207.8 634.3 L207.8 634.3 L207.8 635.01 L207.8 635.72 L207.8 636.43 L207.8 637.15 L207.8 637.86 L207.8 638.57 L207.8 639.28 L207.8 639.99 L207.8 640.7 L207.8 641.41 L207.8 642.13 L207.8 642.84 L207.8 643.55 L207.8 644.26 L207.8 644.97 L207.8 645.68 L207.8 646.4 L207.8 647.11 L207.8 647.82 L207.8 648.53 L207.8 649.24 L207.8 649.95 L207.8 650.66 L207.8 651.38 L207.8 652.09 L207.8 652.8 L207.8 653.51 L207.8 654.22 L207.8 654.93 L207.8 655.64 L207.8 656.36 L207.8 657.07 L207.8 657.78 L207.8 658.49 L207.8 659.2 L207.8 659.91 L207.8 660.63 L207.8 661.34 L207.8 662.05 L207.8 662.76 L207.8 663.47 L207.8 664.18 L207.8 664.89 L207.8 665.61 L207.8 666.32 L207.8 667.03 L207.8 667.74 L207.8 668.45 L207.8 669.16 L207.8 669.88 L207.8 670.59 L207.8 671.3 L207.8 672.01 L207.8 672.72 L207.8 673.43 L207.8 674.14 L207.8 674.86 L207.8 675.57 L207.8 676.28 L207.8 676.99 L207.8 677.7 L207.8 678.41 L207.8 679.12 L207.8 679.84 L207.8 680.55 L207.8 681.26 L207.8 681.97 L207.8 682.68 L207.93 683.39 L208.2 684.11 L208.49 684.82 L208.85 685.53 L209.29 686.24 L209.8 686.95 L210.36 687.66 L210.95 688.37 L211.64 689.09 L212.42 689.8 L213.27 690.51 L214.15 691.22 L215.04 691.93 L215.89 692.64 L216.75 693.35 L217.63 694.07 L218.52 694.78 L219.41 695.49 L220.3 696.2 L221.16 696.91 L222 697.62 L222.86 698.34 L223.72 699.05 L224.56 699.76 L225.39 700.47 L226.17 701.18 L226.91 701.89 L227.6 702.6 L228.33 703.32 L229.07 704.03 L229.65 704.74 L229.9 705.45 L229.7 706.16 L229.13 706.87 L228.31 707.58 L227.37 708.3 L226.42 709.01 L225.42 709.72 L224.22 710.43 L222.91 711.14 L221.56 711.85 L220.27 712.57 L219.13 713.28 L218.14 713.99 L217.2 714.7 L216.31 715.41 L215.45 716.12 L214.63 716.83 L213.82 717.55 L213.02 718.26 L212.18 718.97 L211.33 719.68 L210.55 720.39 L209.91 721.1 L209.5 721.81 L209.2 722.53 L208.96 723.24 L208.76 723.95 L208.56 724.66 L208.34 725.37 L208.07 726.08 L207.84 726.79 L207.8 727.51 L207.8 728.22 L207.8 728.93 L207.8 729.64 L207.8 730.35 L207.8 731.06 L207.8 731.78 L207.8 732.49 L207.8 733.2 L207.8 733.91 L207.8 734.62 L207.8 735.33 L207.8 736.04 L207.8 736.76 L207.8 737.47 L207.8 738.18 L207.8 738.89 L207.8 739.6 L207.8 740.31 L207.8 741.02 L207.8 741.74 L207.8 742.45 L207.8 743.16 L207.8 743.87 L207.8 744.58 L207.8 745.29 L207.8 746.01 L207.8 746.72 L207.8 747.43 L207.8 748.14 L207.8 748.85 L207.8 749.56 L207.8 750.27 L207.8 750.99 L207.8 751.7 L207.8 752.41 L207.8 753.12 L207.8 753.83 L207.8 754.54 L207.8 755.25 L207.8 755.97 L207.8 756.68 L207.8 757.39 L207.8 758.1 L207.8 758.81 L207.8 759.52 L207.8 760.24 L207.8 760.95 L207.8 761.66 L207.8 762.37 L207.8 763.08 L207.8 763.79 L207.8 764.5 L207.8 765.22 L207.8 765.93 L207.8 766.64 L207.8 767.35 L207.8 768.06 L207.8 768.77 L207.8 769.49 L207.8 770.2 L207.8 770.91 L207.8 771.62 L207.8 772.33 L207.8 773.04 L207.8 773.75 L207.8 774.47 L207.8 775.18 L207.8 775.89 L207.8 776.6 L207.8 776.6 Z" fill="rgb(128,128,128)" fill-opacity="0.25" stroke="none"/>
<path d="M208.2 684.11 L208.49 684.82 L208.85 685.53 L209.29 686.24 L209.8 686.95 L210.36 687.66 L210.95 688.37 L211.64 689.09 L212.42 689.8 L213.27 690.51 L214.15 691.22 L215.04 691.93 L215.89 692.64 L216.75 693.35 L217.63 694.07 L218.52 694.78 L219.41 695.49 L220.3 696.2 L221.16 696.91 L222 697.62 L222.86 698.34 L223.72 699.05 L224.56 699.76 L225.39 700.47 L226.17 701.18 L226.91 701.89 L227.6 702.6 L228.33 703.32 L229.07 704.03 L229.65 704.74 L229.9 705.45 L229.7 706.16 L229.13 706.87 L228.31 707.58 L227.37 708.3 L226.42 709.01 L225.42 709.72 L224.22 710.43 L222.91 711.14 L221.56 711.85 L220.27 712.57 L219.13 713.28 L218.14 713.99 L217.2 714.7 L216.31 715.41 L215.45 716.12 L214.63 716.83 L213.82 717.55 L213.02 718.26 L212.18 718.97 L211.33 719.68 L210.55 720.39 L209.91 721.1 L209.5 721.81 L209.2 722.53 L208.96 723.24 L208.76 723.95 L208.56 724.66 L208.34 725.37 L208.07 726.08" fill="none" stroke="rgb(125,125,125)" stroke-width="1.45" stroke-linejoin="round" stroke-linecap="round"/>
<path d="M207.8 634.3 L207.8 634.3 L207.8 635.01 L207.8 635.72 L207.8 636.43 L207.8 637.15 L207.8 637.86 L207.8 638.57 L207.8 639.28 L207.8 639.99 L207.8 640.7 L207.8 641.41 L207.8 642.13 L207.8 642.84 L207.8 643.55 L207.8 644.26 L207.8 644.97 L207.8 645.68 L207.8 646.4 L207.8 647.11 L207.8 647.82 L207.8 648.53 L207.8 649.24 L207.8 649.95 L207.84 650.66 L207.93 651.38 L208.01 652.09 L208.05 652.8 L208.09 653.51 L208.12 654.22 L208.15 654.93 L208.18 655.64 L208.2 656.36 L208.23 657.07 L208.25 657.78 L208.27 658.49 L208.3 659.2 L208.32 659.91 L208.35 660.63 L208.38 661.34 L208.41 662.05 L208.44 662.76 L208.47 663.47 L208.5 664.18 L208.53 664.89 L208.55 665.61 L208.58 666.32 L208.61 667.03 L208.64 667.74 L208.68 668.45 L208.71 669.16 L208.75 669.88 L208.78 670.59 L208.83 671.3 L208.87 672.01 L208.92 672.72 L208.97 673.43 L209.02 674.14 L209.08 674.86 L209.15 675.57 L209.23 676.28 L209.31 676.99 L209.4 677.7 L209.51 678.41 L209.62 679.12 L209.74 679.84 L209.87 680.55 L210 681.26 L210.15 681.97 L210.31 682.68 L210.51 683.39 L210.74 684.11 L210.99 684.82 L211.28 685.53 L211.6 686.24 L211.94 686.95 L212.31 687.66 L212.7 688.37 L213.18 689.09 L213.75 689.8 L214.39 690.51 L215.08 691.22 L215.77 691.93 L216.46 692.64 L217.14 693.35 L217.84 694.07 L218.58 694.78 L219.33 695.49 L220.05 696.2 L220.74 696.91 L221.36 697.62 L221.94 698.34 L222.54 699.05 L223.17 699.76 L223.77 700.47 L224.34 701.18 L224.84 701.89 L225.25 702.6 L225.54 703.32 L225.69 704.03 L225.66 704.74 L225.46 705.45 L225.11 706.16 L224.63 706.87 L224.06 707.58 L223.42 708.3 L222.74 709.01 L222.05 709.72 L221.37 710.43 L220.56 711.14 L219.59 711.85 L218.57 712.57 L217.58 713.28 L216.7 713.99 L215.89 714.7 L215.1 715.41 L214.34 716.12 L213.64 716.83 L213.01 717.55 L212.49 718.26 L212.02 718.97 L211.57 719.68 L211.14 720.39 L210.75 721.1 L210.4 721.81 L210.09 722.53 L209.83 723.24 L209.61 723.95 L209.44 724.66 L209.28 725.37 L209.13 726.08 L208.99 726.79 L208.87 727.51 L208.75 728.22 L208.65 728.93 L208.56 729.64 L208.48 730.35 L208.41 731.06 L208.35 731.78 L208.3 732.49 L208.24 733.2 L208.2 733.91 L208.16 734.62 L208.12 735.33 L208.08 736.04 L208.04 736.76 L208.01 737.47 L207.97 738.18 L207.94 738.89 L207.9 739.6 L207.86 740.31 L207.81 741.02 L207.8 741.74 L207.8 742.45 L207.8 743.16 L207.8 743.87 L207.8 744.58 L207.8 745.29 L207.8 746.01 L207.8 746.72 L207.8 747.43 L207.8 748.14 L207.8 748.85 L207.8 749.56 L207.8 750.27 L207.8 750.99 L207.8 751.7 L207.8 752.41 L207.8 753.12 L207.8 753.83 L207.8 754.54 L207.8 755.25 L207.8 755.97 L207.8 756.68 L207.8 757.39 L207.8 758.1 L207.8 758.81 L207.8 759.52 L207.8 760.24 L207.8 760.95 L207.8 761.66 L207.8 762.37 L207.8 763.08 L207.8 763.79 L207.8 764.5 L207.8 765.22 L207.8 765.93 L207.8 766.64 L207.8 767.35 L207.8 768.06 L207.8 768.77 L207.8 769.49 L207.8 770.2 L207.8 770.91 L207.8 771.62 L207.8 772.33 L207.8 773.04 L207.8 773.75 L207.8 774.47 L207.8 775.18 L207.8 775.89 L207.8 776.6 L207.8 776.6 Z" fill="rgb(31,119,180)" fill-opacity="0.25" stroke="none"/>
<path d="M208.01 652.09 L208.05 652.8 L208.09 653.51 L208.12 654.22 L208.15 654.93 L208.18 655.64 L208.2 656.36 L208.23 657.07 L208.25 657.78 L208.27 658.49 L208.3 659.2 L208.32 659.91 L208.35 660.63 L208.38 661.34 L208.41 662.05 L208.44 662.76 L208.47 663.47 L208.5 664.18 L208.53 664.89 L208.55 665.61 L208.58 666.32 L208.61 667.03 L208.64 667.74 L208.68 668.45 L208.71 669.16 L208.75 669.88 L208.78 670.59 L208.83 671.3 L208.87 672.01 L208.92 672.72 L208.97 673.43 L209.02 674.14 L209.08 674.86 L209.15 675.57 L209.23 676.28 L209.31 676.99 L209.4 677.7 L209.51 678.41 L209.62 679.12 L209.74 679.84 L209.87 680.55 L210 681.26 L210.15 681.97 L210.31 682.68 L210.51 683.39 L210.74 684.11 L210.99 684.82 L211.28 685.53 L211.6 686.24 L211.94 686.95 L212.31 687.66 L212.7 688.37 L213.18 689.09 L213.75 689.8 L214.39 690.51 L215.08 691.22 L215.77 691.93 L216.46 692.64 L217.14 693.35 L217.84 694.07 L218.58 694.78 L219.33 695.49 L220.05 696.2 L220.74 696.91 L221.36 697.62 L221.94 698.34 L222.54 699.05 L223.17 699.76 L223.77 700.47 L224.34 701.18 L224.84 701.89 L225.25 702.6 L225.54 703.32 L225.69 704.03 L225.66 704.74 L225.46 705.45 L225.11 706.16 L224.63 706.87 L224.06 707.58 L223.42 708.3 L222.74 709.01 L222.05 709.72 L221.37 710.43 L220.56 711.14 L219.59 711.85 L218.57 712.57 L217.58 713.28 L216.7 713.99 L215.89 714.7 L215.1 715.41 L214.34 716.12 L213.64 716.83 L213.01 717.55 L212.49 718.26 L212.02 718.97 L211.57 719.68 L211.14 720.39 L210.75 721.1 L210.4 721.81 L210.09 722.53 L209.83 723.24 L209.61 723.95 L209.44 724.66 L209.28 725.37 L209.13 726.08 L208.99 726.79 L208.87 727.51 L208.75 728.22 L208.65 728.93 L208.56 729.64 L208.48 730.35 L208.41 731.06 L208.35 731.78 L208.3 732.49 L208.24 733.2 L208.2 733.91 L208.16 734.62 L208.12 735.33 L208.08 736.04 L208.04 736.76 L208.01 737.47 L207.97 738.18" fill="none" stroke="rgb(38,125,190)" stroke-width="1.45" stroke-linejoin="round" stroke-linecap="round"/>
<line x1="65.2" y1="629.5" x2="203.4" y2="629.5" stroke="#262626" stroke-width="1.8"/>
<line x1="65.2" y1="634.3" x2="65.2" y2="777.35" stroke="#262626" stroke-width="1.8"/>
<line x1="64.45" y1="776.6" x2="203.4" y2="776.6" stroke="#262626" stroke-width="1.8"/>
<line x1="65.2" y1="705.4" x2="203.4" y2="705.4" stroke="#262626" stroke-width="1.6"/>
<line x1="134.2" y1="634.3" x2="134.2" y2="776.6" stroke="#262626" stroke-width="1.6"/>
<line x1="207.8" y1="634.3" x2="207.8" y2="776.6" stroke="#262626" stroke-width="1.8"/>
<text x="43.91" y="639.55" font-family="Liberation Sans" font-size="15" text-anchor="start" fill="#222" textLength="8.34" lengthAdjust="spacingAndGlyphs">2</text>
<text x="43.73" y="710.65" font-family="Liberation Sans" font-size="15" text-anchor="start" fill="#222" textLength="8.34" lengthAdjust="spacingAndGlyphs">0</text>
<text x="35.15" y="781.85" font-family="Liberation Sans" font-size="15" text-anchor="start" fill="#222" textLength="17.1" lengthAdjust="spacingAndGlyphs">−2</text>
<text x="56.66" y="801.1" font-family="Liberation Sans" font-size="15" text-anchor="start" fill="#222" textLength="17.1" lengthAdjust="spacingAndGlyphs">−2</text>
<text x="130.02" y="801.1" font-family="Liberation Sans" font-size="15" text-anchor="start" fill="#222" textLength="8.34" lengthAdjust="spacingAndGlyphs">0</text>
<text x="199.83" y="801.1" font-family="Liberation Sans" font-size="15" text-anchor="start" fill="#222" textLength="8.34" lengthAdjust="spacingAndGlyphs">2</text>
<circle cx="143.3" cy="654.6" r="3.1" fill="rgb(22,122,195)" fill-opacity="0.75" stroke="#fff" stroke-width="0.45" stroke-opacity="0.9"/>
<circle cx="165.7" cy="661.1" r="3.1" fill="rgb(22,122,195)" fill-opacity="0.75" stroke="#fff" stroke-width="0.45" stroke-opacity="0.9"/>
<circle cx="136.8" cy="664.1" r="3.1" fill="rgb(22,122,195)" fill-opacity="0.75" stroke="#fff" stroke-width="0.45" stroke-opacity="0.9"/>
<circle cx="136.3" cy="670.8" r="3.1" fill="rgb(22,122,195)" fill-opacity="0.75" stroke="#fff" stroke-width="0.45" stroke-opacity="0.9"/>
<circle cx="140.1" cy="672.7" r="3.1" fill="rgb(22,122,195)" fill-opacity="0.75" stroke="#fff" stroke-width="0.45" stroke-opacity="0.9"/>
<circle cx="143.7" cy="673.7" r="3.1" fill="rgb(22,122,195)" fill-opacity="0.75" stroke="#fff" stroke-width="0.45" stroke-opacity="0.9"/>
<circle cx="143" cy="676.5" r="3.1" fill="rgb(22,122,195)" fill-opacity="0.75" stroke="#fff" stroke-width="0.45" stroke-opacity="0.9"/>
<circle cx="131.1" cy="674.1" r="3.1" fill="rgb(22,122,195)" fill-opacity="0.75" stroke="#fff" stroke-width="0.45" stroke-opacity="0.9"/>
<circle cx="130.8" cy="678" r="3.1" fill="rgb(22,122,195)" fill-opacity="0.75" stroke="#fff" stroke-width="0.45" stroke-opacity="0.9"/>
<circle cx="131.5" cy="680.8" r="3.1" fill="rgb(22,122,195)" fill-opacity="0.75" stroke="#fff" stroke-width="0.45" stroke-opacity="0.9"/>
<circle cx="125.5" cy="680.6" r="3.1" fill="rgb(22,122,195)" fill-opacity="0.75" stroke="#fff" stroke-width="0.45" stroke-opacity="0.9"/>
<circle cx="148.5" cy="677" r="3.1" fill="rgb(22,122,195)" fill-opacity="0.75" stroke="#fff" stroke-width="0.45" stroke-opacity="0.9"/>
<circle cx="153" cy="678.4" r="3.1" fill="rgb(22,122,195)" fill-opacity="0.75" stroke="#fff" stroke-width="0.45" stroke-opacity="0.9"/>
<circle cx="159.1" cy="676.5" r="3.1" fill="rgb(22,122,195)" fill-opacity="0.75" stroke="#fff" stroke-width="0.45" stroke-opacity="0.9"/>
<circle cx="143" cy="683" r="3.1" fill="rgb(22,122,195)" fill-opacity="0.75" stroke="#fff" stroke-width="0.45" stroke-opacity="0.9"/>
<circle cx="147.7" cy="686.1" r="3.1" fill="rgb(22,122,195)" fill-opacity="0.75" stroke="#fff" stroke-width="0.45" stroke-opacity="0.9"/>
<circle cx="143.7" cy="688.7" r="3.1" fill="rgb(22,122,195)" fill-opacity="0.75" stroke="#fff" stroke-width="0.45" stroke-opacity="0.9"/>
<circle cx="125.5" cy="687" r="3.1" fill="rgb(22,122,195)" fill-opacity="0.75" stroke="#fff" stroke-width="0.45" stroke-opacity="0.9"/>
<circle cx="133" cy="687" r="3.1" fill="rgb(22,122,195)" fill-opacity="0.75" stroke="#fff" stroke-width="0.45" stroke-opacity="0.9"/>
<circle cx="151.3" cy="690.9" r="3.1" fill="rgb(22,122,195)" fill-opacity="0.75" stroke="#fff" stroke-width="0.45" stroke-opacity="0.9"/>
<circle cx="159.1" cy="694.2" r="3.1" fill="rgb(22,122,195)" fill-opacity="0.75" stroke="#fff" stroke-width="0.45" stroke-opacity="0.9"/>
<circle cx="153" cy="698.5" r="3.1" fill="rgb(22,122,195)" fill-opacity="0.75" stroke="#fff" stroke-width="0.45" stroke-opacity="0.9"/>
<circle cx="152.8" cy="704.2" r="3.1" fill="rgb(22,122,195)" fill-opacity="0.75" stroke="#fff" stroke-width="0.45" stroke-opacity="0.9"/>
<circle cx="143.7" cy="699.9" r="3.1" fill="rgb(22,122,195)" fill-opacity="0.75" stroke="#fff" stroke-width="0.45" stroke-opacity="0.9"/>
<circle cx="123.4" cy="702" r="3.1" fill="rgb(22,122,195)" fill-opacity="0.75" stroke="#fff" stroke-width="0.45" stroke-opacity="0.9"/>
<circle cx="145.4" cy="707.4" r="3.1" fill="rgb(22,122,195)" fill-opacity="0.75" stroke="#fff" stroke-width="0.45" stroke-opacity="0.9"/>
<circle cx="149.2" cy="712.1" r="3.1" fill="rgb(22,122,195)" fill-opacity="0.75" stroke="#fff" stroke-width="0.45" stroke-opacity="0.9"/>
<circle cx="149.5" cy="716.7" r="3.1" fill="rgb(22,122,195)" fill-opacity="0.75" stroke="#fff" stroke-width="0.45" stroke-opacity="0.9"/>
<circle cx="168.8" cy="720.7" r="3.1" fill="rgb(22,122,195)" fill-opacity="0.75" stroke="#fff" stroke-width="0.45" stroke-opacity="0.9"/>
<circle cx="123.7" cy="720" r="3.1" fill="rgb(22,122,195)" fill-opacity="0.75" stroke="#fff" stroke-width="0.45" stroke-opacity="0.9"/>
<circle cx="127.2" cy="725.3" r="3.1" fill="rgb(22,122,195)" fill-opacity="0.75" stroke="#fff" stroke-width="0.45" stroke-opacity="0.9"/>
<circle cx="131.5" cy="723.8" r="3.1" fill="rgb(22,122,195)" fill-opacity="0.75" stroke="#fff" stroke-width="0.45" stroke-opacity="0.9"/>
<circle cx="136.6" cy="725.6" r="3.1" fill="rgb(22,122,195)" fill-opacity="0.75" stroke="#fff" stroke-width="0.45" stroke-opacity="0.9"/>
<circle cx="123.2" cy="731.3" r="3.1" fill="rgb(22,122,195)" fill-opacity="0.75" stroke="#fff" stroke-width="0.45" stroke-opacity="0.9"/>
<circle cx="128.2" cy="731" r="3.1" fill="rgb(22,122,195)" fill-opacity="0.75" stroke="#fff" stroke-width="0.45" stroke-opacity="0.9"/>
<circle cx="106.8" cy="732.7" r="3.1" fill="rgb(22,122,195)" fill-opacity="0.75" stroke="#fff" stroke-width="0.45" stroke-opacity="0.9"/>
<circle cx="153" cy="738.9" r="3.1" fill="rgb(22,122,195)" fill-opacity="0.75" stroke="#fff" stroke-width="0.45" stroke-opacity="0.9"/>
<circle cx="129.8" cy="752.9" r="3.1" fill="rgb(22,122,195)" fill-opacity="0.75" stroke="#fff" stroke-width="0.45" stroke-opacity="0.9"/>
<circle cx="141" cy="712" r="3.1" fill="rgb(22,122,195)" fill-opacity="0.75" stroke="#fff" stroke-width="0.45" stroke-opacity="0.9"/>
<circle cx="139" cy="718" r="3.1" fill="rgb(22,122,195)" fill-opacity="0.75" stroke="#fff" stroke-width="0.45" stroke-opacity="0.9"/>
<circle cx="127" cy="712" r="3.1" fill="rgb(22,122,195)" fill-opacity="0.75" stroke="#fff" stroke-width="0.45" stroke-opacity="0.9"/>
<circle cx="125" cy="716" r="3.1" fill="rgb(22,122,195)" fill-opacity="0.75" stroke="#fff" stroke-width="0.45" stroke-opacity="0.9"/>
<circle cx="136" cy="692" r="3.1" fill="rgb(22,122,195)" fill-opacity="0.75" stroke="#fff" stroke-width="0.45" stroke-opacity="0.9"/>
<circle cx="130.8" cy="669.4" r="3.1" fill="rgb(128,128,128)" fill-opacity="0.75" stroke="#fff" stroke-width="0.45" stroke-opacity="0.9"/>
<circle cx="121.1" cy="674.7" r="3.1" fill="rgb(128,128,128)" fill-opacity="0.75" stroke="#fff" stroke-width="0.45" stroke-opacity="0.9"/>
<circle cx="121.2" cy="680.8" r="3.1" fill="rgb(128,128,128)" fill-opacity="0.75" stroke="#fff" stroke-width="0.45" stroke-opacity="0.9"/>
<circle cx="116.2" cy="692.7" r="3.1" fill="rgb(128,128,128)" fill-opacity="0.75" stroke="#fff" stroke-width="0.45" stroke-opacity="0.9"/>
<circle cx="111" cy="724.8" r="3.1" fill="rgb(128,128,128)" fill-opacity="0.75" stroke="#fff" stroke-width="0.45" stroke-opacity="0.9"/>
<circle cx="140.4" cy="732.4" r="3.1" fill="rgb(128,128,128)" fill-opacity="0.75" stroke="#fff" stroke-width="0.45" stroke-opacity="0.9"/>
<circle cx="132" cy="739.9" r="3.1" fill="rgb(128,128,128)" fill-opacity="0.75" stroke="#fff" stroke-width="0.45" stroke-opacity="0.9"/>
<circle cx="145.4" cy="717.1" r="3.1" fill="rgb(128,128,128)" fill-opacity="0.75" stroke="#fff" stroke-width="0.45" stroke-opacity="0.9"/>
<circle cx="140.1" cy="723.1" r="3.1" fill="rgb(128,128,128)" fill-opacity="0.75" stroke="#fff" stroke-width="0.45" stroke-opacity="0.9"/>
<circle cx="125.5" cy="693" r="3.1" fill="rgb(128,128,128)" fill-opacity="0.75" stroke="#fff" stroke-width="0.45" stroke-opacity="0.9"/>
<circle cx="128" cy="690" r="3.1" fill="rgb(128,128,128)" fill-opacity="0.75" stroke="#fff" stroke-width="0.45" stroke-opacity="0.9"/>
<circle cx="126.8" cy="692.8" r="3.1" fill="rgb(128,128,128)" fill-opacity="0.75" stroke="#fff" stroke-width="0.45" stroke-opacity="0.9"/>
<circle cx="145.4" cy="717.2" r="3.1" fill="rgb(128,128,128)" fill-opacity="0.75" stroke="#fff" stroke-width="0.45" stroke-opacity="0.9"/>
<circle cx="141.4" cy="723.8" r="3.1" fill="rgb(128,128,128)" fill-opacity="0.75" stroke="#fff" stroke-width="0.45" stroke-opacity="0.9"/>
<circle cx="135.25" cy="720.27" r="3.1" fill="rgb(128,128,128)" fill-opacity="0.75" stroke="#fff" stroke-width="0.45" stroke-opacity="0.9"/>
<circle cx="128.19" cy="704.72" r="3.1" fill="rgb(128,128,128)" fill-opacity="0.75" stroke="#fff" stroke-width="0.45" stroke-opacity="0.9"/>
<circle cx="127.02" cy="704.71" r="3.1" fill="rgb(128,128,128)" fill-opacity="0.75" stroke="#fff" stroke-width="0.45" stroke-opacity="0.9"/>
<circle cx="138.87" cy="702.92" r="3.1" fill="rgb(128,128,128)" fill-opacity="0.75" stroke="#fff" stroke-width="0.45" stroke-opacity="0.9"/>
<circle cx="135.24" cy="704.3" r="3.1" fill="rgb(128,128,128)" fill-opacity="0.75" stroke="#fff" stroke-width="0.45" stroke-opacity="0.9"/>
<circle cx="131.28" cy="702.99" r="3.1" fill="rgb(128,128,128)" fill-opacity="0.75" stroke="#fff" stroke-width="0.45" stroke-opacity="0.9"/>
<circle cx="130.01" cy="703.54" r="3.1" fill="rgb(128,128,128)" fill-opacity="0.75" stroke="#fff" stroke-width="0.45" stroke-opacity="0.9"/>
<circle cx="131.05" cy="716.7" r="3.1" fill="rgb(128,128,128)" fill-opacity="0.75" stroke="#fff" stroke-width="0.45" stroke-opacity="0.9"/>
<circle cx="137.38" cy="705.81" r="3.1" fill="rgb(128,128,128)" fill-opacity="0.75" stroke="#fff" stroke-width="0.45" stroke-opacity="0.9"/>
<circle cx="126.87" cy="706.96" r="3.1" fill="rgb(128,128,128)" fill-opacity="0.75" stroke="#fff" stroke-width="0.45" stroke-opacity="0.9"/>
<circle cx="131.27" cy="719.45" r="3.1" fill="rgb(128,128,128)" fill-opacity="0.75" stroke="#fff" stroke-width="0.45" stroke-opacity="0.9"/>
<circle cx="128.83" cy="703.9" r="3.1" fill="rgb(128,128,128)" fill-opacity="0.75" stroke="#fff" stroke-width="0.45" stroke-opacity="0.9"/>
<circle cx="131.79" cy="716.43" r="3.1" fill="rgb(128,128,128)" fill-opacity="0.75" stroke="#fff" stroke-width="0.45" stroke-opacity="0.9"/>
<circle cx="138.71" cy="700.9" r="3.1" fill="rgb(128,128,128)" fill-opacity="0.75" stroke="#fff" stroke-width="0.45" stroke-opacity="0.9"/>
<circle cx="136.36" cy="718.86" r="3.1" fill="rgb(128,128,128)" fill-opacity="0.75" stroke="#fff" stroke-width="0.45" stroke-opacity="0.9"/>
<circle cx="130.81" cy="701.32" r="3.1" fill="rgb(128,128,128)" fill-opacity="0.75" stroke="#fff" stroke-width="0.45" stroke-opacity="0.9"/>
<circle cx="139.22" cy="710.98" r="3.1" fill="rgb(128,128,128)" fill-opacity="0.75" stroke="#fff" stroke-width="0.45" stroke-opacity="0.9"/>
<circle cx="129.77" cy="713.77" r="3.1" fill="rgb(128,128,128)" fill-opacity="0.75" stroke="#fff" stroke-width="0.45" stroke-opacity="0.9"/>
<circle cx="130.5" cy="701.42" r="3.1" fill="rgb(128,128,128)" fill-opacity="0.75" stroke="#fff" stroke-width="0.45" stroke-opacity="0.9"/>
<circle cx="138.66" cy="711.45" r="3.1" fill="rgb(128,128,128)" fill-opacity="0.75" stroke="#fff" stroke-width="0.45" stroke-opacity="0.9"/>
<circle cx="129.38" cy="707.01" r="3.1" fill="rgb(128,128,128)" fill-opacity="0.75" stroke="#fff" stroke-width="0.45" stroke-opacity="0.9"/>
<circle cx="131.46" cy="700.73" r="3.1" fill="rgb(128,128,128)" fill-opacity="0.75" stroke="#fff" stroke-width="0.45" stroke-opacity="0.9"/>
<circle cx="132.05" cy="707.52" r="3.1" fill="rgb(128,128,128)" fill-opacity="0.75" stroke="#fff" stroke-width="0.45" stroke-opacity="0.9"/>
<circle cx="137.11" cy="714.38" r="3.1" fill="rgb(128,128,128)" fill-opacity="0.75" stroke="#fff" stroke-width="0.45" stroke-opacity="0.9"/>
<circle cx="137.39" cy="715.34" r="3.1" fill="rgb(128,128,128)" fill-opacity="0.75" stroke="#fff" stroke-width="0.45" stroke-opacity="0.9"/>
<circle cx="134.46" cy="702.88" r="3.1" fill="rgb(128,128,128)" fill-opacity="0.75" stroke="#fff" stroke-width="0.45" stroke-opacity="0.9"/>
<circle cx="130.55" cy="703.83" r="3.1" fill="rgb(128,128,128)" fill-opacity="0.75" stroke="#fff" stroke-width="0.45" stroke-opacity="0.9"/>
<circle cx="128.88" cy="714.78" r="3.1" fill="rgb(128,128,128)" fill-opacity="0.75" stroke="#fff" stroke-width="0.45" stroke-opacity="0.9"/>
<circle cx="126.66" cy="709.17" r="3.1" fill="rgb(128,128,128)" fill-opacity="0.75" stroke="#fff" stroke-width="0.45" stroke-opacity="0.9"/>
<circle cx="129.8" cy="696.05" r="3.1" fill="rgb(128,128,128)" fill-opacity="0.75" stroke="#fff" stroke-width="0.45" stroke-opacity="0.9"/>
<circle cx="127.51" cy="707.66" r="3.1" fill="rgb(128,128,128)" fill-opacity="0.75" stroke="#fff" stroke-width="0.45" stroke-opacity="0.9"/>
<circle cx="135.85" cy="706.21" r="3.1" fill="rgb(128,128,128)" fill-opacity="0.75" stroke="#fff" stroke-width="0.45" stroke-opacity="0.9"/>
<circle cx="129.39" cy="705.37" r="3.1" fill="rgb(128,128,128)" fill-opacity="0.75" stroke="#fff" stroke-width="0.45" stroke-opacity="0.9"/>
<circle cx="134.64" cy="712.58" r="3.1" fill="rgb(128,128,128)" fill-opacity="0.75" stroke="#fff" stroke-width="0.45" stroke-opacity="0.9"/>
<circle cx="136.37" cy="717.42" r="3.1" fill="rgb(128,128,128)" fill-opacity="0.75" stroke="#fff" stroke-width="0.45" stroke-opacity="0.9"/>
<circle cx="135.24" cy="697.09" r="3.1" fill="rgb(128,128,128)" fill-opacity="0.75" stroke="#fff" stroke-width="0.45" stroke-opacity="0.9"/>
<circle cx="137.64" cy="701.93" r="3.1" fill="rgb(128,128,128)" fill-opacity="0.75" stroke="#fff" stroke-width="0.45" stroke-opacity="0.9"/>
<circle cx="133.91" cy="704.14" r="3.1" fill="rgb(128,128,128)" fill-opacity="0.75" stroke="#fff" stroke-width="0.45" stroke-opacity="0.9"/>
<circle cx="136.24" cy="699.28" r="3.1" fill="rgb(128,128,128)" fill-opacity="0.75" stroke="#fff" stroke-width="0.45" stroke-opacity="0.9"/>
<circle cx="129.57" cy="700.57" r="3.1" fill="rgb(128,128,128)" fill-opacity="0.75" stroke="#fff" stroke-width="0.45" stroke-opacity="0.9"/>
<circle cx="134.06" cy="702.84" r="3.1" fill="rgb(128,128,128)" fill-opacity="0.75" stroke="#fff" stroke-width="0.45" stroke-opacity="0.9"/>
<circle cx="133.1" cy="700.18" r="3.1" fill="rgb(128,128,128)" fill-opacity="0.75" stroke="#fff" stroke-width="0.45" stroke-opacity="0.9"/>
<circle cx="137.19" cy="711.99" r="3.1" fill="rgb(128,128,128)" fill-opacity="0.75" stroke="#fff" stroke-width="0.45" stroke-opacity="0.9"/>
<circle cx="132.66" cy="716.63" r="3.1" fill="rgb(128,128,128)" fill-opacity="0.75" stroke="#fff" stroke-width="0.45" stroke-opacity="0.9"/>
<circle cx="127.82" cy="699.01" r="3.1" fill="rgb(128,128,128)" fill-opacity="0.75" stroke="#fff" stroke-width="0.45" stroke-opacity="0.9"/>
<path d="M282.2 629.5 L282.2 629.5 L282.89 629.5 L283.58 629.5 L284.27 629.5 L284.96 629.5 L285.65 629.5 L286.34 629.5 L287.03 629.5 L287.72 629.5 L288.41 629.5 L289.1 629.5 L289.79 629.5 L290.48 629.5 L291.17 629.5 L291.86 629.5 L292.55 629.5 L293.24 629.5 L293.93 629.5 L294.62 629.5 L295.31 629.5 L296 629.5 L296.69 629.5 L297.38 629.5 L298.07 629.5 L298.76 629.5 L299.45 629.5 L300.14 629.5 L300.83 629.5 L301.52 629.5 L302.21 629.5 L302.9 629.5 L303.59 629.5 L304.28 629.5 L304.97 629.5 L305.66 629.5 L306.35 629.5 L307.04 629.5 L307.73 629.5 L308.42 629.5 L309.11 629.5 L309.8 629.5 L310.49 629.5 L311.18 629.5 L311.87 629.5 L312.56 629.5 L313.25 629.5 L313.94 629.5 L314.63 629.5 L315.32 629.5 L316.01 629.5 L316.7 629.5 L317.39 629.5 L318.08 629.5 L318.77 629.5 L319.46 629.5 L320.15 629.5 L320.84 629.5 L321.53 629.5 L322.22 629.5 L322.91 629.5 L323.6 629.5 L324.29 629.5 L324.98 629.5 L325.67 629.5 L326.36 629.5 L327.05 629.5 L327.74 629.5 L328.43 629.5 L329.12 629.5 L329.81 629.5 L330.5 629.5 L331.19 629.5 L331.88 629.5 L332.57 629.5 L333.26 629.5 L333.95 629.5 L334.64 629.5 L335.33 629.5 L336.02 629.5 L336.71 629.5 L337.4 629.5 L338.09 629.5 L338.78 629.5 L339.47 629.5 L340.16 629.5 L340.85 629.5 L341.54 629.5 L342.23 629.5 L342.92 629.44 L343.61 629.14 L344.3 628.66 L344.99 627.93 L345.68 626.61 L346.37 624.83 L347.06 622.73 L347.75 619.58 L348.44 615.48 L349.13 612.2 L349.82 609.77 L350.51 607.63 L351.2 606.35 L351.89 606.45 L352.58 607.86 L353.27 609.95 L353.96 612.21 L354.65 615.41 L355.34 618.77 L356.03 621.18 L356.72 623.12 L357.41 624.83 L358.1 626.18 L358.79 627.09 L359.48 627.66 L360.17 628.11 L360.86 628.46 L361.55 628.76 L362.24 629.04 L362.93 629.31 L363.62 629.48 L364.31 629.5 L365 629.5 L365.69 629.5 L366.38 629.5 L367.07 629.5 L367.76 629.5 L368.45 629.5 L369.14 629.5 L369.83 629.5 L370.52 629.5 L371.21 629.5 L371.9 629.5 L372.59 629.5 L373.28 629.5 L373.97 629.5 L374.66 629.5 L375.35 629.5 L376.04 629.5 L376.73 629.5 L377.42 629.5 L378.11 629.5 L378.8 629.5 L379.49 629.5 L380.18 629.5 L380.87 629.5 L381.56 629.5 L382.25 629.5 L382.94 629.5 L383.63 629.5 L384.32 629.5 L385.01 629.5 L385.7 629.5 L386.39 629.5 L387.08 629.5 L387.77 629.5 L388.46 629.5 L389.15 629.5 L389.84 629.5 L390.53 629.5 L391.22 629.5 L391.91 629.5 L392.6 629.5 L393.29 629.5 L393.98 629.5 L394.67 629.5 L395.36 629.5 L396.05 629.5 L396.74 629.5 L397.43 629.5 L398.12 629.5 L398.81 629.5 L399.5 629.5 L400.19 629.5 L400.88 629.5 L401.57 629.5 L402.26 629.5 L402.95 629.5 L403.64 629.5 L404.33 629.5 L405.02 629.5 L405.71 629.5 L406.4 629.5 L407.09 629.5 L407.78 629.5 L408.47 629.5 L409.16 629.5 L409.85 629.5 L410.54 629.5 L411.23 629.5 L411.92 629.5 L412.61 629.5 L413.3 629.5 L413.99 629.5 L414.68 629.5 L415.37 629.5 L416.06 629.5 L416.75 629.5 L417.44 629.5 L418.13 629.5 L418.82 629.5 L419.51 629.5 L420.2 629.5 L420.2 629.5 Z" fill="rgb(128,128,128)" fill-opacity="0.25" stroke="none"/>
<path d="M343.61 629.14 L344.3 628.66 L344.99 627.93 L345.68 626.61 L346.37 624.83 L347.06 622.73 L347.75 619.58 L348.44 615.48 L349.13 612.2 L349.82 609.77 L350.51 607.63 L351.2 606.35 L351.89 606.45 L352.58 607.86 L353.27 609.95 L353.96 612.21 L354.65 615.41 L355.34 618.77 L356.03 621.18 L356.72 623.12 L357.41 624.83 L358.1 626.18 L358.79 627.09 L359.48 627.66 L360.17 628.11 L360.86 628.46 L361.55 628.76 L362.24 629.04 L362.93 629.31" fill="none" stroke="rgb(125,125,125)" stroke-width="1.45" stroke-linejoin="round" stroke-linecap="round"/>
<path d="M282.2 629.5 L282.2 629.5 L282.89 629.5 L283.58 629.5 L284.27 629.5 L284.96 629.5 L285.65 629.5 L286.34 629.5 L287.03 629.5 L287.72 629.5 L288.41 629.5 L289.1 629.5 L289.79 629.5 L290.48 629.5 L291.17 629.5 L291.86 629.5 L292.55 629.5 L293.24 629.5 L293.93 629.5 L294.62 629.5 L295.31 629.5 L296 629.5 L296.69 629.5 L297.38 629.5 L298.07 629.5 L298.76 629.5 L299.45 629.5 L300.14 629.5 L300.83 629.5 L301.52 629.5 L302.21 629.5 L302.9 629.5 L303.59 629.5 L304.28 629.5 L304.97 629.5 L305.66 629.5 L306.35 629.5 L307.04 629.5 L307.73 629.5 L308.42 629.5 L309.11 629.5 L309.8 629.5 L310.49 629.5 L311.18 629.5 L311.87 629.5 L312.56 629.5 L313.25 629.5 L313.94 629.5 L314.63 629.5 L315.32 629.5 L316.01 629.5 L316.7 629.5 L317.39 629.5 L318.08 629.5 L318.77 629.5 L319.46 629.5 L320.15 629.5 L320.84 629.44 L321.53 629.36 L322.22 629.28 L322.91 629.19 L323.6 629.1 L324.29 629.03 L324.98 629 L325.67 629.01 L326.36 629.04 L327.05 629.07 L327.74 629.11 L328.43 629.15 L329.12 629.18 L329.81 629.2 L330.5 629.2 L331.19 629.18 L331.88 629.15 L332.57 629.11 L333.26 629.07 L333.95 629.01 L334.64 628.96 L335.33 628.9 L336.02 628.83 L336.71 628.74 L337.4 628.64 L338.09 628.51 L338.78 628.36 L339.47 628.18 L340.16 627.98 L340.85 627.71 L341.54 627.27 L342.23 626.68 L342.92 625.97 L343.61 625.19 L344.3 624.35 L344.99 623.38 L345.68 622.06 L346.37 620.58 L347.06 619.14 L347.75 617.94 L348.44 617.13 L349.13 616.39 L349.82 615.69 L350.51 615.08 L351.2 614.6 L351.89 614.29 L352.58 614.2 L353.27 614.41 L353.96 614.89 L354.65 615.57 L355.34 616.36 L356.03 617.18 L356.72 618.05 L357.41 619.19 L358.1 620.49 L358.79 621.81 L359.48 623 L360.17 623.95 L360.86 624.85 L361.55 625.72 L362.24 626.51 L362.93 627.15 L363.62 627.59 L364.31 627.82 L365 628.01 L365.69 628.17 L366.38 628.31 L367.07 628.43 L367.76 628.54 L368.45 628.63 L369.14 628.71 L369.83 628.78 L370.52 628.85 L371.21 628.91 L371.9 628.96 L372.59 629.01 L373.28 629.05 L373.97 629.08 L374.66 629.11 L375.35 629.14 L376.04 629.18 L376.73 629.22 L377.42 629.26 L378.11 629.31 L378.8 629.39 L379.49 629.48 L380.18 629.5 L380.87 629.5 L381.56 629.5 L382.25 629.5 L382.94 629.5 L383.63 629.5 L384.32 629.5 L385.01 629.5 L385.7 629.5 L386.39 629.5 L387.08 629.5 L387.77 629.5 L388.46 629.5 L389.15 629.5 L389.84 629.5 L390.53 629.5 L391.22 629.5 L391.91 629.5 L392.6 629.5 L393.29 629.5 L393.98 629.5 L394.67 629.5 L395.36 629.5 L396.05 629.5 L396.74 629.5 L397.43 629.5 L398.12 629.5 L398.81 629.5 L399.5 629.5 L400.19 629.5 L400.88 629.5 L401.57 629.5 L402.26 629.5 L402.95 629.5 L403.64 629.5 L404.33 629.5 L405.02 629.5 L405.71 629.5 L406.4 629.5 L407.09 629.5 L407.78 629.5 L408.47 629.5 L409.16 629.5 L409.85 629.5 L410.54 629.5 L411.23 629.5 L411.92 629.5 L412.61 629.5 L413.3 629.5 L413.99 629.5 L414.68 629.5 L415.37 629.5 L416.06 629.5 L416.75 629.5 L417.44 629.5 L418.13 629.5 L418.82 629.5 L419.51 629.5 L420.2 629.5 L420.2 629.5 Z" fill="rgb(31,119,180)" fill-opacity="0.25" stroke="none"/>
<path d="M322.22 629.28 L322.91 629.19 L323.6 629.1 L324.29 629.03 L324.98 629 L325.67 629.01 L326.36 629.04 L327.05 629.07 L327.74 629.11 L328.43 629.15 L329.12 629.18 L329.81 629.2 L330.5 629.2 L331.19 629.18 L331.88 629.15 L332.57 629.11 L333.26 629.07 L333.95 629.01 L334.64 628.96 L335.33 628.9 L336.02 628.83 L336.71 628.74 L337.4 628.64 L338.09 628.51 L338.78 628.36 L339.47 628.18 L340.16 627.98 L340.85 627.71 L341.54 627.27 L342.23 626.68 L342.92 625.97 L343.61 625.19 L344.3 624.35 L344.99 623.38 L345.68 622.06 L346.37 620.58 L347.06 619.14 L347.75 617.94 L348.44 617.13 L349.13 616.39 L349.82 615.69 L350.51 615.08 L351.2 614.6 L351.89 614.29 L352.58 614.2 L353.27 614.41 L353.96 614.89 L354.65 615.57 L355.34 616.36 L356.03 617.18 L356.72 618.05 L357.41 619.19 L358.1 620.49 L358.79 621.81 L359.48 623 L360.17 623.95 L360.86 624.85 L361.55 625.72 L362.24 626.51 L362.93 627.15 L363.62 627.59 L364.31 627.82 L365 628.01 L365.69 628.17 L366.38 628.31 L367.07 628.43 L367.76 628.54 L368.45 628.63 L369.14 628.71 L369.83 628.78 L370.52 628.85 L371.21 628.91 L371.9 628.96 L372.59 629.01 L373.28 629.05 L373.97 629.08 L374.66 629.11 L375.35 629.14 L376.04 629.18 L376.73 629.22 L377.42 629.26 L378.11 629.31" fill="none" stroke="rgb(38,125,190)" stroke-width="1.45" stroke-linejoin="round" stroke-linecap="round"/>
<path d="M424.8 634.3 L424.8 634.3 L424.8 635.01 L424.8 635.72 L424.8 636.43 L424.8 637.15 L424.8 637.86 L424.8 638.57 L424.8 639.28 L424.8 639.99 L424.8 640.7 L424.8 641.41 L424.8 642.13 L424.8 642.84 L424.8 643.55 L424.8 644.26 L424.8 644.97 L424.8 645.68 L424.8 646.4 L424.8 647.11 L424.8 647.82 L424.8 648.53 L424.8 649.24 L424.8 649.95 L424.8 650.66 L424.8 651.38 L424.8 652.09 L424.8 652.8 L424.8 653.51 L424.8 654.22 L424.8 654.93 L424.8 655.64 L424.8 656.36 L424.8 657.07 L424.8 657.78 L424.8 658.49 L424.8 659.2 L424.8 659.91 L424.8 660.63 L424.8 661.34 L424.8 662.05 L424.8 662.76 L424.8 663.47 L424.8 664.18 L424.8 664.89 L424.8 665.61 L424.8 666.32 L424.8 667.03 L424.8 667.74 L424.8 668.45 L424.8 669.16 L424.8 669.88 L424.8 670.59 L424.9 671.3 L425.17 672.01 L425.4 672.72 L425.55 673.43 L425.68 674.14 L425.78 674.86 L425.88 675.57 L425.97 676.28 L426.07 676.99 L426.17 677.7 L426.29 678.41 L426.42 679.12 L426.58 679.84 L426.78 680.55 L427.03 681.26 L427.31 681.97 L427.64 682.68 L427.99 683.39 L428.38 684.11 L428.8 684.82 L429.24 685.53 L429.69 686.24 L430.17 686.95 L430.69 687.66 L431.3 688.37 L431.97 689.09 L432.7 689.8 L433.46 690.51 L434.23 691.22 L435 691.93 L435.74 692.64 L436.45 693.35 L437.17 694.07 L437.9 694.78 L438.64 695.49 L439.37 696.2 L440.09 696.91 L440.8 697.62 L441.48 698.34 L442.14 699.05 L442.84 699.76 L443.6 700.47 L444.39 701.18 L445.17 701.89 L445.89 702.6 L446.52 703.32 L447.03 704.03 L447.37 704.74 L447.5 705.45 L447.38 706.16 L447.04 706.87 L446.52 707.58 L445.88 708.3 L445.18 709.01 L444.48 709.72 L443.67 710.43 L442.67 711.14 L441.54 711.85 L440.35 712.57 L439.16 713.28 L438.03 713.99 L437.03 714.7 L436.07 715.41 L435.12 716.12 L434.19 716.83 L433.3 717.55 L432.48 718.26 L431.72 718.97 L431.04 719.68 L430.4 720.39 L429.79 721.1 L429.21 721.81 L428.69 722.53 L428.23 723.24 L427.83 723.95 L427.49 724.66 L427.19 725.37 L426.92 726.08 L426.68 726.79 L426.45 727.51 L426.22 728.22 L425.98 728.93 L425.73 729.64 L425.44 730.35 L425.07 731.06 L424.82 731.78 L424.8 732.49 L424.8 733.2 L424.8 733.91 L424.8 734.62 L424.8 735.33 L424.8 736.04 L424.8 736.76 L424.8 737.47 L424.8 738.18 L424.8 738.89 L424.8 739.6 L424.8 740.31 L424.8 741.02 L424.8 741.74 L424.8 742.45 L424.8 743.16 L424.8 743.87 L424.8 744.58 L424.8 745.29 L424.8 746.01 L424.8 746.72 L424.8 747.43 L424.8 748.14 L424.8 748.85 L424.8 749.56 L424.8 750.27 L424.8 750.99 L424.8 751.7 L424.8 752.41 L424.8 753.12 L424.8 753.83 L424.8 754.54 L424.8 755.25 L424.8 755.97 L424.8 756.68 L424.8 757.39 L424.8 758.1 L424.8 758.81 L424.8 759.52 L424.8 760.24 L424.8 760.95 L424.8 761.66 L424.8 762.37 L424.8 763.08 L424.8 763.79 L424.8 764.5 L424.8 765.22 L424.8 765.93 L424.8 766.64 L424.8 767.35 L424.8 768.06 L424.8 768.77 L424.8 769.49 L424.8 770.2 L424.8 770.91 L424.8 771.62 L424.8 772.33 L424.8 773.04 L424.8 773.75 L424.8 774.47 L424.8 775.18 L424.8 775.89 L424.8 776.6 L424.8 776.6 Z" fill="rgb(128,128,128)" fill-opacity="0.25" stroke="none"/>
<path d="M425.17 672.01 L425.4 672.72 L425.55 673.43 L425.68 674.14 L425.78 674.86 L425.88 675.57 L425.97 676.28 L426.07 676.99 L426.17 677.7 L426.29 678.41 L426.42 679.12 L426.58 679.84 L426.78 680.55 L427.03 681.26 L427.31 681.97 L427.64 682.68 L427.99 683.39 L428.38 684.11 L428.8 684.82 L429.24 685.53 L429.69 686.24 L430.17 686.95 L430.69 687.66 L431.3 688.37 L431.97 689.09 L432.7 689.8 L433.46 690.51 L434.23 691.22 L435 691.93 L435.74 692.64 L436.45 693.35 L437.17 694.07 L437.9 694.78 L438.64 695.49 L439.37 696.2 L440.09 696.91 L440.8 697.62 L441.48 698.34 L442.14 699.05 L442.84 699.76 L443.6 700.47 L444.39 701.18 L445.17 701.89 L445.89 702.6 L446.52 703.32 L447.03 704.03 L447.37 704.74 L447.5 705.45 L447.38 706.16 L447.04 706.87 L446.52 707.58 L445.88 708.3 L445.18 709.01 L444.48 709.72 L443.67 710.43 L442.67 711.14 L441.54 711.85 L440.35 712.57 L439.16 713.28 L438.03 713.99 L437.03 714.7 L436.07 715.41 L435.12 716.12 L434.19 716.83 L433.3 717.55 L432.48 718.26 L431.72 718.97 L431.04 719.68 L430.4 720.39 L429.79 721.1 L429.21 721.81 L428.69 722.53 L428.23 723.24 L427.83 723.95 L427.49 724.66 L427.19 725.37 L426.92 726.08 L426.68 726.79 L426.45 727.51 L426.22 728.22 L425.98 728.93 L425.73 729.64 L425.44 730.35 L425.07 731.06" fill="none" stroke="rgb(125,125,125)" stroke-width="1.45" stroke-linejoin="round" stroke-linecap="round"/>
<path d="M424.8 634.3 L424.8 634.3 L424.8 635.01 L424.8 635.72 L424.8 636.43 L424.8 637.15 L424.8 637.86 L424.8 638.57 L424.8 639.28 L424.8 639.99 L424.8 640.7 L424.8 641.41 L424.8 642.13 L424.8 642.84 L424.8 643.55 L424.8 644.26 L424.8 644.97 L424.8 645.68 L424.8 646.4 L424.8 647.11 L424.8 647.82 L424.8 648.53 L424.8 649.24 L424.8 649.95 L424.8 650.66 L424.8 651.38 L424.8 652.09 L424.8 652.8 L424.8 653.51 L424.8 654.22 L424.8 654.93 L424.8 655.64 L424.8 656.36 L424.8 657.07 L424.8 657.78 L424.82 658.49 L424.91 659.2 L424.99 659.91 L425.04 660.63 L425.08 661.34 L425.11 662.05 L425.14 662.76 L425.17 663.47 L425.19 664.18 L425.22 664.89 L425.25 665.61 L425.29 666.32 L425.33 667.03 L425.39 667.74 L425.47 668.45 L425.59 669.16 L425.76 669.88 L425.95 670.59 L426.16 671.3 L426.38 672.01 L426.61 672.72 L426.84 673.43 L427.08 674.14 L427.35 674.86 L427.63 675.57 L427.93 676.28 L428.24 676.99 L428.56 677.7 L428.89 678.41 L429.22 679.12 L429.57 679.84 L429.92 680.55 L430.3 681.26 L430.69 681.97 L431.1 682.68 L431.52 683.39 L431.95 684.11 L432.39 684.82 L432.85 685.53 L433.3 686.24 L433.77 686.95 L434.24 687.66 L434.74 688.37 L435.25 689.09 L435.77 689.8 L436.3 690.51 L436.84 691.22 L437.38 691.93 L437.92 692.64 L438.46 693.35 L439 694.07 L439.54 694.78 L440.12 695.49 L440.71 696.2 L441.31 696.91 L441.9 697.62 L442.48 698.34 L443.04 699.05 L443.56 699.76 L444.03 700.47 L444.44 701.18 L444.83 701.89 L445.2 702.6 L445.46 703.32 L445.48 704.03 L445.35 704.74 L445.11 705.45 L444.77 706.16 L444.36 706.87 L443.91 707.58 L443.44 708.3 L442.89 709.01 L442.14 709.72 L441.22 710.43 L440.21 711.14 L439.18 711.85 L438.2 712.57 L437.33 713.28 L436.54 713.99 L435.76 714.7 L435 715.41 L434.26 716.12 L433.55 716.83 L432.87 717.55 L432.24 718.26 L431.65 718.97 L431.12 719.68 L430.6 720.39 L430.1 721.1 L429.61 721.81 L429.15 722.53 L428.72 723.24 L428.31 723.95 L427.94 724.66 L427.61 725.37 L427.32 726.08 L427.06 726.79 L426.83 727.51 L426.6 728.22 L426.4 728.93 L426.2 729.64 L426.02 730.35 L425.86 731.06 L425.71 731.78 L425.58 732.49 L425.46 733.2 L425.36 733.91 L425.27 734.62 L425.19 735.33 L425.12 736.04 L425.06 736.76 L425 737.47 L424.93 738.18 L424.86 738.89 L424.81 739.6 L424.8 740.31 L424.8 741.02 L424.8 741.74 L424.8 742.45 L424.8 743.16 L424.8 743.87 L424.8 744.58 L424.8 745.29 L424.8 746.01 L424.8 746.72 L424.8 747.43 L424.8 748.14 L424.8 748.85 L424.8 749.56 L424.8 750.27 L424.8 750.99 L424.8 751.7 L424.8 752.41 L424.8 753.12 L424.8 753.83 L424.8 754.54 L424.8 755.25 L424.8 755.97 L424.8 756.68 L424.8 757.39 L424.8 758.1 L424.8 758.81 L424.8 759.52 L424.8 760.24 L424.8 760.95 L424.8 761.66 L424.8 762.37 L424.8 763.08 L424.8 763.79 L424.8 764.5 L424.8 765.22 L424.8 765.93 L424.8 766.64 L424.8 767.35 L424.8 768.06 L424.8 768.77 L424.8 769.49 L424.8 770.2 L424.8 770.91 L424.8 771.62 L424.8 772.33 L424.8 773.04 L424.8 773.75 L424.8 774.47 L424.8 775.18 L424.8 775.89 L424.8 776.6 L424.8 776.6 Z" fill="rgb(31,119,180)" fill-opacity="0.25" stroke="none"/>
<path d="M424.99 659.91 L425.04 660.63 L425.08 661.34 L425.11 662.05 L425.14 662.76 L425.17 663.47 L425.19 664.18 L425.22 664.89 L425.25 665.61 L425.29 666.32 L425.33 667.03 L425.39 667.74 L425.47 668.45 L425.59 669.16 L425.76 669.88 L425.95 670.59 L426.16 671.3 L426.38 672.01 L426.61 672.72 L426.84 673.43 L427.08 674.14 L427.35 674.86 L427.63 675.57 L427.93 676.28 L428.24 676.99 L428.56 677.7 L428.89 678.41 L429.22 679.12 L429.57 679.84 L429.92 680.55 L430.3 681.26 L430.69 681.97 L431.1 682.68 L431.52 683.39 L431.95 684.11 L432.39 684.82 L432.85 685.53 L433.3 686.24 L433.77 686.95 L434.24 687.66 L434.74 688.37 L435.25 689.09 L435.77 689.8 L436.3 690.51 L436.84 691.22 L437.38 691.93 L437.92 692.64 L438.46 693.35 L439 694.07 L439.54 694.78 L440.12 695.49 L440.71 696.2 L441.31 696.91 L441.9 697.62 L442.48 698.34 L443.04 699.05 L443.56 699.76 L444.03 700.47 L444.44 701.18 L444.83 701.89 L445.2 702.6 L445.46 703.32 L445.48 704.03 L445.35 704.74 L445.11 705.45 L444.77 706.16 L444.36 706.87 L443.91 707.58 L443.44 708.3 L442.89 709.01 L442.14 709.72 L441.22 710.43 L440.21 711.14 L439.18 711.85 L438.2 712.57 L437.33 713.28 L436.54 713.99 L435.76 714.7 L435 715.41 L434.26 716.12 L433.55 716.83 L432.87 717.55 L432.24 718.26 L431.65 718.97 L431.12 719.68 L430.6 720.39 L430.1 721.1 L429.61 721.81 L429.15 722.53 L428.72 723.24 L428.31 723.95 L427.94 724.66 L427.61 725.37 L427.32 726.08 L427.06 726.79 L426.83 727.51 L426.6 728.22 L426.4 728.93 L426.2 729.64 L426.02 730.35 L425.86 731.06 L425.71 731.78 L425.58 732.49 L425.46 733.2 L425.36 733.91 L425.27 734.62 L425.19 735.33 L425.12 736.04 L425.06 736.76 L425 737.47" fill="none" stroke="rgb(38,125,190)" stroke-width="1.45" stroke-linejoin="round" stroke-linecap="round"/>
<line x1="282.2" y1="629.5" x2="420.2" y2="629.5" stroke="#262626" stroke-width="1.8"/>
<line x1="282.2" y1="634.3" x2="282.2" y2="777.35" stroke="#262626" stroke-width="1.8"/>
<line x1="281.45" y1="776.6" x2="420.2" y2="776.6" stroke="#262626" stroke-width="1.8"/>
<line x1="282.2" y1="705.4" x2="420.2" y2="705.4" stroke="#262626" stroke-width="1.6"/>
<line x1="351" y1="634.3" x2="351" y2="776.6" stroke="#262626" stroke-width="1.6"/>
<line x1="424.8" y1="634.3" x2="424.8" y2="776.6" stroke="#262626" stroke-width="1.8"/>
<text x="260.91" y="639.55" font-family="Liberation Sans" font-size="15" text-anchor="start" fill="#222" textLength="8.34" lengthAdjust="spacingAndGlyphs">2</text>
<text x="260.73" y="710.65" font-family="Liberation Sans" font-size="15" text-anchor="start" fill="#222" textLength="8.34" lengthAdjust="spacingAndGlyphs">0</text>
<text x="252.15" y="781.85" font-family="Liberation Sans" font-size="15" text-anchor="start" fill="#222" textLength="17.1" lengthAdjust="spacingAndGlyphs">−2</text>
<text x="273.66" y="801.1" font-family="Liberation Sans" font-size="15" text-anchor="start" fill="#222" textLength="17.1" lengthAdjust="spacingAndGlyphs">−2</text>
<text x="346.82" y="801.1" font-family="Liberation Sans" font-size="15" text-anchor="start" fill="#222" textLength="8.34" lengthAdjust="spacingAndGlyphs">0</text>
<text x="416.63" y="801.1" font-family="Liberation Sans" font-size="15" text-anchor="start" fill="#222" textLength="8.34" lengthAdjust="spacingAndGlyphs">2</text>
<circle cx="341.7" cy="647" r="3.1" fill="rgb(22,122,195)" fill-opacity="0.75" stroke="#fff" stroke-width="0.45" stroke-opacity="0.9"/>
<circle cx="359.6" cy="656" r="3.1" fill="rgb(22,122,195)" fill-opacity="0.75" stroke="#fff" stroke-width="0.45" stroke-opacity="0.9"/>
<circle cx="344.6" cy="667.5" r="3.1" fill="rgb(22,122,195)" fill-opacity="0.75" stroke="#fff" stroke-width="0.45" stroke-opacity="0.9"/>
<circle cx="334.6" cy="674.2" r="3.1" fill="rgb(22,122,195)" fill-opacity="0.75" stroke="#fff" stroke-width="0.45" stroke-opacity="0.9"/>
<circle cx="353.4" cy="673.4" r="3.1" fill="rgb(22,122,195)" fill-opacity="0.75" stroke="#fff" stroke-width="0.45" stroke-opacity="0.9"/>
<circle cx="355.1" cy="675" r="3.1" fill="rgb(22,122,195)" fill-opacity="0.75" stroke="#fff" stroke-width="0.45" stroke-opacity="0.9"/>
<circle cx="350.1" cy="676.7" r="3.1" fill="rgb(22,122,195)" fill-opacity="0.75" stroke="#fff" stroke-width="0.45" stroke-opacity="0.9"/>
<circle cx="351.3" cy="678.4" r="3.1" fill="rgb(22,122,195)" fill-opacity="0.75" stroke="#fff" stroke-width="0.45" stroke-opacity="0.9"/>
<circle cx="360.5" cy="677.1" r="3.1" fill="rgb(22,122,195)" fill-opacity="0.75" stroke="#fff" stroke-width="0.45" stroke-opacity="0.9"/>
<circle cx="362.2" cy="679.6" r="3.1" fill="rgb(22,122,195)" fill-opacity="0.75" stroke="#fff" stroke-width="0.45" stroke-opacity="0.9"/>
<circle cx="362.6" cy="683.4" r="3.1" fill="rgb(22,122,195)" fill-opacity="0.75" stroke="#fff" stroke-width="0.45" stroke-opacity="0.9"/>
<circle cx="364.3" cy="684.6" r="3.1" fill="rgb(22,122,195)" fill-opacity="0.75" stroke="#fff" stroke-width="0.45" stroke-opacity="0.9"/>
<circle cx="375.6" cy="682.1" r="3.1" fill="rgb(22,122,195)" fill-opacity="0.75" stroke="#fff" stroke-width="0.45" stroke-opacity="0.9"/>
<circle cx="344.6" cy="679.6" r="3.1" fill="rgb(22,122,195)" fill-opacity="0.75" stroke="#fff" stroke-width="0.45" stroke-opacity="0.9"/>
<circle cx="355.1" cy="683" r="3.1" fill="rgb(22,122,195)" fill-opacity="0.75" stroke="#fff" stroke-width="0.45" stroke-opacity="0.9"/>
<circle cx="357.6" cy="684.2" r="3.1" fill="rgb(22,122,195)" fill-opacity="0.75" stroke="#fff" stroke-width="0.45" stroke-opacity="0.9"/>
<circle cx="367.6" cy="690.9" r="3.1" fill="rgb(22,122,195)" fill-opacity="0.75" stroke="#fff" stroke-width="0.45" stroke-opacity="0.9"/>
<circle cx="337.9" cy="695.9" r="3.1" fill="rgb(22,122,195)" fill-opacity="0.75" stroke="#fff" stroke-width="0.45" stroke-opacity="0.9"/>
<circle cx="345.5" cy="693.4" r="3.1" fill="rgb(22,122,195)" fill-opacity="0.75" stroke="#fff" stroke-width="0.45" stroke-opacity="0.9"/>
<circle cx="355.9" cy="693.4" r="3.1" fill="rgb(22,122,195)" fill-opacity="0.75" stroke="#fff" stroke-width="0.45" stroke-opacity="0.9"/>
<circle cx="356.8" cy="695.1" r="3.1" fill="rgb(22,122,195)" fill-opacity="0.75" stroke="#fff" stroke-width="0.45" stroke-opacity="0.9"/>
<circle cx="370.1" cy="698.9" r="3.1" fill="rgb(22,122,195)" fill-opacity="0.75" stroke="#fff" stroke-width="0.45" stroke-opacity="0.9"/>
<circle cx="360.9" cy="702.6" r="3.1" fill="rgb(22,122,195)" fill-opacity="0.75" stroke="#fff" stroke-width="0.45" stroke-opacity="0.9"/>
<circle cx="340.9" cy="708.9" r="3.1" fill="rgb(22,122,195)" fill-opacity="0.75" stroke="#fff" stroke-width="0.45" stroke-opacity="0.9"/>
<circle cx="344.6" cy="721.9" r="3.1" fill="rgb(22,122,195)" fill-opacity="0.75" stroke="#fff" stroke-width="0.45" stroke-opacity="0.9"/>
<circle cx="357.6" cy="722.7" r="3.1" fill="rgb(22,122,195)" fill-opacity="0.75" stroke="#fff" stroke-width="0.45" stroke-opacity="0.9"/>
<circle cx="361.8" cy="725.2" r="3.1" fill="rgb(22,122,195)" fill-opacity="0.75" stroke="#fff" stroke-width="0.45" stroke-opacity="0.9"/>
<circle cx="367.2" cy="722.3" r="3.1" fill="rgb(22,122,195)" fill-opacity="0.75" stroke="#fff" stroke-width="0.45" stroke-opacity="0.9"/>
<circle cx="359.7" cy="732.3" r="3.1" fill="rgb(22,122,195)" fill-opacity="0.75" stroke="#fff" stroke-width="0.45" stroke-opacity="0.9"/>
<circle cx="351.7" cy="729.8" r="3.1" fill="rgb(22,122,195)" fill-opacity="0.75" stroke="#fff" stroke-width="0.45" stroke-opacity="0.9"/>
<circle cx="411.6" cy="729.8" r="3.1" fill="rgb(22,122,195)" fill-opacity="0.75" stroke="#fff" stroke-width="0.45" stroke-opacity="0.9"/>
<circle cx="371.8" cy="741.6" r="3.1" fill="rgb(22,122,195)" fill-opacity="0.75" stroke="#fff" stroke-width="0.45" stroke-opacity="0.9"/>
<circle cx="341.7" cy="773" r="3.1" fill="rgb(22,122,195)" fill-opacity="0.75" stroke="#fff" stroke-width="0.45" stroke-opacity="0.9"/>
<circle cx="348" cy="700" r="3.1" fill="rgb(22,122,195)" fill-opacity="0.75" stroke="#fff" stroke-width="0.45" stroke-opacity="0.9"/>
<circle cx="358" cy="710" r="3.1" fill="rgb(22,122,195)" fill-opacity="0.75" stroke="#fff" stroke-width="0.45" stroke-opacity="0.9"/>
<circle cx="346" cy="712" r="3.1" fill="rgb(22,122,195)" fill-opacity="0.75" stroke="#fff" stroke-width="0.45" stroke-opacity="0.9"/>
<circle cx="353" cy="688" r="3.1" fill="rgb(22,122,195)" fill-opacity="0.75" stroke="#fff" stroke-width="0.45" stroke-opacity="0.9"/>
<circle cx="359" cy="690" r="3.1" fill="rgb(22,122,195)" fill-opacity="0.75" stroke="#fff" stroke-width="0.45" stroke-opacity="0.9"/>
<circle cx="360.2" cy="651.1" r="3.1" fill="rgb(128,128,128)" fill-opacity="0.75" stroke="#fff" stroke-width="0.45" stroke-opacity="0.9"/>
<circle cx="325.2" cy="656.3" r="3.1" fill="rgb(128,128,128)" fill-opacity="0.75" stroke="#fff" stroke-width="0.45" stroke-opacity="0.9"/>
<circle cx="332.9" cy="660.5" r="3.1" fill="rgb(128,128,128)" fill-opacity="0.75" stroke="#fff" stroke-width="0.45" stroke-opacity="0.9"/>
<circle cx="347.6" cy="663.1" r="3.1" fill="rgb(128,128,128)" fill-opacity="0.75" stroke="#fff" stroke-width="0.45" stroke-opacity="0.9"/>
<circle cx="343" cy="673.4" r="3.1" fill="rgb(128,128,128)" fill-opacity="0.75" stroke="#fff" stroke-width="0.45" stroke-opacity="0.9"/>
<circle cx="358.8" cy="671.3" r="3.1" fill="rgb(128,128,128)" fill-opacity="0.75" stroke="#fff" stroke-width="0.45" stroke-opacity="0.9"/>
<circle cx="345.9" cy="684.6" r="3.1" fill="rgb(128,128,128)" fill-opacity="0.75" stroke="#fff" stroke-width="0.45" stroke-opacity="0.9"/>
<circle cx="349.2" cy="687.2" r="3.1" fill="rgb(128,128,128)" fill-opacity="0.75" stroke="#fff" stroke-width="0.45" stroke-opacity="0.9"/>
<circle cx="356.8" cy="687.2" r="3.1" fill="rgb(128,128,128)" fill-opacity="0.75" stroke="#fff" stroke-width="0.45" stroke-opacity="0.9"/>
<circle cx="350.1" cy="690.5" r="3.1" fill="rgb(128,128,128)" fill-opacity="0.75" stroke="#fff" stroke-width="0.45" stroke-opacity="0.9"/>
<circle cx="361.4" cy="695.5" r="3.1" fill="rgb(128,128,128)" fill-opacity="0.75" stroke="#fff" stroke-width="0.45" stroke-opacity="0.9"/>
<circle cx="364.7" cy="698" r="3.1" fill="rgb(128,128,128)" fill-opacity="0.75" stroke="#fff" stroke-width="0.45" stroke-opacity="0.9"/>
<circle cx="341.7" cy="702.2" r="3.1" fill="rgb(128,128,128)" fill-opacity="0.75" stroke="#fff" stroke-width="0.45" stroke-opacity="0.9"/>
<circle cx="342.1" cy="716.4" r="3.1" fill="rgb(128,128,128)" fill-opacity="0.75" stroke="#fff" stroke-width="0.45" stroke-opacity="0.9"/>
<circle cx="359.3" cy="714.3" r="3.1" fill="rgb(128,128,128)" fill-opacity="0.75" stroke="#fff" stroke-width="0.45" stroke-opacity="0.9"/>
<circle cx="360.1" cy="718.9" r="3.1" fill="rgb(128,128,128)" fill-opacity="0.75" stroke="#fff" stroke-width="0.45" stroke-opacity="0.9"/>
<circle cx="347.6" cy="729.8" r="3.1" fill="rgb(128,128,128)" fill-opacity="0.75" stroke="#fff" stroke-width="0.45" stroke-opacity="0.9"/>
<circle cx="354.2" cy="725.6" r="3.1" fill="rgb(128,128,128)" fill-opacity="0.75" stroke="#fff" stroke-width="0.45" stroke-opacity="0.9"/>
<circle cx="351.3" cy="719.8" r="3.1" fill="rgb(128,128,128)" fill-opacity="0.75" stroke="#fff" stroke-width="0.45" stroke-opacity="0.9"/>
<circle cx="351.7" cy="743.2" r="3.1" fill="rgb(128,128,128)" fill-opacity="0.75" stroke="#fff" stroke-width="0.45" stroke-opacity="0.9"/>
<circle cx="349.8" cy="747.9" r="3.1" fill="rgb(128,128,128)" fill-opacity="0.75" stroke="#fff" stroke-width="0.45" stroke-opacity="0.9"/>
<circle cx="357.05" cy="712.46" r="3.1" fill="rgb(128,128,128)" fill-opacity="0.75" stroke="#fff" stroke-width="0.45" stroke-opacity="0.9"/>
<circle cx="356.57" cy="707.48" r="3.1" fill="rgb(128,128,128)" fill-opacity="0.75" stroke="#fff" stroke-width="0.45" stroke-opacity="0.9"/>
<circle cx="355.85" cy="709.3" r="3.1" fill="rgb(128,128,128)" fill-opacity="0.75" stroke="#fff" stroke-width="0.45" stroke-opacity="0.9"/>
<circle cx="349.06" cy="717.06" r="3.1" fill="rgb(128,128,128)" fill-opacity="0.75" stroke="#fff" stroke-width="0.45" stroke-opacity="0.9"/>
<circle cx="352.83" cy="713.33" r="3.1" fill="rgb(128,128,128)" fill-opacity="0.75" stroke="#fff" stroke-width="0.45" stroke-opacity="0.9"/>
<circle cx="348.59" cy="707.4" r="3.1" fill="rgb(128,128,128)" fill-opacity="0.75" stroke="#fff" stroke-width="0.45" stroke-opacity="0.9"/>
<circle cx="347.73" cy="703.51" r="3.1" fill="rgb(128,128,128)" fill-opacity="0.75" stroke="#fff" stroke-width="0.45" stroke-opacity="0.9"/>
<circle cx="349.01" cy="712.85" r="3.1" fill="rgb(128,128,128)" fill-opacity="0.75" stroke="#fff" stroke-width="0.45" stroke-opacity="0.9"/>
<circle cx="353.45" cy="703.5" r="3.1" fill="rgb(128,128,128)" fill-opacity="0.75" stroke="#fff" stroke-width="0.45" stroke-opacity="0.9"/>
<circle cx="353.75" cy="703.07" r="3.1" fill="rgb(128,128,128)" fill-opacity="0.75" stroke="#fff" stroke-width="0.45" stroke-opacity="0.9"/>
<circle cx="349.65" cy="703.5" r="3.1" fill="rgb(128,128,128)" fill-opacity="0.75" stroke="#fff" stroke-width="0.45" stroke-opacity="0.9"/>
<circle cx="355.06" cy="711.63" r="3.1" fill="rgb(128,128,128)" fill-opacity="0.75" stroke="#fff" stroke-width="0.45" stroke-opacity="0.9"/>
<circle cx="350.58" cy="711.68" r="3.1" fill="rgb(128,128,128)" fill-opacity="0.75" stroke="#fff" stroke-width="0.45" stroke-opacity="0.9"/>
<circle cx="353.31" cy="700.85" r="3.1" fill="rgb(128,128,128)" fill-opacity="0.75" stroke="#fff" stroke-width="0.45" stroke-opacity="0.9"/>
<circle cx="347.98" cy="715.11" r="3.1" fill="rgb(128,128,128)" fill-opacity="0.75" stroke="#fff" stroke-width="0.45" stroke-opacity="0.9"/>
<circle cx="350.74" cy="705.39" r="3.1" fill="rgb(128,128,128)" fill-opacity="0.75" stroke="#fff" stroke-width="0.45" stroke-opacity="0.9"/>
<circle cx="349.6" cy="721.2" r="3.1" fill="rgb(128,128,128)" fill-opacity="0.75" stroke="#fff" stroke-width="0.45" stroke-opacity="0.9"/>
<circle cx="349.65" cy="712.07" r="3.1" fill="rgb(128,128,128)" fill-opacity="0.75" stroke="#fff" stroke-width="0.45" stroke-opacity="0.9"/>
<circle cx="350.15" cy="708.53" r="3.1" fill="rgb(128,128,128)" fill-opacity="0.75" stroke="#fff" stroke-width="0.45" stroke-opacity="0.9"/>
<circle cx="350.22" cy="703.35" r="3.1" fill="rgb(128,128,128)" fill-opacity="0.75" stroke="#fff" stroke-width="0.45" stroke-opacity="0.9"/>
<circle cx="354.3" cy="703.51" r="3.1" fill="rgb(128,128,128)" fill-opacity="0.75" stroke="#fff" stroke-width="0.45" stroke-opacity="0.9"/>
<circle cx="350.9" cy="718.06" r="3.1" fill="rgb(128,128,128)" fill-opacity="0.75" stroke="#fff" stroke-width="0.45" stroke-opacity="0.9"/>
<circle cx="350.7" cy="719.53" r="3.1" fill="rgb(128,128,128)" fill-opacity="0.75" stroke="#fff" stroke-width="0.45" stroke-opacity="0.9"/>
<circle cx="351.31" cy="702.54" r="3.1" fill="rgb(128,128,128)" fill-opacity="0.75" stroke="#fff" stroke-width="0.45" stroke-opacity="0.9"/>
<circle cx="346.32" cy="711.72" r="3.1" fill="rgb(128,128,128)" fill-opacity="0.75" stroke="#fff" stroke-width="0.45" stroke-opacity="0.9"/>
<circle cx="353.33" cy="720.17" r="3.1" fill="rgb(128,128,128)" fill-opacity="0.75" stroke="#fff" stroke-width="0.45" stroke-opacity="0.9"/>
<circle cx="347.15" cy="713.38" r="3.1" fill="rgb(128,128,128)" fill-opacity="0.75" stroke="#fff" stroke-width="0.45" stroke-opacity="0.9"/>
<circle cx="350.3" cy="710.61" r="3.1" fill="rgb(128,128,128)" fill-opacity="0.75" stroke="#fff" stroke-width="0.45" stroke-opacity="0.9"/>
<circle cx="347.78" cy="705.39" r="3.1" fill="rgb(128,128,128)" fill-opacity="0.75" stroke="#fff" stroke-width="0.45" stroke-opacity="0.9"/>
<circle cx="351.99" cy="720.54" r="3.1" fill="rgb(128,128,128)" fill-opacity="0.75" stroke="#fff" stroke-width="0.45" stroke-opacity="0.9"/>
<circle cx="347.37" cy="710.28" r="3.1" fill="rgb(128,128,128)" fill-opacity="0.75" stroke="#fff" stroke-width="0.45" stroke-opacity="0.9"/>
<circle cx="348.36" cy="701.69" r="3.1" fill="rgb(128,128,128)" fill-opacity="0.75" stroke="#fff" stroke-width="0.45" stroke-opacity="0.9"/>
<circle cx="351.56" cy="699.96" r="3.1" fill="rgb(128,128,128)" fill-opacity="0.75" stroke="#fff" stroke-width="0.45" stroke-opacity="0.9"/>
<circle cx="356.52" cy="707.85" r="3.1" fill="rgb(128,128,128)" fill-opacity="0.75" stroke="#fff" stroke-width="0.45" stroke-opacity="0.9"/>
<circle cx="356.28" cy="713.34" r="3.1" fill="rgb(128,128,128)" fill-opacity="0.75" stroke="#fff" stroke-width="0.45" stroke-opacity="0.9"/>
<circle cx="355.39" cy="702.48" r="3.1" fill="rgb(128,128,128)" fill-opacity="0.75" stroke="#fff" stroke-width="0.45" stroke-opacity="0.9"/>
<circle cx="354.95" cy="703.94" r="3.1" fill="rgb(128,128,128)" fill-opacity="0.75" stroke="#fff" stroke-width="0.45" stroke-opacity="0.9"/>
<circle cx="350.68" cy="718.67" r="3.1" fill="rgb(128,128,128)" fill-opacity="0.75" stroke="#fff" stroke-width="0.45" stroke-opacity="0.9"/>
<text x="14.76" y="12" font-family="Liberation Sans" font-size="18" text-anchor="start" fill="#111" textLength="16.97" lengthAdjust="spacingAndGlyphs">A.</text>
<text x="470.62" y="14" font-family="Liberation Sans" font-size="18" text-anchor="start" fill="#111" textLength="15.91" lengthAdjust="spacingAndGlyphs">B.</text>
<text x="16.22" y="260.3" font-family="Liberation Sans" font-size="18" text-anchor="start" fill="#111" textLength="15.6" lengthAdjust="spacingAndGlyphs">C.</text>
<text x="468.53" y="260.9" font-family="Liberation Sans" font-size="18" text-anchor="start" fill="#111" textLength="16.69" lengthAdjust="spacingAndGlyphs">D.</text>
<text x="69.56" y="13.8" font-family="Liberation Sans" font-size="17" text-anchor="start" fill="#111" textLength="123.35" lengthAdjust="spacingAndGlyphs">Non-match A 1</text>
<text x="195.36" y="8.5" font-family="Liberation Sans" font-size="12" text-anchor="start" fill="#111" textLength="9.83" lengthAdjust="spacingAndGlyphs">st</text>
<text x="276.33" y="13.7" font-family="Liberation Sans" font-size="17" text-anchor="start" fill="#111" textLength="144.6" lengthAdjust="spacingAndGlyphs">Non-match A last</text>
<text x="521.91" y="13.7" font-family="Liberation Sans" font-size="17" text-anchor="start" fill="#111" textLength="111.73" lengthAdjust="spacingAndGlyphs">Non-match A</text>
<text x="90.19" y="258.8" font-family="Liberation Sans" font-size="17" text-anchor="start" fill="#111" textLength="84.4" lengthAdjust="spacingAndGlyphs">Cue-id A 1</text>
<text x="176.84" y="253.6" font-family="Liberation Sans" font-size="12" text-anchor="start" fill="#111" textLength="10.35" lengthAdjust="spacingAndGlyphs">st</text>
<text x="300.15" y="258.7" font-family="Liberation Sans" font-size="17" text-anchor="start" fill="#111" textLength="106.59" lengthAdjust="spacingAndGlyphs">Cue-id A last</text>
<text x="528.96" y="259.7" font-family="Liberation Sans" font-size="17" text-anchor="start" fill="#111" textLength="72.09" lengthAdjust="spacingAndGlyphs">Cue-id A</text>
<text x="88.4" y="580" font-family="Liberation Sans" font-size="17" text-anchor="start" fill="#111" textLength="85.08" lengthAdjust="spacingAndGlyphs">Cue-id B 1</text>
<text x="175.54" y="574.5" font-family="Liberation Sans" font-size="12" text-anchor="start" fill="#111" textLength="10.25" lengthAdjust="spacingAndGlyphs">st</text>
<text x="300.16" y="579.3" font-family="Liberation Sans" font-size="17" text-anchor="start" fill="#111" textLength="107.06" lengthAdjust="spacingAndGlyphs">Cue-id B last</text>
<text x="533.96" y="580" font-family="Liberation Sans" font-size="17" text-anchor="start" fill="#111" textLength="73.01" lengthAdjust="spacingAndGlyphs">Cue-id B</text>
<text x="11.4" y="166.24" font-family="Liberation Sans" font-size="16" fill="#111" textLength="63.12" lengthAdjust="spacingAndGlyphs" transform="rotate(-90 11.4 166.24)">Δ z score</text>
<text x="31.9" y="175.82" font-family="Liberation Sans" font-size="16" fill="#111" textLength="79.84" lengthAdjust="spacingAndGlyphs" transform="rotate(-90 31.9 175.82)">Cue-id rule</text>
<text x="12.4" y="442.65" font-family="Liberation Sans" font-size="16" fill="#111" textLength="63.32" lengthAdjust="spacingAndGlyphs" transform="rotate(-90 12.4 442.65)">Δ z score</text>
<text x="32.5" y="451.62" font-family="Liberation Sans" font-size="16" fill="#111" textLength="79.84" lengthAdjust="spacingAndGlyphs" transform="rotate(-90 32.5 451.62)">Cue-id rule</text>
<text x="12.8" y="734.45" font-family="Liberation Sans" font-size="16" fill="#111" textLength="64.13" lengthAdjust="spacingAndGlyphs" transform="rotate(-90 12.8 734.45)">Δ z score</text>
<text x="32.8" y="742.62" font-family="Liberation Sans" font-size="16" fill="#111" textLength="79.94" lengthAdjust="spacingAndGlyphs" transform="rotate(-90 32.8 742.62)">Cue-id rule</text>
<text x="106.24" y="816.8" font-family="Liberation Serif" font-size="14" text-anchor="start" fill="#111" textLength="63.35" lengthAdjust="spacingAndGlyphs" class="s">Δ z score</text>
<text x="80.93" y="837.6" font-family="Liberation Sans" font-size="16.5" text-anchor="start" fill="#111" textLength="113.8" lengthAdjust="spacingAndGlyphs">Non-match rule</text>
<text x="315.04" y="816.8" font-family="Liberation Serif" font-size="14" text-anchor="start" fill="#111" textLength="63.24" lengthAdjust="spacingAndGlyphs" class="s">Δ z score</text>
<text x="290.04" y="837.6" font-family="Liberation Sans" font-size="16.5" text-anchor="start" fill="#111" textLength="113.39" lengthAdjust="spacingAndGlyphs">Non-match rule</text>
<path d="M144.2 305.05L144.2 302.45M144.2 305.05L146.67 304.25M144.2 305.05L145.73 307.15M144.2 305.05L142.67 307.15M144.2 305.05L141.73 304.25" stroke="#111" stroke-width="1.3" stroke-linecap="round" fill="none"/>
<path d="M151.8 305.05L151.8 302.45M151.8 305.05L154.27 304.25M151.8 305.05L153.33 307.15M151.8 305.05L150.27 307.15M151.8 305.05L149.33 304.25" stroke="#111" stroke-width="1.3" stroke-linecap="round" fill="none"/>
<path d="M361.95 304.65L361.95 302.05M361.95 304.65L364.42 303.85M361.95 304.65L363.48 306.75M361.95 304.65L360.42 306.75M361.95 304.65L359.48 303.85" stroke="#111" stroke-width="1.3" stroke-linecap="round" fill="none"/>
<path d="M147.9 595.25L147.9 592.65M147.9 595.25L150.37 594.45M147.9 595.25L149.43 597.35M147.9 595.25L146.37 597.35M147.9 595.25L145.43 594.45" stroke="#111" stroke-width="1.3" stroke-linecap="round" fill="none"/>
<path d="M360 595.25L360 592.65M360 595.25L362.47 594.45M360 595.25L361.53 597.35M360 595.25L358.47 597.35M360 595.25L357.53 594.45" stroke="#111" stroke-width="1.3" stroke-linecap="round" fill="none"/>
<path d="M439.6 727.25L439.6 724.65M439.6 727.25L442.07 726.45M439.6 727.25L441.13 729.35M439.6 727.25L438.07 729.35M439.6 727.25L437.13 726.45" stroke="#111" stroke-width="1.3" stroke-linecap="round" fill="none"/>
<text x="216.91" y="442.6" font-family="Liberation Sans" font-size="16" text-anchor="start" fill="#111" textLength="17.38" lengthAdjust="spacingAndGlyphs">ns</text>
<text x="431.89" y="442.2" font-family="Liberation Sans" font-size="16" text-anchor="start" fill="#111" textLength="17.71" lengthAdjust="spacingAndGlyphs">ns</text>
<text x="218.32" y="728.7" font-family="Liberation Sans" font-size="16" text-anchor="start" fill="#111" textLength="17.27" lengthAdjust="spacingAndGlyphs">ns</text>
<circle cx="189.9" cy="286.8" r="4.3" fill="rgb(31,125,195)"/>
<circle cx="189.9" cy="306.8" r="4.3" fill="rgb(170,170,170)"/>
<text x="197.5" y="291.4" font-family="Liberation Sans" font-size="13.4" text-anchor="start" fill="#111" textLength="125.35" lengthAdjust="spacingAndGlyphs" class="c">Rule-switching group</text>
<text x="197.93" y="311.1" font-family="Liberation Sans" font-size="13.4" text-anchor="start" fill="#111" textLength="81.63" lengthAdjust="spacingAndGlyphs" class="c">Control group</text>
<line x1="525.8" y1="49.5" x2="525.8" y2="200.3" stroke="#333" stroke-width="1.3"/>
<line x1="525.8" y1="125.3" x2="640.7" y2="125.3" stroke="#8a8a8a" stroke-width="0.9"/>
<text x="498.61" y="55.1" font-family="Liberation Sans" font-size="12.6" text-anchor="start" fill="#111" textLength="14.59" lengthAdjust="spacingAndGlyphs" class="c">40</text>
<text x="504.48" y="129.1" font-family="Liberation Sans" font-size="12.6" text-anchor="start" fill="#111" textLength="8.82" lengthAdjust="spacingAndGlyphs" class="c">0</text>
<text x="499.32" y="204.4" font-family="Liberation Sans" font-size="12.6" text-anchor="start" fill="#111" textLength="14.38" lengthAdjust="spacingAndGlyphs" class="c">40</text>
<text x="484.5" y="225.2" font-family="Liberation Sans" font-size="16" fill="#111" textLength="193.17" lengthAdjust="spacingAndGlyphs" transform="rotate(-90 484.5 225.2)" class="c">Rule selective neurons  (%)</text>
<text x="524.35" y="233.6" font-family="Liberation Sans" font-size="15.2" text-anchor="start" fill="#111" textLength="122.42" lengthAdjust="spacingAndGlyphs" class="c">Training sessions</text>
<rect x="529.1" y="116" width="12.5" height="9.3" fill="rgb(30,125,192)" stroke="#000" stroke-width="1.3"/>
<rect x="529.1" y="125.3" width="12.5" height="7.4" fill="rgb(242,196,96)" stroke="#000" stroke-width="1.3"/>
<rect x="552.8" y="99.1" width="13.1" height="23.5" fill="rgb(30,125,192)" stroke="#000" stroke-width="1.3"/>
<rect x="552.8" y="122.6" width="13.1" height="3.8" fill="rgb(170,170,170)" stroke="#000" stroke-width="1.3"/>
<rect x="552.8" y="126.4" width="13.1" height="12" fill="rgb(242,196,96)" stroke="#000" stroke-width="1.3"/>
<rect x="577" y="102.7" width="12.7" height="21.1" fill="rgb(30,125,192)" stroke="#000" stroke-width="1.3"/>
<rect x="577" y="123.8" width="12.7" height="2.4" fill="rgb(170,170,170)" stroke="#000" stroke-width="1.3"/>
<rect x="577" y="126.2" width="12.7" height="5.5" fill="rgb(242,196,96)" stroke="#000" stroke-width="1.3"/>
<rect x="601.2" y="89.6" width="12.6" height="33.6" fill="rgb(30,125,192)" stroke="#000" stroke-width="1.3"/>
<rect x="601.2" y="123.2" width="12.6" height="3.2" fill="rgb(170,170,170)" stroke="#000" stroke-width="1.3"/>
<rect x="601.2" y="126.4" width="12.6" height="4.2" fill="rgb(242,196,96)" stroke="#000" stroke-width="1.3"/>
<rect x="625.3" y="74.2" width="12.7" height="49.8" fill="rgb(30,125,192)" stroke="#000" stroke-width="1.3"/>
<rect x="625.3" y="124" width="12.7" height="1.7" fill="rgb(170,170,170)" stroke="#000" stroke-width="1.3"/>
<rect x="625.3" y="125.7" width="12.7" height="3.6" fill="rgb(242,196,96)" stroke="#000" stroke-width="1.3"/>
<rect x="529.2" y="35.2" width="19.5" height="8" fill="rgb(30,125,192)" stroke="#222" stroke-width="1.0"/>
<rect x="529.2" y="51.3" width="19.5" height="7.6" fill="rgb(242,196,96)" stroke="#222" stroke-width="1.0"/>
<rect x="529.2" y="66.9" width="19.5" height="7.6" fill="rgb(170,170,170)" stroke="#222" stroke-width="1.0"/>
<text x="556.53" y="42.8" font-family="Liberation Sans" font-size="12.5" text-anchor="start" fill="#111" textLength="89.04" lengthAdjust="spacingAndGlyphs" class="c">Non-match rule</text>
<text x="556.67" y="59.3" font-family="Liberation Sans" font-size="12.5" text-anchor="start" fill="#111" textLength="61.89" lengthAdjust="spacingAndGlyphs" class="c">Cue-id rule</text>
<text x="556.55" y="74.7" font-family="Liberation Sans" font-size="12.5" text-anchor="start" fill="#111" textLength="57.72" lengthAdjust="spacingAndGlyphs" class="c">Both rules</text>
<text class="c" x="529.6" y="201.3" font-family="Liberation Sans" font-size="12.8" fill="#111" transform="rotate(45 529.6 201.3)"><tspan>1</tspan><tspan font-size="9.2" dy="-3.2">st</tspan></text>
<text class="c" x="552.9" y="201.3" font-family="Liberation Sans" font-size="12.8" fill="#111" transform="rotate(45 552.9 201.3)"><tspan>2</tspan><tspan font-size="9.2" dy="-3.2">nd</tspan></text>
<text class="c" x="576.2" y="201.3" font-family="Liberation Sans" font-size="12.8" fill="#111" transform="rotate(45 576.2 201.3)"><tspan>3</tspan><tspan font-size="9.2" dy="-3.2">rd</tspan></text>
<text class="c" x="599.5" y="201.3" font-family="Liberation Sans" font-size="12.8" fill="#111" transform="rotate(45 599.5 201.3)"><tspan>4</tspan><tspan font-size="9.2" dy="-3.2">th</tspan></text>
<text class="c" x="622.8" y="201.3" font-family="Liberation Sans" font-size="12.8" fill="#111" transform="rotate(45 622.8 201.3)"><tspan>Last</tspan></text>
<line x1="526.4" y1="335.6" x2="526.4" y2="485.6" stroke="#333" stroke-width="1.3"/>
<line x1="526.4" y1="410.5" x2="631" y2="410.5" stroke="#8a8a8a" stroke-width="0.9"/>
<text x="498.12" y="341.1" font-family="Liberation Sans" font-size="12.6" text-anchor="start" fill="#111" textLength="13.96" lengthAdjust="spacingAndGlyphs" class="c">40</text>
<text x="505.22" y="414.9" font-family="Liberation Sans" font-size="12.6" text-anchor="start" fill="#111" textLength="6.85" lengthAdjust="spacingAndGlyphs" class="c">0</text>
<text x="499.41" y="487.2" font-family="Liberation Sans" font-size="12.6" text-anchor="start" fill="#111" textLength="14.59" lengthAdjust="spacingAndGlyphs" class="c">40</text>
<text x="484.2" y="508.3" font-family="Liberation Sans" font-size="16" fill="#111" textLength="193.27" lengthAdjust="spacingAndGlyphs" transform="rotate(-90 484.2 508.3)" class="c">Rule selective neurons  (%)</text>
<text x="525.36" y="517.7" font-family="Liberation Sans" font-size="15.2" text-anchor="start" fill="#111" textLength="121.41" lengthAdjust="spacingAndGlyphs" class="c">Training sessions</text>
<rect x="530.5" y="373.1" width="8.4" height="32.4" fill="rgb(30,125,192)" stroke="#000" stroke-width="1.3"/>
<rect x="530.5" y="405.5" width="8.4" height="9.7" fill="rgb(170,170,170)" stroke="#000" stroke-width="1.3"/>
<rect x="530.5" y="415.2" width="8.4" height="5.2" fill="rgb(242,196,96)" stroke="#000" stroke-width="1.3"/>
<rect x="538.9" y="401.5" width="7.9" height="8.1" fill="rgb(172,196,226)" stroke="#000" stroke-width="1.3"/>
<rect x="538.9" y="409.6" width="7.9" height="1.7" fill="#ffffff" stroke="#000" stroke-width="1.3"/>
<rect x="538.9" y="411.3" width="7.9" height="13.9" fill="rgb(238,231,166)" stroke="#000" stroke-width="1.3"/>
<rect x="550.3" y="385.8" width="8.3" height="16.8" fill="rgb(30,125,192)" stroke="#000" stroke-width="1.3"/>
<rect x="550.3" y="402.6" width="8.3" height="15.2" fill="rgb(170,170,170)" stroke="#000" stroke-width="1.3"/>
<rect x="550.3" y="417.8" width="8.3" height="28.7" fill="rgb(242,196,96)" stroke="#000" stroke-width="1.3"/>
<rect x="558.6" y="401.5" width="8.2" height="8.1" fill="rgb(172,196,226)" stroke="#000" stroke-width="1.3"/>
<rect x="558.6" y="409.6" width="8.2" height="1.7" fill="#ffffff" stroke="#000" stroke-width="1.3"/>
<rect x="558.6" y="411.3" width="8.2" height="25.8" fill="rgb(238,231,166)" stroke="#000" stroke-width="1.3"/>
<rect x="570.3" y="396.8" width="8.4" height="7.9" fill="rgb(30,125,192)" stroke="#000" stroke-width="1.3"/>
<rect x="570.3" y="404.7" width="8.4" height="11.3" fill="rgb(170,170,170)" stroke="#000" stroke-width="1.3"/>
<rect x="570.3" y="416" width="8.4" height="41.8" fill="rgb(242,196,96)" stroke="#000" stroke-width="1.3"/>
<rect x="578.7" y="406.4" width="7.9" height="1.3" fill="rgb(172,196,226)" stroke="#000" stroke-width="1.3"/>
<rect x="578.7" y="407.7" width="7.9" height="4.9" fill="#ffffff" stroke="#000" stroke-width="1.3"/>
<rect x="578.7" y="412.6" width="7.9" height="36.7" fill="rgb(238,231,166)" stroke="#000" stroke-width="1.3"/>
<rect x="590" y="400.6" width="8.3" height="6.7" fill="rgb(30,125,192)" stroke="#000" stroke-width="1.3"/>
<rect x="590" y="407.3" width="8.3" height="6.1" fill="rgb(170,170,170)" stroke="#000" stroke-width="1.3"/>
<rect x="590" y="413.4" width="8.3" height="48.6" fill="rgb(242,196,96)" stroke="#000" stroke-width="1.3"/>
<rect x="598.3" y="407.3" width="8.1" height="1" fill="rgb(172,196,226)" stroke="#000" stroke-width="1.3"/>
<rect x="598.3" y="408.3" width="8.1" height="3.4" fill="#ffffff" stroke="#000" stroke-width="1.3"/>
<rect x="598.3" y="411.7" width="8.1" height="47.3" fill="rgb(238,231,166)" stroke="#000" stroke-width="1.3"/>
<rect x="610.2" y="402.6" width="8.3" height="7" fill="rgb(30,125,192)" stroke="#000" stroke-width="1.3"/>
<rect x="610.2" y="409.6" width="8.3" height="2.3" fill="rgb(170,170,170)" stroke="#000" stroke-width="1.3"/>
<rect x="610.2" y="411.9" width="8.3" height="44.1" fill="rgb(242,196,96)" stroke="#000" stroke-width="1.3"/>
<rect x="618.5" y="410.4" width="8" height="0.4" fill="rgb(172,196,226)" stroke="#000" stroke-width="1.3"/>
<rect x="618.5" y="410.6" width="8" height="0.2" fill="#ffffff" stroke="#000" stroke-width="1.3"/>
<rect x="618.5" y="410.6" width="8" height="47.5" fill="rgb(238,231,166)" stroke="#000" stroke-width="1.3"/>
<rect x="547.2" y="280.9" width="19.8" height="8" fill="rgb(30,125,192)" stroke="#222" stroke-width="1.0"/>
<rect x="547.2" y="296.8" width="19.8" height="8" fill="rgb(242,196,96)" stroke="#222" stroke-width="1.0"/>
<rect x="547.2" y="312.6" width="19.8" height="7.7" fill="rgb(170,170,170)" stroke="#222" stroke-width="1.0"/>
<rect x="547.2" y="328.1" width="19.8" height="7.8" fill="rgb(172,196,226)" stroke="#222" stroke-width="1.0"/>
<rect x="547.2" y="343.5" width="19.8" height="7.9" fill="rgb(238,231,166)" stroke="#222" stroke-width="1.0"/>
<rect x="547.2" y="359.2" width="19.8" height="8.1" fill="#ffffff" stroke="#222" stroke-width="1.0"/>
<text x="571.33" y="289.2" font-family="Liberation Sans" font-size="12.5" text-anchor="start" fill="#111" textLength="89.24" lengthAdjust="spacingAndGlyphs" class="c">Non-match rule</text>
<text x="571.77" y="305.1" font-family="Liberation Sans" font-size="12.5" text-anchor="start" fill="#111" textLength="61.48" lengthAdjust="spacingAndGlyphs" class="c">Cue-id rule</text>
<text x="571.34" y="320.6" font-family="Liberation Sans" font-size="12.5" text-anchor="start" fill="#111" textLength="58.13" lengthAdjust="spacingAndGlyphs" class="c">Both rules</text>
<text x="571.32" y="336.2" font-family="Liberation Sans" font-size="12.5" text-anchor="start" fill="#111" textLength="115.55" lengthAdjust="spacingAndGlyphs" class="c">Non-match - control</text>
<text x="571.76" y="351.8" font-family="Liberation Sans" font-size="12.5" text-anchor="start" fill="#111" textLength="87.08" lengthAdjust="spacingAndGlyphs" class="c">Cue-id - control</text>
<text x="571.32" y="367.5" font-family="Liberation Sans" font-size="12.5" text-anchor="start" fill="#111" textLength="78.25" lengthAdjust="spacingAndGlyphs" class="c">Both - control</text>
<text class="c" x="530.4" y="484.9" font-family="Liberation Sans" font-size="12.8" fill="#111" transform="rotate(45 530.4 484.9)"><tspan>1</tspan><tspan font-size="9.2" dy="-3.2">st</tspan></text>
<text class="c" x="550" y="484.9" font-family="Liberation Sans" font-size="12.8" fill="#111" transform="rotate(45 550 484.9)"><tspan>2</tspan><tspan font-size="9.2" dy="-3.2">nd</tspan></text>
<text class="c" x="569.6" y="484.9" font-family="Liberation Sans" font-size="12.8" fill="#111" transform="rotate(45 569.6 484.9)"><tspan>3</tspan><tspan font-size="9.2" dy="-3.2">rd</tspan></text>
<text class="c" x="589.2" y="484.9" font-family="Liberation Sans" font-size="12.8" fill="#111" transform="rotate(45 589.2 484.9)"><tspan>4</tspan><tspan font-size="9.2" dy="-3.2">th</tspan></text>
<text class="c" x="608.8" y="484.9" font-family="Liberation Sans" font-size="12.8" fill="#111" transform="rotate(45 608.8 484.9)"><tspan>Last</tspan></text>
<line x1="527" y1="638.5" x2="527" y2="788.8" stroke="#333" stroke-width="1.3"/>
<line x1="527" y1="713.3" x2="631.5" y2="713.3" stroke="#8a8a8a" stroke-width="0.9"/>
<text x="501.01" y="641.9" font-family="Liberation Sans" font-size="12.6" text-anchor="start" fill="#111" textLength="14.59" lengthAdjust="spacingAndGlyphs" class="c">40</text>
<text x="508.07" y="717.6" font-family="Liberation Sans" font-size="12.6" text-anchor="start" fill="#111" textLength="7.55" lengthAdjust="spacingAndGlyphs" class="c">0</text>
<text x="503.03" y="790" font-family="Liberation Sans" font-size="12.6" text-anchor="start" fill="#111" textLength="13.75" lengthAdjust="spacingAndGlyphs" class="c">40</text>
<text x="485.1" y="814.19" font-family="Liberation Sans" font-size="16" fill="#111" textLength="192.97" lengthAdjust="spacingAndGlyphs" transform="rotate(-90 485.1 814.19)" class="c">Rule selective neurons  (%)</text>
<text x="524.35" y="822.7" font-family="Liberation Sans" font-size="15.2" text-anchor="start" fill="#111" textLength="122.42" lengthAdjust="spacingAndGlyphs" class="c">Training sessions</text>
<rect x="531" y="695.8" width="8.4" height="13.1" fill="rgb(30,125,192)" stroke="#000" stroke-width="1.3"/>
<rect x="531" y="708.9" width="8.4" height="9.3" fill="rgb(170,170,170)" stroke="#000" stroke-width="1.3"/>
<rect x="531" y="718.2" width="8.4" height="45" fill="rgb(242,196,96)" stroke="#000" stroke-width="1.3"/>
<rect x="539.4" y="707.5" width="8.1" height="3.7" fill="rgb(172,196,226)" stroke="#000" stroke-width="1.3"/>
<rect x="539.4" y="711.2" width="8.1" height="4.4" fill="#ffffff" stroke="#000" stroke-width="1.3"/>
<rect x="539.4" y="715.6" width="8.1" height="40.3" fill="rgb(238,231,166)" stroke="#000" stroke-width="1.3"/>
<rect x="551" y="701" width="8.4" height="8.3" fill="rgb(30,125,192)" stroke="#000" stroke-width="1.3"/>
<rect x="551" y="709.3" width="8.4" height="8.9" fill="rgb(170,170,170)" stroke="#000" stroke-width="1.3"/>
<rect x="551" y="718.2" width="8.4" height="38.9" fill="rgb(242,196,96)" stroke="#000" stroke-width="1.3"/>
<rect x="559.4" y="709.4" width="7.9" height="2.1" fill="rgb(172,196,226)" stroke="#000" stroke-width="1.3"/>
<rect x="559.4" y="711.5" width="7.9" height="4.1" fill="#ffffff" stroke="#000" stroke-width="1.3"/>
<rect x="559.4" y="715.6" width="7.9" height="38.9" fill="rgb(238,231,166)" stroke="#000" stroke-width="1.3"/>
<rect x="570.8" y="700.1" width="8.4" height="10.6" fill="rgb(30,125,192)" stroke="#000" stroke-width="1.3"/>
<rect x="570.8" y="710.7" width="8.4" height="5.7" fill="rgb(170,170,170)" stroke="#000" stroke-width="1.3"/>
<rect x="570.8" y="716.4" width="8.4" height="44.2" fill="rgb(242,196,96)" stroke="#000" stroke-width="1.3"/>
<rect x="579.2" y="708.6" width="7.9" height="2.6" fill="rgb(172,196,226)" stroke="#000" stroke-width="1.3"/>
<rect x="579.2" y="711.2" width="7.9" height="4.4" fill="#ffffff" stroke="#000" stroke-width="1.3"/>
<rect x="579.2" y="715.6" width="7.9" height="52.9" fill="rgb(238,231,166)" stroke="#000" stroke-width="1.3"/>
<rect x="590.6" y="690.5" width="8.2" height="18.4" fill="rgb(30,125,192)" stroke="#000" stroke-width="1.3"/>
<rect x="590.6" y="708.9" width="8.2" height="9.6" fill="rgb(170,170,170)" stroke="#000" stroke-width="1.3"/>
<rect x="590.6" y="718.5" width="8.2" height="60" fill="rgb(242,196,96)" stroke="#000" stroke-width="1.3"/>
<rect x="598.8" y="707.5" width="7.9" height="3.7" fill="rgb(172,196,226)" stroke="#000" stroke-width="1.3"/>
<rect x="598.8" y="711.2" width="7.9" height="5.2" fill="#ffffff" stroke="#000" stroke-width="1.3"/>
<rect x="598.8" y="716.4" width="7.9" height="43.8" fill="rgb(238,231,166)" stroke="#000" stroke-width="1.3"/>
<rect x="610.6" y="700.1" width="8.4" height="9.7" fill="rgb(30,125,192)" stroke="#000" stroke-width="1.3"/>
<rect x="610.6" y="709.8" width="8.4" height="7.5" fill="rgb(170,170,170)" stroke="#000" stroke-width="1.3"/>
<rect x="610.6" y="717.3" width="8.4" height="52.1" fill="rgb(242,196,96)" stroke="#000" stroke-width="1.3"/>
<rect x="619" y="706.8" width="7.9" height="4.7" fill="rgb(172,196,226)" stroke="#000" stroke-width="1.3"/>
<rect x="619" y="711.5" width="7.9" height="4.1" fill="#ffffff" stroke="#000" stroke-width="1.3"/>
<rect x="619" y="715.6" width="7.9" height="39.7" fill="rgb(238,231,166)" stroke="#000" stroke-width="1.3"/>
<text class="c" x="530.4" y="790.8" font-family="Liberation Sans" font-size="12.8" fill="#111" transform="rotate(45 530.4 790.8)"><tspan>1</tspan><tspan font-size="9.2" dy="-3.2">st</tspan></text>
<text class="c" x="550" y="790.8" font-family="Liberation Sans" font-size="12.8" fill="#111" transform="rotate(45 550 790.8)"><tspan>2</tspan><tspan font-size="9.2" dy="-3.2">nd</tspan></text>
<text class="c" x="569.6" y="790.8" font-family="Liberation Sans" font-size="12.8" fill="#111" transform="rotate(45 569.6 790.8)"><tspan>3</tspan><tspan font-size="9.2" dy="-3.2">rd</tspan></text>
<text class="c" x="589.2" y="790.8" font-family="Liberation Sans" font-size="12.8" fill="#111" transform="rotate(45 589.2 790.8)"><tspan>4</tspan><tspan font-size="9.2" dy="-3.2">th</tspan></text>
<text class="c" x="608.8" y="790.8" font-family="Liberation Sans" font-size="12.8" fill="#111" transform="rotate(45 608.8 790.8)"><tspan>Last</tspan></text>
</svg>
</body></html>
